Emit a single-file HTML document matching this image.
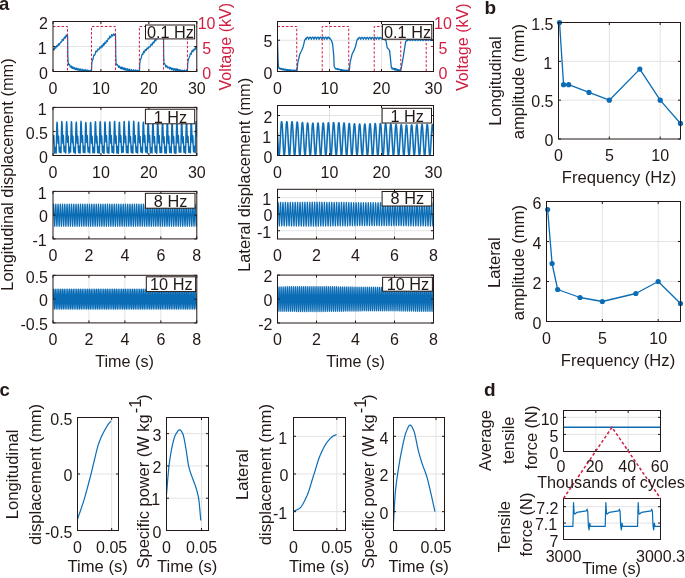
<!DOCTYPE html>
<html><head><meta charset="utf-8"><title>Figure</title>
<style>html,body{margin:0;padding:0;background:#fff;width:685px;height:578px;overflow:hidden;}svg{display:block;font-family:"Liberation Sans", sans-serif;will-change:transform;}</style>
</head><body>
<svg width="685" height="578" viewBox="0 0 685 578" font-family='"Liberation Sans", sans-serif'><rect width="685" height="578" fill="#fff"/>
<rect x="53.00" y="21.50" width="143.80" height="50.00" fill="#fff"/>
<rect x="53.00" y="107.40" width="143.80" height="48.10" fill="#fff"/>
<rect x="53.00" y="191.40" width="143.80" height="47.50" fill="#fff"/>
<rect x="53.00" y="275.30" width="143.80" height="47.60" fill="#fff"/>
<rect x="277.50" y="21.50" width="156.00" height="50.00" fill="#fff"/>
<rect x="277.50" y="105.50" width="156.00" height="50.00" fill="#fff"/>
<rect x="277.50" y="189.30" width="156.00" height="49.70" fill="#fff"/>
<rect x="277.50" y="275.10" width="156.00" height="47.90" fill="#fff"/>
<line x1="100.93" y1="21.50" x2="100.93" y2="71.50" stroke="#e3e3e3" stroke-width="1"/>
<line x1="148.87" y1="21.50" x2="148.87" y2="71.50" stroke="#e3e3e3" stroke-width="1"/>
<line x1="53.00" y1="46.50" x2="196.80" y2="46.50" stroke="#e3e3e3" stroke-width="1"/>
<line x1="100.93" y1="107.40" x2="100.93" y2="155.50" stroke="#e3e3e3" stroke-width="1"/>
<line x1="148.87" y1="107.40" x2="148.87" y2="155.50" stroke="#e3e3e3" stroke-width="1"/>
<line x1="53.00" y1="131.45" x2="196.80" y2="131.45" stroke="#e3e3e3" stroke-width="1"/>
<line x1="88.95" y1="191.40" x2="88.95" y2="238.90" stroke="#e3e3e3" stroke-width="1"/>
<line x1="124.90" y1="191.40" x2="124.90" y2="238.90" stroke="#e3e3e3" stroke-width="1"/>
<line x1="160.85" y1="191.40" x2="160.85" y2="238.90" stroke="#e3e3e3" stroke-width="1"/>
<line x1="53.00" y1="215.15" x2="196.80" y2="215.15" stroke="#e3e3e3" stroke-width="1"/>
<line x1="88.95" y1="275.30" x2="88.95" y2="322.90" stroke="#e3e3e3" stroke-width="1"/>
<line x1="124.90" y1="275.30" x2="124.90" y2="322.90" stroke="#e3e3e3" stroke-width="1"/>
<line x1="160.85" y1="275.30" x2="160.85" y2="322.90" stroke="#e3e3e3" stroke-width="1"/>
<line x1="53.00" y1="299.10" x2="196.80" y2="299.10" stroke="#e3e3e3" stroke-width="1"/>
<line x1="329.50" y1="21.50" x2="329.50" y2="71.50" stroke="#e3e3e3" stroke-width="1"/>
<line x1="381.50" y1="21.50" x2="381.50" y2="71.50" stroke="#e3e3e3" stroke-width="1"/>
<line x1="277.50" y1="40.25" x2="433.50" y2="40.25" stroke="#e3e3e3" stroke-width="1"/>
<line x1="329.50" y1="105.50" x2="329.50" y2="155.50" stroke="#e3e3e3" stroke-width="1"/>
<line x1="381.50" y1="105.50" x2="381.50" y2="155.50" stroke="#e3e3e3" stroke-width="1"/>
<line x1="277.50" y1="135.50" x2="433.50" y2="135.50" stroke="#e3e3e3" stroke-width="1"/>
<line x1="277.50" y1="115.50" x2="433.50" y2="115.50" stroke="#e3e3e3" stroke-width="1"/>
<line x1="316.50" y1="189.30" x2="316.50" y2="239.00" stroke="#e3e3e3" stroke-width="1"/>
<line x1="355.50" y1="189.30" x2="355.50" y2="239.00" stroke="#e3e3e3" stroke-width="1"/>
<line x1="394.50" y1="189.30" x2="394.50" y2="239.00" stroke="#e3e3e3" stroke-width="1"/>
<line x1="277.50" y1="230.72" x2="433.50" y2="230.72" stroke="#e3e3e3" stroke-width="1"/>
<line x1="277.50" y1="214.15" x2="433.50" y2="214.15" stroke="#e3e3e3" stroke-width="1"/>
<line x1="277.50" y1="197.58" x2="433.50" y2="197.58" stroke="#e3e3e3" stroke-width="1"/>
<line x1="316.50" y1="275.10" x2="316.50" y2="323.00" stroke="#e3e3e3" stroke-width="1"/>
<line x1="355.50" y1="275.10" x2="355.50" y2="323.00" stroke="#e3e3e3" stroke-width="1"/>
<line x1="394.50" y1="275.10" x2="394.50" y2="323.00" stroke="#e3e3e3" stroke-width="1"/>
<line x1="277.50" y1="299.05" x2="433.50" y2="299.05" stroke="#e3e3e3" stroke-width="1"/>
<clipPath id="c1"><rect x="53.00" y="20.50" width="143.80" height="52.00"/></clipPath>
<g clip-path="url(#c1)">
<polyline points="53.00,50.26 53.16,49.36 53.32,49.11 53.48,48.74 53.64,48.86 53.80,49.72 53.96,50.06 54.12,49.34 54.28,49.74 54.44,49.31 54.60,47.95 54.76,47.90 54.92,47.14 55.08,47.38 55.24,47.35 55.40,48.13 55.56,47.92 55.72,47.80 55.88,47.99 56.04,47.37 56.20,46.88 56.36,46.91 56.52,45.77 56.67,45.72 56.83,46.03 56.99,46.52 57.15,45.96 57.31,46.55 57.47,46.32 57.63,45.95 57.79,45.70 57.95,44.95 58.11,44.93 58.27,44.09 58.43,44.21 58.59,43.69 58.75,43.89 58.91,44.91 59.07,45.09 59.23,45.11 59.39,44.28 59.55,44.53 59.71,43.91 59.87,43.71 60.03,43.00 60.19,42.71 60.35,42.45 60.51,42.11 60.67,42.16 60.83,41.99 60.99,42.38 61.15,42.22 61.31,42.23 61.47,41.87 61.63,41.79 61.79,41.77 61.95,40.51 62.11,39.88 62.27,39.54 62.43,39.64 62.59,39.44 62.75,40.03 62.91,39.57 63.07,39.98 63.23,40.32 63.39,40.44 63.55,39.35 63.71,38.76 63.86,39.10 64.02,37.82 64.18,37.72 64.34,37.65 64.50,37.38 64.66,36.95 64.82,37.02 64.98,38.03 65.14,37.63 65.30,38.19 65.46,37.29 65.62,37.26 65.78,36.19 65.94,35.56 66.10,35.63 66.26,34.94 66.42,35.67 66.58,36.12 66.74,35.89 66.90,36.68 67.06,36.56 67.22,36.15 67.38,35.51 67.54,35.47 67.70,42.16 67.86,55.41 68.02,59.19 68.18,62.02 68.34,63.04 68.50,64.24 68.66,64.69 68.82,64.90 68.98,64.77 69.14,64.63 69.30,64.46 69.46,64.34 69.62,64.23 69.78,65.16 69.94,65.92 70.10,66.25 70.26,67.12 70.42,67.17 70.58,66.31 70.74,66.42 70.90,66.05 71.05,66.42 71.21,66.13 71.37,66.36 71.53,67.48 71.69,67.42 71.85,67.75 72.01,68.38 72.17,67.61 72.33,67.42 72.49,66.86 72.65,67.01 72.81,66.75 72.97,67.07 73.13,68.28 73.29,68.73 73.45,68.43 73.61,68.20 73.77,68.72 73.93,68.16 74.09,67.65 74.25,67.69 74.41,67.64 74.57,67.93 74.73,68.29 74.89,68.55 75.05,69.26 75.21,69.41 75.37,69.01 75.53,69.54 75.69,68.67 75.85,68.16 76.01,68.34 76.17,68.37 76.33,67.95 76.49,68.85 76.65,69.33 76.81,69.49 76.97,69.52 77.13,70.22 77.29,69.92 77.45,69.66 77.61,68.83 77.77,68.90 77.93,68.26 78.09,68.89 78.24,68.85 78.40,68.82 78.56,68.98 78.72,69.81 78.88,70.37 79.04,70.66 79.20,70.26 79.36,70.44 79.52,69.54 79.68,69.18 79.84,69.55 80.00,69.29 80.16,68.76 80.32,69.10 80.48,69.26 80.64,70.12 80.80,70.73 80.96,70.86 81.12,70.49 81.28,70.97 81.44,70.68 81.60,70.28 81.76,69.95 81.92,69.71 82.08,69.09 82.24,69.94 82.40,70.37 82.56,69.82 82.72,70.29 82.88,70.50 83.04,71.20 83.20,70.62 83.36,70.38 83.52,70.71 83.68,69.81 83.84,69.47 84.00,69.60 84.16,69.94 84.32,70.54 84.48,70.94 84.64,71.43 84.80,71.50 84.96,71.22 85.12,71.24 85.28,70.31 85.43,70.68 85.59,69.60 85.75,69.83 85.91,69.89 86.07,70.36 86.23,70.82 86.39,71.45 86.55,71.50 86.71,71.10 86.87,71.25 87.03,70.69 87.19,70.04 87.35,70.17 87.51,70.55 87.67,70.48 87.83,71.27 87.99,71.50 88.15,71.50 88.31,71.07 88.47,71.02 88.63,70.28 88.79,70.46 88.95,70.65 89.11,70.62 89.27,70.80 89.43,71.50 89.59,71.50 89.75,71.37 89.91,71.20 90.07,70.74 90.23,71.14 90.39,70.30 90.55,70.11 90.71,71.23 90.87,71.46 91.03,71.50 91.19,71.50 91.35,71.50 91.51,71.50 91.67,68.35 91.83,62.87 91.99,61.92 92.15,61.19 92.31,60.78 92.47,60.60 92.62,59.52 92.78,59.40 92.94,59.74 93.10,58.67 93.26,57.99 93.42,57.00 93.58,56.12 93.74,55.25 93.90,54.91 94.06,54.96 94.22,55.12 94.38,55.07 94.54,55.35 94.70,54.87 94.86,54.48 95.02,54.40 95.18,54.11 95.34,53.34 95.50,52.49 95.66,51.70 95.82,51.12 95.98,51.37 96.14,51.03 96.30,51.39 96.46,51.78 96.62,51.97 96.78,51.83 96.94,51.43 97.10,51.35 97.26,50.59 97.42,50.29 97.58,50.01 97.74,49.35 97.90,48.99 98.06,49.60 98.22,49.38 98.38,49.59 98.54,49.34 98.70,49.39 98.86,49.90 99.02,49.14 99.18,48.84 99.34,48.87 99.50,48.14 99.66,48.04 99.81,47.07 99.97,47.13 100.13,47.00 100.29,47.31 100.45,47.68 100.61,47.76 100.77,47.91 100.93,48.13 101.09,47.22 101.25,47.26 101.41,46.57 101.57,45.52 101.73,46.04 101.89,46.01 102.05,46.20 102.21,45.70 102.37,46.61 102.53,46.80 102.69,45.76 102.85,46.02 103.01,44.72 103.17,44.33 103.33,43.77 103.49,43.51 103.65,44.00 103.81,44.06 103.97,45.11 104.13,44.51 104.29,44.64 104.45,44.03 104.61,44.06 104.77,42.82 104.93,42.19 105.09,42.87 105.25,42.66 105.41,42.67 105.57,42.65 105.73,43.32 105.89,43.18 106.05,42.63 106.21,41.61 106.37,40.83 106.53,40.73 106.69,40.58 106.85,40.66 107.00,40.96 107.16,41.12 107.32,41.50 107.48,40.84 107.64,39.86 107.80,39.76 107.96,38.81 108.12,38.96 108.28,38.27 108.44,38.30 108.60,38.62 108.76,39.00 108.92,39.08 109.08,38.72 109.24,38.01 109.40,38.14 109.56,37.57 109.72,36.42 109.88,36.02 110.04,36.47 110.20,36.77 110.36,36.79 110.52,37.54 110.68,37.49 110.84,37.37 111.00,36.58 111.16,36.32 111.32,35.88 111.48,35.00 111.64,34.51 111.80,35.16 111.96,34.91 112.12,35.45 112.28,35.28 112.44,35.73 112.60,36.05 112.76,35.91 112.92,35.75 113.08,34.86 113.24,34.52 113.40,34.39 113.56,34.03 113.72,34.08 113.88,33.80 114.04,34.81 114.19,34.35 114.35,35.19 114.51,35.25 114.67,35.39 114.83,34.85 114.99,34.58 115.15,34.50 115.31,34.28 115.47,34.00 115.63,41.07 115.79,55.99 115.95,59.15 116.11,62.50 116.27,63.89 116.43,64.63 116.59,64.96 116.75,64.64 116.91,64.67 117.07,64.27 117.23,64.24 117.39,64.80 117.55,64.96 117.71,65.20 117.87,65.75 118.03,65.77 118.19,66.11 118.35,66.47 118.51,67.34 118.67,66.75 118.83,67.12 118.99,66.71 119.15,66.11 119.31,66.58 119.47,66.61 119.63,66.14 119.79,67.14 119.95,67.60 120.11,67.84 120.27,68.02 120.43,68.69 120.59,68.12 120.75,67.65 120.91,67.25 121.07,67.34 121.23,67.03 121.38,66.99 121.54,68.04 121.70,68.38 121.86,69.15 122.02,69.07 122.18,68.49 122.34,68.67 122.50,67.50 122.66,67.25 122.82,68.11 122.98,67.58 123.14,68.65 123.30,68.76 123.46,69.12 123.62,69.63 123.78,69.02 123.94,68.63 124.10,68.07 124.26,68.39 124.42,67.97 124.58,68.11 124.74,68.89 124.90,69.50 125.06,70.20 125.22,69.81 125.38,69.68 125.54,68.90 125.70,68.55 125.86,68.47 126.02,68.94 126.18,68.81 126.34,69.30 126.50,70.21 126.66,69.79 126.82,70.06 126.98,70.37 127.14,69.18 127.30,69.59 127.46,69.14 127.62,68.73 127.78,69.07 127.94,69.52 128.10,69.89 128.26,70.46 128.42,70.82 128.57,70.93 128.73,70.81 128.89,69.81 129.05,69.41 129.21,69.38 129.37,69.13 129.53,69.66 129.69,70.09 129.85,70.39 130.01,70.30 130.17,71.41 130.33,71.05 130.49,71.21 130.65,70.43 130.81,70.49 130.97,70.17 131.13,69.86 131.29,69.64 131.45,69.51 131.61,70.19 131.77,70.06 131.93,71.18 132.09,71.34 132.25,71.50 132.41,71.50 132.57,70.84 132.73,70.60 132.89,70.80 133.05,70.48 133.21,70.06 133.37,69.71 133.53,69.79 133.69,70.15 133.85,70.69 134.01,71.50 134.17,71.50 134.33,71.50 134.49,71.48 134.65,71.22 134.81,71.24 134.97,70.83 135.13,70.02 135.29,70.64 135.45,69.94 135.61,70.11 135.76,70.43 135.92,71.40 136.08,71.50 136.24,71.50 136.40,71.50 136.56,70.92 136.72,70.83 136.88,70.84 137.04,70.02 137.20,70.34 137.36,70.41 137.52,70.65 137.68,71.50 137.84,71.42 138.00,71.50 138.16,71.50 138.32,71.50 138.48,71.14 138.64,71.01 138.80,70.44 138.96,70.96 139.12,70.78 139.28,71.08 139.44,71.50 139.60,69.22 139.76,63.01 139.92,62.23 140.08,61.95 140.24,60.25 140.40,59.54 140.56,59.50 140.72,58.87 140.88,58.84 141.04,58.85 141.20,58.07 141.36,57.08 141.52,56.95 141.68,55.65 141.84,55.08 142.00,55.09 142.16,54.10 142.32,54.36 142.48,54.19 142.64,54.53 142.80,54.44 142.95,54.49 143.11,53.41 143.27,52.53 143.43,51.88 143.59,51.78 143.75,51.21 143.91,51.54 144.07,52.19 144.23,52.51 144.39,52.56 144.55,52.26 144.71,51.87 144.87,50.96 145.03,50.16 145.19,49.87 145.35,49.75 145.51,49.54 145.67,50.08 145.83,50.19 145.99,50.09 146.15,50.47 146.31,50.48 146.47,49.34 146.63,48.98 146.79,48.79 146.95,48.35 147.11,47.95 147.27,47.84 147.43,48.36 147.59,48.81 147.75,48.83 147.91,48.36 148.07,48.93 148.23,48.35 148.39,48.19 148.55,47.65 148.71,47.18 148.87,46.53 149.03,46.51 149.19,46.58 149.35,46.58 149.51,46.72 149.67,46.61 149.83,47.19 149.99,47.24 150.14,46.65 150.30,46.35 150.46,45.59 150.62,45.73 150.78,44.89 150.94,44.53 151.10,44.70 151.26,43.74 151.42,44.61 151.58,44.95 151.74,44.78 151.90,45.20 152.06,44.70 152.22,44.75 152.38,44.57 152.54,44.14 152.70,42.94 152.86,42.94 153.02,42.12 153.18,42.30 153.34,41.87 153.50,42.67 153.66,42.91 153.82,43.00 153.98,42.38 154.14,42.28 154.30,42.09 154.46,41.74 154.62,40.56 154.78,39.80 154.94,39.91 155.10,40.47 155.26,40.60 155.42,40.77 155.58,40.85 155.74,40.96 155.90,40.66 156.06,39.56 156.22,38.68 156.38,38.77 156.54,37.55 156.70,37.87 156.86,37.61 157.02,37.73 157.18,37.94 157.33,38.92 157.49,38.46 157.65,37.70 157.81,36.76 157.97,37.04 158.13,36.42 158.29,35.72 158.45,36.59 158.61,36.63 158.77,37.00 158.93,36.79 159.09,36.39 159.25,36.72 159.41,35.57 159.57,35.00 159.73,34.52 159.89,34.71 160.05,34.51 160.21,35.43 160.37,35.73 160.53,36.08 160.69,35.40 160.85,35.31 161.01,35.00 161.17,34.61 161.33,33.76 161.49,33.85 161.65,33.98 161.81,34.67 161.97,35.02 162.13,35.62 162.29,35.08 162.45,35.54 162.61,34.71 162.77,34.02 162.93,33.84 163.09,34.38 163.25,34.45 163.41,34.38 163.57,42.25 163.73,56.70 163.89,60.09 164.05,63.66 164.21,63.49 164.37,63.50 164.52,63.75 164.68,63.67 164.84,64.11 165.00,64.14 165.16,64.11 165.32,65.59 165.48,65.74 165.64,66.69 165.80,67.05 165.96,66.54 166.12,66.77 166.28,66.69 166.44,66.33 166.60,65.67 166.76,65.72 166.92,66.46 167.08,66.58 167.24,66.29 167.40,67.50 167.56,67.56 167.72,67.96 167.88,67.69 168.04,67.78 168.20,67.39 168.36,67.35 168.52,67.43 168.68,67.28 168.84,67.38 169.00,66.82 169.16,67.87 169.32,68.38 169.48,67.85 169.64,68.94 169.80,68.42 169.96,69.21 170.12,68.65 170.28,68.59 170.44,67.67 170.60,67.64 170.76,67.54 170.92,67.53 171.08,67.72 171.24,68.68 171.40,68.87 171.56,69.39 171.71,69.91 171.87,69.14 172.03,69.14 172.19,68.56 172.35,68.81 172.51,68.24 172.67,68.29 172.83,68.24 172.99,69.28 173.15,69.48 173.31,69.74 173.47,70.37 173.63,69.85 173.79,69.40 173.95,69.31 174.11,68.72 174.27,68.56 174.43,69.00 174.59,69.18 174.75,69.00 174.91,70.14 175.07,70.36 175.23,70.75 175.39,70.39 175.55,70.04 175.71,68.87 175.87,68.83 176.03,68.72 176.19,68.92 176.35,69.78 176.51,69.94 176.67,70.65 176.83,70.78 176.99,70.00 177.15,69.63 177.31,69.18 177.47,69.44 177.63,69.23 177.79,69.95 177.95,69.85 178.11,70.37 178.27,71.25 178.43,70.57 178.59,71.02 178.75,70.67 178.90,69.65 179.06,69.88 179.22,69.72 179.38,69.93 179.54,70.99 179.70,70.72 179.86,71.46 180.02,71.31 180.18,71.15 180.34,70.36 180.50,69.96 180.66,70.15 180.82,70.29 180.98,70.30 181.14,70.57 181.30,71.35 181.46,71.50 181.62,71.22 181.78,71.24 181.94,70.72 182.10,70.35 182.26,70.08 182.42,70.32 182.58,70.45 182.74,70.43 182.90,70.58 183.06,70.91 183.22,71.28 183.38,71.50 183.54,71.34 183.70,71.50 183.86,71.37 184.02,70.59 184.18,70.32 184.34,70.57 184.50,70.53 184.66,70.05 184.82,71.09 184.98,71.33 185.14,71.30 185.30,71.50 185.46,71.50 185.62,71.50 185.78,71.50 185.94,71.09 186.09,71.04 186.25,70.21 186.41,70.19 186.57,69.96 186.73,71.03 186.89,71.17 187.05,71.50 187.21,71.50 187.37,71.50 187.53,69.78 187.69,63.38 187.85,62.99 188.01,61.82 188.17,60.92 188.33,59.47 188.49,59.11 188.65,58.73 188.81,58.59 188.97,57.98 189.13,57.57 189.29,57.24 189.45,56.69 189.61,56.41 189.77,56.39 189.93,55.80 190.09,54.49 190.25,53.88 190.41,53.80 190.57,53.35 190.73,53.68 190.89,54.08 191.05,54.25 191.21,54.28 191.37,53.27 191.53,52.41 191.69,51.67 191.85,51.46 192.01,50.86 192.17,50.45 192.33,50.67 192.49,51.15 192.65,51.61 192.81,51.61 192.97,51.80 193.13,51.35 193.28,50.24 193.44,49.32 193.60,49.32 193.76,49.30 193.92,49.49 194.08,49.68 194.24,49.63 194.40,50.09 194.56,49.42 194.72,49.77 194.88,49.01 195.04,48.21 195.20,47.93 195.36,47.39 195.52,47.58 195.68,47.78 195.84,48.38 196.00,49.03 196.16,48.28 196.32,47.83 196.48,47.29 196.64,46.93 196.80,46.13" fill="none" stroke="#0a6cb5" stroke-width="1.2" stroke-linejoin="round"/>
<polyline points="53.00,26.50 67.52,26.50 67.52,71.50 91.49,71.50 91.49,26.50 115.46,26.50 115.46,71.50 139.38,71.50 139.38,26.50 163.49,26.50 163.49,71.50 187.45,71.50 187.45,26.50 196.80,26.50" fill="none" stroke="#d11f43" stroke-width="1" stroke-linejoin="round" stroke-dasharray="2.5 1.8"/>
</g>
<clipPath id="c2"><rect x="277.50" y="20.50" width="156.00" height="52.00"/></clipPath>
<g clip-path="url(#c2)">
<polyline points="277.50,40.46 277.67,47.00 277.85,52.16 278.02,58.19 278.19,62.51 278.37,64.68 278.54,67.16 278.71,67.61 278.89,68.20 279.06,67.60 279.23,68.48 279.41,68.41 279.58,68.10 279.75,68.74 279.93,68.87 280.10,68.23 280.27,68.27 280.45,68.93 280.62,68.89 280.79,69.03 280.97,69.22 281.14,69.13 281.31,68.44 281.49,69.37 281.66,69.26 281.83,69.32 282.01,69.48 282.18,69.06 282.35,68.88 282.53,68.82 282.70,69.06 282.87,68.91 283.05,69.76 283.22,69.52 283.39,68.87 283.57,69.80 283.74,69.63 283.91,69.45 284.09,69.70 284.26,69.46 284.43,69.99 284.61,69.84 284.78,69.15 284.95,70.00 285.13,69.27 285.30,70.03 285.47,69.25 285.65,69.61 285.82,69.67 285.99,70.21 286.17,70.33 286.34,69.66 286.51,70.28 286.69,70.30 286.86,69.70 287.03,69.68 287.21,70.54 287.38,69.66 287.55,70.10 287.73,70.27 287.90,70.56 288.07,70.29 288.25,69.71 288.42,70.43 288.59,70.59 288.77,70.59 288.94,70.62 289.11,70.41 289.29,69.86 289.46,70.71 289.63,70.61 289.81,69.87 289.98,69.83 290.15,69.86 290.33,70.61 290.50,70.51 290.67,69.93 290.85,70.41 291.02,70.21 291.19,70.61 291.37,70.91 291.54,70.60 291.71,70.21 291.89,70.19 292.06,70.42 292.23,70.54 292.41,70.48 292.58,70.59 292.75,70.51 292.93,70.22 293.10,70.87 293.27,70.49 293.45,70.17 293.62,70.26 293.79,70.95 293.97,70.18 294.14,70.31 294.31,71.00 294.49,70.91 294.66,70.99 294.83,71.15 295.01,70.24 295.18,70.82 295.35,70.37 295.53,71.15 295.70,71.26 295.87,70.42 296.05,70.51 296.22,70.32 296.39,70.64 296.57,70.82 296.74,70.59 296.91,71.28 297.09,69.96 297.26,68.13 297.43,66.29 297.61,64.46 297.78,62.62 297.95,61.91 298.13,61.19 298.30,60.47 298.47,59.75 298.65,59.03 298.82,58.31 298.99,57.59 299.17,56.87 299.34,56.16 299.51,55.44 299.69,54.72 299.86,54.00 300.03,53.67 300.21,53.35 300.38,53.02 300.55,52.70 300.73,52.37 300.90,52.05 301.07,51.72 301.25,51.40 301.42,51.07 301.59,50.70 301.77,50.26 301.94,49.81 302.11,49.37 302.29,48.93 302.46,48.49 302.63,48.05 302.81,47.60 302.98,47.16 303.15,46.72 303.33,46.13 303.50,45.38 303.67,44.64 303.85,43.90 304.02,43.15 304.19,42.41 304.37,41.66 304.54,40.92 304.71,40.22 304.89,39.92 305.06,39.61 305.23,39.31 305.41,39.00 305.58,38.70 305.75,38.42 305.93,38.86 306.10,39.31 306.27,38.86 306.45,38.42 306.62,38.03 306.79,37.69 306.97,37.42 307.14,37.23 307.31,37.14 307.49,37.14 307.66,37.23 307.83,37.42 308.01,37.69 308.18,38.03 308.35,38.42 308.53,38.86 308.70,39.31 308.87,38.86 309.05,38.42 309.22,38.03 309.39,37.69 309.57,37.42 309.74,37.23 309.91,37.14 310.09,37.14 310.26,37.23 310.43,37.42 310.61,37.69 310.78,38.03 310.95,38.42 311.13,38.86 311.30,39.31 311.47,38.86 311.65,38.42 311.82,38.03 311.99,37.69 312.17,37.42 312.34,37.23 312.51,37.14 312.69,37.14 312.86,37.23 313.03,37.42 313.21,37.69 313.38,38.03 313.55,38.42 313.73,38.86 313.90,39.31 314.07,38.86 314.25,38.42 314.42,38.03 314.59,37.69 314.77,37.42 314.94,37.23 315.11,37.14 315.29,37.14 315.46,37.23 315.63,37.42 315.81,37.69 315.98,38.03 316.15,38.42 316.33,38.86 316.50,39.31 316.67,38.86 316.85,38.42 317.02,38.03 317.19,37.69 317.37,37.42 317.54,37.23 317.71,37.14 317.89,37.14 318.06,37.23 318.23,37.42 318.41,37.69 318.58,38.03 318.75,38.42 318.93,38.86 319.10,39.31 319.27,38.86 319.45,38.42 319.62,38.03 319.79,37.69 319.97,37.42 320.14,37.23 320.31,37.14 320.49,37.14 320.66,37.23 320.83,37.42 321.01,37.69 321.18,38.03 321.35,38.42 321.53,38.86 321.70,39.31 321.87,38.86 322.05,38.42 322.22,38.03 322.39,37.69 322.57,37.42 322.74,37.23 322.91,37.14 323.09,37.14 323.26,37.23 323.43,37.42 323.61,37.69 323.78,38.03 323.95,38.42 324.13,38.86 324.30,39.31 324.47,38.86 324.65,38.42 324.82,38.03 324.99,37.69 325.17,37.42 325.34,37.23 325.51,37.14 325.69,37.14 325.86,37.23 326.03,37.42 326.21,37.69 326.38,38.03 326.55,38.42 326.73,38.86 326.90,39.31 327.07,38.86 327.25,38.42 327.42,38.03 327.59,37.69 327.77,37.42 327.94,37.23 328.11,37.14 328.29,37.14 328.46,37.23 328.63,37.42 328.81,37.69 328.98,38.03 329.15,38.42 329.33,38.86 329.50,37.75 329.67,37.99 329.85,38.23 330.02,38.46 330.19,38.70 330.37,38.94 330.54,39.18 330.71,39.42 330.89,39.65 331.06,39.89 331.23,40.13 331.41,40.50 331.58,41.00 331.75,41.50 331.93,42.00 332.10,42.50 332.27,43.00 332.45,43.50 332.62,44.00 332.79,45.81 332.97,47.62 333.14,49.43 333.31,51.25 333.49,53.06 333.66,54.87 333.83,56.98 334.01,61.74 334.18,66.50 334.35,66.76 334.53,67.03 334.70,67.29 334.87,67.52 335.05,67.88 335.22,68.44 335.39,68.25 335.57,68.79 335.74,68.87 335.91,69.04 336.09,69.13 336.26,69.12 336.43,68.91 336.61,68.57 336.78,68.65 336.95,68.76 337.13,68.82 337.30,69.41 337.47,68.75 337.65,69.49 337.82,69.67 337.99,69.33 338.17,69.14 338.34,69.56 338.51,69.29 338.69,69.69 338.86,69.04 339.03,69.59 339.21,69.60 339.38,69.58 339.55,69.28 339.73,69.20 339.90,69.69 340.07,69.81 340.25,69.67 340.42,70.26 340.59,69.94 340.77,69.55 340.94,69.66 341.11,70.41 341.29,69.65 341.46,70.15 341.63,69.59 341.81,70.24 341.98,70.43 342.15,70.13 342.33,69.83 342.50,70.32 342.67,69.90 342.85,70.07 343.02,70.44 343.19,70.51 343.37,70.32 343.54,70.45 343.71,70.49 343.89,70.23 344.06,70.02 344.23,70.33 344.41,70.78 344.58,70.72 344.75,70.59 344.93,70.36 345.10,70.85 345.27,70.92 345.45,70.70 345.62,70.76 345.79,71.02 345.97,70.53 346.14,70.17 346.31,70.57 346.49,70.38 346.66,70.31 346.83,70.31 347.01,70.25 347.18,70.74 347.35,70.52 347.53,71.09 347.70,70.35 347.87,70.87 348.05,70.79 348.22,70.39 348.39,71.01 348.57,71.12 348.74,70.50 348.91,70.74 349.09,71.27 349.26,70.88 349.43,69.04 349.61,67.21 349.78,65.37 349.95,63.54 350.13,62.27 350.30,61.55 350.47,60.83 350.65,60.11 350.82,59.39 350.99,58.67 351.17,57.95 351.34,57.23 351.51,56.52 351.69,55.80 351.86,55.08 352.03,54.36 352.21,53.84 352.38,53.51 352.55,53.19 352.73,52.86 352.90,52.54 353.07,52.21 353.25,51.88 353.42,51.56 353.59,51.23 353.77,50.91 353.94,50.48 354.11,50.04 354.29,49.59 354.46,49.15 354.63,48.71 354.81,48.27 354.98,47.83 355.15,47.38 355.33,46.94 355.50,46.50 355.67,45.76 355.85,45.01 356.02,44.27 356.19,43.52 356.37,42.78 356.54,42.04 356.71,41.29 356.89,40.55 357.06,40.05 357.23,39.72 357.41,39.39 357.58,39.06 357.75,38.73 357.93,38.92 358.10,39.31 358.27,38.92 358.45,38.55 358.62,38.21 358.79,37.92 358.97,37.69 359.14,37.53 359.31,37.45 359.49,37.45 359.66,37.53 359.83,37.69 360.01,37.92 360.18,38.21 360.35,38.55 360.53,38.92 360.70,39.31 360.87,38.92 361.05,38.55 361.22,38.21 361.39,37.92 361.57,37.69 361.74,37.53 361.91,37.45 362.09,37.45 362.26,37.53 362.43,37.69 362.61,37.92 362.78,38.21 362.95,38.55 363.13,38.92 363.30,39.31 363.47,38.92 363.65,38.55 363.82,38.21 363.99,37.92 364.17,37.69 364.34,37.53 364.51,37.45 364.69,37.45 364.86,37.53 365.03,37.69 365.21,37.92 365.38,38.21 365.55,38.55 365.73,38.92 365.90,39.31 366.07,38.92 366.25,38.55 366.42,38.21 366.59,37.92 366.77,37.69 366.94,37.53 367.11,37.45 367.29,37.45 367.46,37.53 367.63,37.69 367.81,37.92 367.98,38.21 368.15,38.55 368.33,38.92 368.50,39.31 368.67,38.92 368.85,38.55 369.02,38.21 369.19,37.92 369.37,37.69 369.54,37.53 369.71,37.45 369.89,37.45 370.06,37.53 370.23,37.69 370.41,37.92 370.58,38.21 370.75,38.55 370.93,38.92 371.10,39.31 371.27,38.92 371.45,38.55 371.62,38.21 371.79,37.92 371.97,37.69 372.14,37.53 372.31,37.45 372.49,37.45 372.66,37.53 372.83,37.69 373.01,37.92 373.18,38.21 373.35,38.55 373.53,38.92 373.70,39.31 373.87,38.92 374.05,38.55 374.22,38.21 374.39,37.92 374.57,37.69 374.74,37.53 374.91,37.45 375.09,37.45 375.26,37.53 375.43,37.69 375.61,37.92 375.78,38.21 375.95,38.55 376.13,38.92 376.30,39.31 376.47,38.92 376.65,38.55 376.82,38.21 376.99,37.92 377.17,37.69 377.34,37.53 377.51,37.45 377.69,37.45 377.86,37.53 378.03,37.69 378.21,37.92 378.38,38.21 378.55,38.55 378.73,38.92 378.90,39.31 379.07,38.92 379.25,38.55 379.42,38.21 379.59,37.92 379.77,37.69 379.94,37.53 380.11,37.45 380.29,37.45 380.46,37.53 380.63,37.69 380.81,37.92 380.98,38.21 381.15,38.55 381.33,38.92 381.50,38.38 381.67,38.45 381.85,38.52 382.02,38.60 382.19,38.67 382.37,38.74 382.54,38.82 382.71,38.89 382.89,38.96 383.06,39.04 383.23,39.11 383.41,39.18 383.58,39.26 383.75,39.33 383.93,39.40 384.10,39.48 384.27,39.55 384.45,39.62 384.62,39.70 384.79,39.77 384.97,39.85 385.14,39.92 385.31,39.99 385.49,40.07 385.66,40.14 385.83,40.21 386.01,40.75 386.18,41.75 386.35,42.75 386.53,43.75 386.70,44.75 386.87,45.75 387.05,46.75 387.22,47.75 387.39,47.94 387.57,48.12 387.74,48.31 387.91,48.49 388.09,48.68 388.26,48.86 388.43,49.05 388.61,49.23 388.78,49.42 388.95,49.60 389.13,49.79 389.30,49.97 389.47,50.16 389.65,51.08 389.82,52.73 389.99,54.39 390.17,56.04 390.34,57.70 390.51,59.35 390.69,61.01 390.86,62.66 391.03,64.32 391.21,65.97 391.38,67.62 391.55,67.73 391.73,67.83 391.90,67.94 392.07,68.75 392.25,68.37 392.42,68.99 392.59,67.86 392.77,68.93 392.94,68.90 393.11,68.83 393.29,68.75 393.46,68.98 393.63,68.73 393.81,68.73 393.98,69.11 394.15,69.67 394.33,68.39 394.50,68.87 394.67,69.83 394.85,69.34 395.02,68.92 395.19,68.61 395.37,70.05 395.54,70.18 395.71,69.52 395.89,69.66 396.06,69.00 396.23,69.15 396.41,69.94 396.58,69.85 396.75,69.66 396.93,69.25 397.10,70.32 397.27,70.08 397.45,70.59 397.62,69.81 397.79,70.78 397.97,69.46 398.14,70.13 398.31,70.10 398.49,70.88 398.66,70.71 398.83,70.40 399.01,69.86 399.18,70.39 399.35,70.82 399.53,69.82 399.70,70.35 399.87,70.59 400.05,71.13 400.22,71.03 400.39,70.18 400.57,71.38 400.74,70.88 400.91,69.92 401.09,68.96 401.26,68.00 401.43,67.04 401.61,66.08 401.78,65.13 401.95,64.17 402.13,63.21 402.30,62.25 402.47,61.29 402.65,60.33 402.82,59.37 402.99,58.42 403.17,57.46 403.34,56.50 403.51,55.39 403.69,54.28 403.86,53.17 404.03,52.06 404.21,50.94 404.38,49.83 404.55,48.72 404.73,47.61 404.90,46.50 405.07,45.39 405.25,44.28 405.42,43.17 405.59,42.06 405.77,41.42 405.94,41.25 406.11,41.08 406.29,40.92 406.46,40.75 406.63,40.58 406.81,40.42 406.98,40.25 407.15,40.18 407.33,40.37 407.50,40.56 407.67,40.37 407.85,40.18 408.02,40.01 408.19,39.87 408.37,39.75 408.54,39.67 408.71,39.63 408.89,39.63 409.06,39.67 409.23,39.75 409.41,39.87 409.58,40.01 409.75,40.18 409.93,40.37 410.10,40.56 410.27,40.37 410.45,40.18 410.62,40.01 410.79,39.87 410.97,39.75 411.14,39.67 411.31,39.63 411.49,39.63 411.66,39.67 411.83,39.75 412.01,39.87 412.18,40.01 412.35,40.18 412.53,40.37 412.70,40.56 412.87,40.37 413.05,40.18 413.22,40.01 413.39,39.87 413.57,39.75 413.74,39.67 413.91,39.63 414.09,39.63 414.26,39.67 414.43,39.75 414.61,39.87 414.78,40.01 414.95,40.18 415.13,40.37 415.30,40.56 415.47,40.37 415.65,40.18 415.82,40.01 415.99,39.87 416.17,39.75 416.34,39.67 416.51,39.63 416.69,39.63 416.86,39.67 417.03,39.75 417.21,39.87 417.38,40.01 417.55,40.18 417.73,40.37 417.90,40.56 418.07,40.37 418.25,40.18 418.42,40.01 418.59,39.87 418.77,39.75 418.94,39.67 419.11,39.63 419.29,39.63 419.46,39.67 419.63,39.75 419.81,39.87 419.98,40.01 420.15,40.18 420.33,40.37 420.50,40.56 420.67,40.37 420.85,40.18 421.02,40.01 421.19,39.87 421.37,39.75 421.54,39.67 421.71,39.63 421.89,39.63 422.06,39.67 422.23,39.75 422.41,39.87 422.58,40.01 422.75,40.18 422.93,40.37 423.10,40.56 423.27,40.37 423.45,40.18 423.62,40.01 423.79,39.87 423.97,39.75 424.14,39.67 424.31,39.63 424.49,39.63 424.66,39.67 424.83,39.75 425.01,39.87 425.18,40.01 425.35,40.18 425.53,40.37 425.70,40.56 425.87,40.37 426.05,40.18 426.22,40.01 426.39,39.87 426.57,39.75 426.74,39.67 426.91,39.63 427.09,39.63 427.26,39.67 427.43,39.75 427.61,39.87 427.78,40.01 427.95,40.18 428.13,40.37 428.30,40.56 428.47,40.37 428.65,40.18 428.82,40.01 428.99,39.87 429.17,39.75 429.34,39.67 429.51,39.63 429.69,39.63 429.86,39.67 430.03,39.75 430.21,39.87 430.38,40.01 430.55,40.18 430.73,40.37 430.90,40.56 431.07,40.37 431.25,40.18 431.42,40.01 431.59,39.87 431.77,39.75 431.94,39.67 432.11,39.63 432.29,39.63 432.46,39.67 432.63,39.75 432.81,39.87 432.98,40.01 433.15,40.18 433.33,40.37 433.50,40.56" fill="none" stroke="#0a6cb5" stroke-width="1.3" stroke-linejoin="round"/>
<polyline points="277.50,26.50 296.74,26.50 296.74,71.50 322.22,71.50 322.22,26.50 348.74,26.50 348.74,71.50 374.22,71.50 374.22,26.50 400.74,26.50 400.74,71.50 426.22,71.50 426.22,26.50 433.50,26.50" fill="none" stroke="#d11f43" stroke-width="1" stroke-linejoin="round" stroke-dasharray="2.5 1.8"/>
</g>
<clipPath id="c3"><rect x="53.00" y="106.40" width="143.80" height="50.10"/></clipPath>
<g clip-path="url(#c3)">
<polyline points="53.00,136.89 53.20,142.31 53.40,142.88 53.60,138.28 53.80,135.45 54.00,140.16 54.20,144.97 54.40,150.37 54.60,153.13 54.80,150.74 55.00,149.05 55.20,147.36 55.40,147.75 55.60,150.20 55.80,150.83 56.00,152.16 56.20,153.03 56.40,142.03 56.59,132.92 56.79,125.20 56.99,122.31 57.19,122.86 57.39,125.86 57.59,131.57 57.79,136.43 57.99,142.00 58.19,143.31 58.39,138.81 58.59,136.20 58.79,141.14 58.99,145.67 59.19,150.28 59.39,152.22 59.59,150.87 59.79,149.34 59.99,147.32 60.19,148.37 60.39,149.69 60.59,151.66 60.79,152.51 60.99,152.89 61.19,142.38 61.39,132.61 61.59,125.25 61.79,121.49 61.99,122.34 62.19,125.80 62.39,131.26 62.59,136.75 62.79,142.56 62.99,143.31 63.19,138.25 63.39,135.52 63.59,140.69 63.78,145.19 63.98,150.28 64.18,151.92 64.38,150.37 64.58,149.18 64.78,146.46 64.98,147.58 65.18,150.01 65.38,150.58 65.58,152.82 65.78,152.94 65.98,142.31 66.18,133.01 66.38,124.44 66.58,121.74 66.78,122.76 66.98,125.82 67.18,130.89 67.38,136.97 67.58,142.42 67.78,142.15 67.98,138.74 68.18,136.05 68.38,140.55 68.58,144.84 68.78,150.37 68.98,153.09 69.18,150.26 69.38,148.70 69.58,147.20 69.78,147.72 69.98,149.23 70.18,151.23 70.38,152.09 70.58,152.00 70.78,142.27 70.97,133.07 71.17,125.49 71.37,121.60 71.57,121.85 71.77,126.07 71.97,131.43 72.17,136.84 72.37,142.84 72.57,142.39 72.77,138.57 72.97,136.20 73.17,141.24 73.37,145.23 73.57,150.20 73.77,152.17 73.97,151.11 74.17,148.93 74.37,147.35 74.57,148.42 74.77,149.68 74.97,151.86 75.17,153.44 75.37,152.51 75.57,143.06 75.77,132.77 75.97,125.26 76.17,122.43 76.37,122.14 76.57,125.25 76.77,130.87 76.97,136.92 77.17,142.63 77.37,143.30 77.57,138.99 77.77,136.31 77.97,140.04 78.16,145.86 78.36,149.30 78.56,152.53 78.76,150.73 78.96,149.12 79.16,146.25 79.36,148.74 79.56,149.69 79.76,151.28 79.96,153.23 80.16,152.88 80.36,141.93 80.56,132.35 80.76,124.44 80.96,121.28 81.16,122.77 81.36,125.56 81.56,131.04 81.76,137.34 81.96,142.54 82.16,141.99 82.36,138.91 82.56,135.66 82.76,141.16 82.96,145.07 83.16,150.28 83.36,152.49 83.56,150.82 83.76,148.24 83.96,146.56 84.16,148.28 84.36,149.52 84.56,151.40 84.76,152.36 84.96,152.83 85.16,142.56 85.36,132.65 85.55,124.94 85.75,122.51 85.95,122.67 86.15,125.65 86.35,131.81 86.55,136.57 86.75,142.47 86.95,142.02 87.15,138.16 87.35,135.71 87.55,140.86 87.75,145.97 87.95,149.86 88.15,152.14 88.35,150.03 88.55,149.21 88.75,147.41 88.95,147.59 89.15,149.44 89.35,151.31 89.55,152.45 89.75,152.99 89.95,142.56 90.15,132.53 90.35,124.63 90.55,122.35 90.75,122.71 90.95,125.68 91.15,130.84 91.35,137.46 91.55,143.19 91.75,143.28 91.95,138.25 92.15,136.20 92.35,140.74 92.55,144.60 92.74,149.78 92.94,152.84 93.14,150.35 93.34,149.50 93.54,147.23 93.74,148.00 93.94,150.26 94.14,151.97 94.34,152.77 94.54,152.73 94.74,141.95 94.94,133.35 95.14,124.34 95.34,122.02 95.54,121.75 95.74,125.94 95.94,131.16 96.14,137.19 96.34,142.88 96.54,142.74 96.74,138.23 96.94,136.26 97.14,141.06 97.34,145.43 97.54,150.53 97.74,152.77 97.94,150.53 98.14,148.71 98.34,146.78 98.54,148.59 98.74,150.47 98.94,151.97 99.14,153.03 99.34,152.92 99.54,142.53 99.74,133.11 99.93,124.40 100.13,121.71 100.33,121.96 100.53,125.52 100.73,131.37 100.93,137.05 101.13,142.76 101.33,143.30 101.53,138.24 101.73,136.04 101.93,141.25 102.13,144.69 102.33,149.83 102.53,152.32 102.73,150.73 102.93,149.32 103.13,146.20 103.33,148.76 103.53,149.98 103.73,150.57 103.93,153.34 104.13,152.48 104.33,142.66 104.53,133.14 104.73,124.17 104.93,121.98 105.13,122.90 105.33,125.90 105.53,132.11 105.73,136.64 105.93,141.95 106.13,142.09 106.33,139.32 106.53,135.79 106.73,140.96 106.93,145.35 107.12,150.23 107.32,152.78 107.52,151.17 107.72,148.60 107.92,147.51 108.12,147.62 108.32,150.45 108.52,150.62 108.72,153.24 108.92,153.08 109.12,142.27 109.32,132.73 109.52,124.39 109.72,121.84 109.92,122.00 110.12,126.46 110.32,131.15 110.52,136.92 110.72,141.81 110.92,143.39 111.12,139.29 111.32,135.79 111.52,140.06 111.72,145.42 111.92,149.64 112.12,152.41 112.32,150.80 112.52,148.83 112.72,146.77 112.92,148.96 113.12,150.07 113.32,150.95 113.52,153.14 113.72,152.52 113.92,142.98 114.12,132.98 114.31,124.56 114.51,121.51 114.71,121.53 114.91,125.89 115.11,131.83 115.31,137.17 115.51,143.12 115.71,143.05 115.91,138.54 116.11,135.88 116.31,141.05 116.51,145.77 116.71,150.52 116.91,152.96 117.11,150.64 117.31,149.13 117.51,146.36 117.71,148.19 117.91,150.02 118.11,151.39 118.31,153.46 118.51,152.14 118.71,142.26 118.91,132.97 119.11,124.45 119.31,122.19 119.51,122.60 119.71,126.25 119.91,131.84 120.11,136.79 120.31,142.27 120.51,142.34 120.71,139.24 120.91,135.66 121.11,140.71 121.31,145.48 121.50,149.94 121.70,152.60 121.90,151.07 122.10,148.93 122.30,146.71 122.50,147.97 122.70,149.19 122.90,151.73 123.10,152.23 123.30,152.05 123.50,142.32 123.70,132.08 123.90,125.30 124.10,121.46 124.30,121.61 124.50,126.40 124.70,131.26 124.90,136.29 125.10,142.78 125.30,142.16 125.50,138.08 125.70,136.13 125.90,141.19 126.10,145.72 126.30,149.47 126.50,152.61 126.70,150.90 126.90,148.86 127.10,146.30 127.30,148.64 127.50,150.48 127.70,150.64 127.90,153.06 128.10,152.65 128.30,141.94 128.50,133.09 128.69,125.38 128.89,121.30 129.09,122.56 129.29,126.26 129.49,130.77 129.69,137.33 129.89,141.90 130.09,142.91 130.29,138.95 130.49,136.45 130.69,140.61 130.89,145.22 131.09,150.09 131.29,152.49 131.49,150.93 131.69,148.29 131.89,146.29 132.09,147.92 132.29,149.33 132.49,151.91 132.69,153.15 132.89,152.91 133.09,143.12 133.29,132.10 133.49,124.20 133.69,121.26 133.89,122.11 134.09,126.41 134.29,131.50 134.49,137.58 134.69,141.90 134.89,143.01 135.09,138.97 135.29,135.40 135.49,141.11 135.69,144.70 135.88,150.22 136.08,152.26 136.28,151.21 136.48,148.20 136.68,147.06 136.88,148.51 137.08,149.57 137.28,151.16 137.48,153.15 137.68,153.02 137.88,142.52 138.08,133.46 138.28,124.24 138.48,122.08 138.68,122.67 138.88,126.11 139.08,131.96 139.28,137.20 139.48,142.42 139.68,142.81 139.88,138.90 140.08,136.34 140.28,140.69 140.48,144.91 140.68,150.03 140.88,152.11 141.08,150.66 141.28,149.33 141.48,147.39 141.68,147.78 141.88,149.82 142.08,151.46 142.28,152.77 142.48,151.98 142.68,142.81 142.88,132.97 143.07,124.97 143.27,122.56 143.47,122.13 143.67,125.89 143.87,131.40 144.07,137.01 144.27,142.52 144.47,142.36 144.67,139.12 144.87,135.34 145.07,141.23 145.27,144.78 145.47,150.41 145.67,152.07 145.87,150.98 146.07,149.39 146.27,146.86 146.47,147.80 146.67,149.29 146.87,150.75 147.07,152.10 147.27,153.13 147.47,142.80 147.67,133.34 147.87,124.41 148.07,121.93 148.27,121.84 148.47,125.43 148.67,130.68 148.87,136.68 149.07,141.94 149.27,142.60 149.47,139.27 149.67,135.48 149.87,141.26 150.06,145.91 150.26,149.47 150.46,152.82 150.66,150.40 150.86,149.46 151.06,147.33 151.26,147.97 151.46,150.46 151.66,151.28 151.86,152.16 152.06,152.89 152.26,142.33 152.46,132.42 152.66,124.61 152.86,121.47 153.06,121.90 153.26,126.56 153.46,131.84 153.66,136.89 153.86,141.80 154.06,143.08 154.26,138.54 154.46,136.58 154.66,140.17 154.86,145.39 155.06,149.91 155.26,152.26 155.46,151.16 155.66,148.45 155.86,146.48 156.06,147.77 156.26,150.10 156.46,151.67 156.66,153.28 156.86,151.90 157.06,142.72 157.25,132.93 157.45,124.75 157.65,121.57 157.85,122.45 158.05,126.09 158.25,131.01 158.45,136.54 158.65,142.77 158.85,143.29 159.05,138.05 159.25,135.71 159.45,140.54 159.65,145.45 159.85,149.28 160.05,152.60 160.25,151.05 160.45,149.35 160.65,147.13 160.85,148.14 161.05,149.98 161.25,150.65 161.45,152.58 161.65,152.54 161.85,142.40 162.05,132.63 162.25,124.61 162.45,121.86 162.65,122.16 162.85,125.87 163.05,130.92 163.25,137.38 163.45,142.07 163.65,142.96 163.85,138.16 164.05,136.66 164.25,140.70 164.44,145.39 164.64,149.64 164.84,152.93 165.04,150.98 165.24,149.31 165.44,146.83 165.64,148.17 165.84,150.51 166.04,151.76 166.24,153.23 166.44,151.82 166.64,142.69 166.84,132.68 167.04,125.08 167.24,121.63 167.44,121.74 167.64,125.61 167.84,132.12 168.04,137.03 168.24,142.50 168.44,143.33 168.64,138.25 168.84,136.30 169.04,140.97 169.24,145.13 169.44,149.82 169.64,152.50 169.84,150.12 170.04,148.75 170.24,147.14 170.44,148.91 170.64,149.71 170.84,151.49 171.04,152.74 171.24,152.70 171.44,143.34 171.63,133.44 171.83,125.27 172.03,122.44 172.23,121.68 172.43,125.74 172.63,131.78 172.83,136.64 173.03,142.29 173.23,143.31 173.43,138.30 173.63,136.43 173.83,139.96 174.03,145.83 174.23,150.25 174.43,152.86 174.63,150.12 174.83,148.32 175.03,146.80 175.23,148.79 175.43,149.89 175.63,151.00 175.83,153.43 176.03,151.87 176.23,142.13 176.43,132.15 176.63,124.49 176.83,121.69 177.03,121.51 177.23,126.19 177.43,131.68 177.63,137.48 177.83,142.94 178.03,142.24 178.23,139.25 178.43,135.69 178.63,140.82 178.83,144.76 179.02,149.57 179.22,152.23 179.42,150.14 179.62,149.44 179.82,147.25 180.02,148.47 180.22,149.89 180.42,151.05 180.62,152.25 180.82,152.13 181.02,142.01 181.22,132.49 181.42,124.99 181.62,121.85 181.82,121.83 182.02,125.40 182.22,131.59 182.42,137.15 182.62,142.31 182.82,143.07 183.02,138.11 183.22,136.76 183.42,140.46 183.62,145.33 183.82,150.38 184.02,152.40 184.22,150.68 184.42,148.11 184.62,146.36 184.82,148.16 185.02,149.25 185.22,150.74 185.42,153.28 185.62,152.01 185.82,142.15 186.02,132.06 186.21,124.41 186.41,122.01 186.61,122.61 186.81,125.64 187.01,131.82 187.21,136.57 187.41,142.37 187.61,142.20 187.81,138.87 188.01,136.32 188.21,140.09 188.41,145.07 188.61,150.12 188.81,152.41 189.01,150.73 189.21,148.57 189.41,146.89 189.61,148.59 189.81,149.10 190.01,150.74 190.21,152.42 190.41,152.80 190.61,143.07 190.81,132.44 191.01,124.31 191.21,121.64 191.41,122.60 191.61,125.54 191.81,131.36 192.01,137.12 192.21,142.35 192.41,142.75 192.61,138.45 192.81,135.68 193.01,139.98 193.21,145.87 193.40,149.84 193.60,151.86 193.80,150.41 194.00,148.66 194.20,146.41 194.40,148.96 194.60,149.37 194.80,151.11 195.00,152.67 195.20,152.75 195.40,142.45 195.60,133.31 195.80,124.74 196.00,122.21 196.20,121.57 196.40,125.42 196.60,131.44 196.80,136.57" fill="none" stroke="#0a6cb5" stroke-width="1.4" stroke-linejoin="round"/>
</g>
<clipPath id="c4"><rect x="277.50" y="104.50" width="156.00" height="52.00"/></clipPath>
<g clip-path="url(#c4)">
<polyline points="277.50,141.72 277.63,144.27 277.76,146.69 277.89,148.91 278.02,150.88 278.15,152.55 278.28,153.88 278.41,154.83 278.54,154.90 278.67,154.90 278.80,154.90 278.93,154.59 279.06,153.52 279.19,152.09 279.32,150.32 279.45,148.26 279.58,145.97 279.71,143.50 279.84,140.90 279.97,138.25 280.10,135.61 280.23,133.04 280.36,130.61 280.49,128.38 280.62,126.40 280.75,124.71 280.88,123.37 281.01,122.41 281.14,121.84 281.27,121.69 281.40,121.95 281.53,122.63 281.66,123.70 281.79,125.13 281.92,126.90 282.05,128.96 282.18,131.25 282.31,133.73 282.44,136.33 282.57,138.98 282.70,141.62 282.83,144.19 282.96,146.63 283.09,148.86 283.22,150.85 283.35,152.53 283.48,153.87 283.61,154.83 283.74,154.90 283.87,154.90 284.00,154.90 284.13,154.59 284.26,153.51 284.39,152.07 284.52,150.29 284.65,148.23 284.78,145.92 284.91,143.44 285.04,140.83 285.17,138.17 285.30,135.52 285.43,132.94 285.56,130.50 285.69,128.26 285.82,126.27 285.95,124.58 286.08,123.24 286.21,122.28 286.34,121.72 286.47,121.57 286.60,121.84 286.73,122.52 286.86,123.59 286.99,125.04 287.12,126.82 287.25,128.88 287.38,131.19 287.51,133.67 287.64,136.28 287.77,138.94 287.90,141.60 288.03,144.17 288.16,146.61 288.29,148.85 288.42,150.84 288.55,152.52 288.68,153.86 288.81,154.83 288.94,154.90 289.07,154.90 289.20,154.90 289.33,154.59 289.46,153.51 289.59,152.07 289.72,150.29 289.85,148.23 289.98,145.93 290.11,143.45 290.24,140.85 290.37,138.19 290.50,135.54 290.63,132.97 290.76,130.54 290.89,128.31 291.02,126.33 291.15,124.65 291.28,123.32 291.41,122.36 291.54,121.81 291.67,121.66 291.80,121.94 291.93,122.62 292.06,123.70 292.19,125.15 292.32,126.92 292.45,128.99 292.58,131.29 292.71,133.77 292.84,136.37 292.97,139.02 293.10,141.66 293.23,144.23 293.36,146.66 293.49,148.89 293.62,150.87 293.75,152.54 293.88,153.87 294.01,154.83 294.14,154.90 294.27,154.90 294.40,154.90 294.53,154.59 294.66,153.53 294.79,152.09 294.92,150.33 295.05,148.28 295.18,146.00 295.31,143.54 295.44,140.96 295.57,138.33 295.70,135.70 295.83,133.16 295.96,130.75 296.09,128.54 296.22,126.58 296.35,124.93 296.48,123.61 296.61,122.67 296.74,122.12 296.87,121.98 297.00,122.26 297.13,122.94 297.26,124.02 297.39,125.45 297.52,127.21 297.65,129.26 297.78,131.54 297.91,134.00 298.04,136.57 298.17,139.20 298.30,141.81 298.43,144.35 298.56,146.76 298.69,148.96 298.82,150.92 298.95,152.58 299.08,153.89 299.21,154.84 299.34,154.90 299.47,154.90 299.60,154.90 299.73,154.60 299.86,153.55 299.99,152.13 300.12,150.39 300.25,148.37 300.38,146.12 300.51,143.69 300.64,141.14 300.77,138.54 300.90,135.95 301.03,133.44 301.16,131.07 301.29,128.89 301.42,126.95 301.55,125.32 301.68,124.02 301.81,123.09 301.94,122.55 302.07,122.42 302.20,122.69 302.33,123.37 302.46,124.43 302.59,125.85 302.72,127.59 302.85,129.61 302.98,131.86 303.11,134.28 303.24,136.82 303.37,139.41 303.50,141.99 303.63,144.50 303.76,146.87 303.89,149.05 304.02,150.98 304.15,152.61 304.28,153.91 304.41,154.85 304.54,154.90 304.67,154.90 304.80,154.90 304.93,154.62 305.06,153.57 305.19,152.18 305.32,150.46 305.45,148.46 305.58,146.24 305.71,143.84 305.84,141.32 305.97,138.76 306.10,136.20 306.23,133.72 306.36,131.37 306.49,129.22 306.62,127.31 306.75,125.69 306.88,124.41 307.01,123.49 307.14,122.95 307.27,122.82 307.40,123.09 307.53,123.75 307.66,124.79 307.79,126.19 307.92,127.91 308.05,129.90 308.18,132.12 308.31,134.52 308.44,137.03 308.57,139.59 308.70,142.14 308.83,144.62 308.96,146.96 309.09,149.12 309.22,151.03 309.35,152.64 309.48,153.93 309.61,154.86 309.74,154.90 309.87,154.90 310.00,154.90 310.13,154.62 310.26,153.59 310.39,152.21 310.52,150.51 310.65,148.53 310.78,146.32 310.91,143.94 311.04,141.44 311.17,138.90 311.30,136.36 311.43,133.89 311.56,131.56 311.69,129.42 311.82,127.52 311.95,125.91 312.08,124.63 312.21,123.71 312.34,123.17 312.47,123.03 312.60,123.30 312.73,123.95 312.86,124.98 312.99,126.37 313.12,128.07 313.25,130.05 313.38,132.25 313.51,134.63 313.64,137.12 313.77,139.67 313.90,142.20 314.03,144.67 314.16,147.00 314.29,149.14 314.42,151.04 314.55,152.65 314.68,153.94 314.81,154.86 314.94,154.90 315.07,154.90 315.20,154.90 315.33,154.63 315.46,153.60 315.59,152.22 315.72,150.52 315.85,148.54 315.98,146.34 316.11,143.96 316.24,141.46 316.37,138.92 316.50,136.38 316.63,133.91 316.76,131.58 316.89,129.43 317.02,127.53 317.15,125.92 317.28,124.63 317.41,123.71 317.54,123.16 317.67,123.02 317.80,123.28 317.93,123.92 318.06,124.95 318.19,126.33 318.32,128.03 318.45,130.01 318.58,132.21 318.71,134.59 318.84,137.09 318.97,139.63 319.10,142.17 319.23,144.64 319.36,146.98 319.49,149.13 319.62,151.03 319.75,152.65 319.88,153.93 320.01,154.86 320.14,154.90 320.27,154.90 320.40,154.90 320.53,154.62 320.66,153.59 320.79,152.20 320.92,150.49 321.05,148.51 321.18,146.29 321.31,143.90 321.44,141.40 321.57,138.84 321.70,136.28 321.83,133.80 321.96,131.45 322.09,129.29 322.22,127.38 322.35,125.75 322.48,124.46 322.61,123.52 322.74,122.98 322.87,122.83 323.00,123.08 323.13,123.73 323.26,124.76 323.39,126.15 323.52,127.86 323.65,129.84 323.78,132.06 323.91,134.45 324.04,136.96 324.17,139.53 324.30,142.08 324.43,144.57 324.56,146.92 324.69,149.08 324.82,151.00 324.95,152.63 325.08,153.92 325.21,154.85 325.34,154.90 325.47,154.90 325.60,154.90 325.73,154.62 325.86,153.58 325.99,152.18 326.12,150.46 326.25,148.46 326.38,146.23 326.51,143.82 326.64,141.30 326.77,138.72 326.90,136.15 327.03,133.65 327.16,131.28 327.29,129.11 327.42,127.18 327.55,125.54 327.68,124.24 327.81,123.30 327.94,122.75 328.07,122.60 328.20,122.85 328.33,123.51 328.46,124.55 328.59,125.95 328.72,127.67 328.85,129.67 328.98,131.90 329.11,134.31 329.24,136.84 329.37,139.42 329.50,142.00 329.63,144.50 329.76,146.87 329.89,149.04 330.02,150.97 330.15,152.61 330.28,153.91 330.41,154.85 330.54,154.90 330.67,154.90 330.80,154.90 330.93,154.61 331.06,153.57 331.19,152.16 331.32,150.43 331.45,148.42 331.58,146.18 331.71,143.76 331.84,141.23 331.97,138.64 332.10,136.06 332.23,133.55 332.36,131.17 332.49,128.99 332.62,127.06 332.75,125.42 332.88,124.12 333.01,123.18 333.14,122.63 333.27,122.48 333.40,122.75 333.53,123.41 333.66,124.46 333.79,125.86 333.92,127.59 334.05,129.60 334.18,131.85 334.31,134.27 334.44,136.80 334.57,139.39 334.70,141.97 334.83,144.48 334.96,146.85 335.09,149.03 335.22,150.97 335.35,152.61 335.48,153.91 335.61,154.85 335.74,154.90 335.87,154.90 336.00,154.90 336.13,154.61 336.26,153.57 336.39,152.16 336.52,150.43 336.65,148.43 336.78,146.19 336.91,143.77 337.04,141.24 337.17,138.66 337.30,136.09 337.43,133.59 337.56,131.22 337.69,129.05 337.82,127.12 337.95,125.49 338.08,124.20 338.21,123.27 338.34,122.73 338.47,122.59 338.60,122.86 338.73,123.52 338.86,124.57 338.99,125.98 339.12,127.71 339.25,129.71 339.38,131.95 339.51,134.36 339.64,136.89 339.77,139.47 339.90,142.04 340.03,144.54 340.16,146.90 340.29,149.07 340.42,150.99 340.55,152.62 340.68,153.92 340.81,154.85 340.94,154.90 341.07,154.90 341.20,154.90 341.33,154.62 341.46,153.58 341.59,152.19 341.72,150.47 341.85,148.48 341.98,146.26 342.11,143.87 342.24,141.36 342.37,138.80 342.50,136.25 342.63,133.77 342.76,131.43 342.89,129.28 343.02,127.38 343.15,125.77 343.28,124.49 343.41,123.57 343.54,123.04 343.67,122.91 343.80,123.18 343.93,123.84 344.06,124.88 344.19,126.28 344.32,127.99 344.45,129.98 344.58,132.20 344.71,134.59 344.84,137.09 344.97,139.65 345.10,142.19 345.23,144.66 345.36,147.00 345.49,149.14 345.62,151.04 345.75,152.66 345.88,153.94 346.01,154.86 346.14,154.90 346.27,154.90 346.40,154.90 346.53,154.63 346.66,153.60 346.79,152.23 346.92,150.53 347.05,148.57 347.18,146.38 347.31,144.01 347.44,141.54 347.57,139.01 347.70,136.49 347.83,134.05 347.96,131.74 348.09,129.62 348.22,127.74 348.35,126.15 348.48,124.89 348.61,123.99 348.74,123.46 348.87,123.33 349.00,123.60 349.13,124.26 349.26,125.29 349.39,126.67 349.52,128.36 349.65,130.32 349.78,132.51 349.91,134.87 350.04,137.34 350.17,139.86 350.30,142.37 350.43,144.80 350.56,147.11 350.69,149.23 350.82,151.10 350.95,152.69 351.08,153.96 351.21,154.87 351.34,154.90 351.47,154.90 351.60,154.90 351.73,154.64 351.86,153.63 351.99,152.27 352.12,150.60 352.25,148.66 352.38,146.49 352.51,144.16 352.64,141.72 352.77,139.22 352.90,136.73 353.03,134.32 353.16,132.04 353.29,129.94 353.42,128.09 353.55,126.51 353.68,125.27 353.81,124.37 353.94,123.85 354.07,123.72 354.20,123.98 354.33,124.63 354.46,125.64 354.59,127.00 354.72,128.67 354.85,130.61 354.98,132.77 355.11,135.10 355.24,137.54 355.37,140.03 355.50,142.51 355.63,144.92 355.76,147.20 355.89,149.29 356.02,151.15 356.15,152.72 356.28,153.97 356.41,154.87 356.54,154.90 356.67,154.90 356.80,154.90 356.93,154.65 357.06,153.65 357.19,152.30 357.32,150.64 357.45,148.72 357.58,146.57 357.71,144.26 357.84,141.83 357.97,139.35 358.10,136.89 358.23,134.49 358.36,132.22 358.49,130.14 358.62,128.29 358.75,126.72 358.88,125.48 359.01,124.59 359.14,124.06 359.27,123.93 359.40,124.18 359.53,124.82 359.66,125.82 359.79,127.17 359.92,128.82 360.05,130.75 360.18,132.89 360.31,135.20 360.44,137.63 360.57,140.10 360.70,142.57 360.83,144.97 360.96,147.24 361.09,149.32 361.22,151.17 361.35,152.73 361.48,153.98 361.61,154.87 361.74,154.90 361.87,154.90 362.00,154.90 362.13,154.65 362.26,153.65 362.39,152.31 362.52,150.65 362.65,148.73 362.78,146.59 362.91,144.28 363.04,141.85 363.17,139.37 363.30,136.91 363.43,134.51 363.56,132.24 363.69,130.15 363.82,128.30 363.95,126.73 364.08,125.48 364.21,124.58 364.34,124.05 364.47,123.91 364.60,124.16 364.73,124.79 364.86,125.79 364.99,127.13 365.12,128.79 365.25,130.71 365.38,132.85 365.51,135.17 365.64,137.59 365.77,140.07 365.90,142.54 366.03,144.94 366.16,147.21 366.29,149.30 366.42,151.15 366.55,152.72 366.68,153.97 366.81,154.87 366.94,154.90 367.07,154.90 367.20,154.90 367.33,154.65 367.46,153.64 367.59,152.29 367.72,150.63 367.85,148.70 367.98,146.55 368.11,144.22 368.24,141.79 368.37,139.29 368.50,136.81 368.63,134.40 368.76,132.11 368.89,130.01 369.02,128.15 369.15,126.57 369.28,125.31 369.41,124.40 369.54,123.87 369.67,123.73 369.80,123.97 369.93,124.61 370.06,125.61 370.19,126.96 370.32,128.62 370.45,130.55 370.58,132.71 370.71,135.03 370.84,137.47 370.97,139.97 371.10,142.45 371.23,144.87 371.36,147.16 371.49,149.26 371.62,151.12 371.75,152.70 371.88,153.96 372.01,154.87 372.14,154.90 372.27,154.90 372.40,154.90 372.53,154.64 372.66,153.63 372.79,152.27 372.92,150.60 373.05,148.65 373.18,146.48 373.31,144.14 373.44,141.69 373.57,139.18 373.70,136.68 373.83,134.25 373.96,131.95 374.09,129.83 374.22,127.96 374.35,126.37 374.48,125.10 374.61,124.19 374.74,123.65 374.87,123.51 375.00,123.76 375.13,124.39 375.26,125.41 375.39,126.76 375.52,128.44 375.65,130.38 375.78,132.56 375.91,134.90 376.04,137.36 376.17,139.87 376.30,142.37 376.43,144.80 376.56,147.11 376.69,149.22 376.82,151.10 376.95,152.69 377.08,153.95 377.21,154.86 377.34,154.90 377.47,154.90 377.60,154.90 377.73,154.64 377.86,153.62 377.99,152.25 378.12,150.57 378.25,148.62 378.38,146.44 378.51,144.09 378.64,141.62 378.77,139.11 378.90,136.60 379.03,134.16 379.16,131.85 379.29,129.73 379.42,127.85 379.55,126.26 379.68,124.99 379.81,124.08 379.94,123.54 380.07,123.40 380.20,123.66 380.33,124.30 380.46,125.32 380.59,126.69 380.72,128.37 380.85,130.33 380.98,132.51 381.11,134.86 381.24,137.32 381.37,139.84 381.50,142.35 381.63,144.79 381.76,147.10 381.89,149.21 382.02,151.09 382.15,152.69 382.28,153.95 382.41,154.86 382.54,154.90 382.67,154.90 382.80,154.90 382.93,154.64 383.06,153.62 383.19,152.26 383.32,150.58 383.45,148.63 383.58,146.45 383.71,144.10 383.84,141.64 383.97,139.13 384.10,136.63 384.23,134.20 384.36,131.90 384.49,129.79 384.62,127.92 384.75,126.33 384.88,125.08 385.01,124.17 385.14,123.65 385.27,123.51 385.40,123.77 385.53,124.42 385.66,125.44 385.79,126.81 385.92,128.49 386.05,130.44 386.18,132.61 386.31,134.96 386.44,137.41 386.57,139.92 386.70,142.42 386.83,144.85 386.96,147.14 387.09,149.25 387.22,151.12 387.35,152.70 387.48,153.96 387.61,154.87 387.74,154.90 387.87,154.90 388.00,154.90 388.13,154.64 388.26,153.63 388.39,152.28 388.52,150.61 388.65,148.68 388.78,146.52 388.91,144.20 389.04,141.76 389.17,139.27 389.30,136.79 389.43,134.39 389.56,132.11 389.69,130.02 389.82,128.17 389.95,126.61 390.08,125.36 390.21,124.47 390.34,123.96 390.47,123.83 390.60,124.09 390.73,124.74 390.86,125.75 390.99,127.10 391.12,128.77 391.25,130.70 391.38,132.86 391.51,135.18 391.64,137.61 391.77,140.09 391.90,142.57 392.03,144.97 392.16,147.24 392.29,149.32 392.42,151.17 392.55,152.74 392.68,153.98 392.81,154.88 392.94,154.90 393.07,154.90 393.20,154.90 393.33,154.65 393.46,153.66 393.59,152.32 393.72,150.68 393.85,148.76 393.98,146.63 394.11,144.34 394.24,141.93 394.37,139.48 394.50,137.03 394.63,134.66 394.76,132.41 394.89,130.35 395.02,128.53 395.15,126.99 395.28,125.76 395.41,124.88 395.54,124.37 395.67,124.25 395.80,124.51 395.93,125.15 396.06,126.15 396.19,127.48 396.32,129.13 396.45,131.04 396.58,133.16 396.71,135.45 396.84,137.85 396.97,140.30 397.10,142.74 397.23,145.11 397.36,147.35 397.49,149.41 397.62,151.23 397.75,152.77 397.88,154.00 398.01,154.88 398.14,154.90 398.27,154.90 398.40,154.90 398.53,154.67 398.66,153.68 398.79,152.36 398.92,150.74 399.05,148.85 399.18,146.75 399.31,144.48 399.44,142.11 399.57,139.68 399.70,137.27 399.83,134.92 399.96,132.70 400.09,130.67 400.22,128.87 400.35,127.34 400.48,126.12 400.61,125.25 400.74,124.75 400.87,124.62 401.00,124.88 401.13,125.50 401.26,126.49 401.39,127.81 401.52,129.43 401.65,131.32 401.78,133.41 401.91,135.68 402.04,138.05 402.17,140.47 402.30,142.88 402.43,145.22 402.56,147.44 402.69,149.47 402.82,151.27 402.95,152.80 403.08,154.02 403.21,154.89 403.34,154.90 403.47,154.90 403.60,154.90 403.73,154.67 403.86,153.70 403.99,152.39 404.12,150.78 404.25,148.91 404.38,146.83 404.51,144.58 404.64,142.22 404.77,139.81 404.90,137.41 405.03,135.08 405.16,132.88 405.29,130.86 405.42,129.06 405.55,127.54 405.68,126.33 405.81,125.46 405.94,124.96 406.07,124.82 406.20,125.07 406.33,125.69 406.46,126.66 406.59,127.97 406.72,129.58 406.85,131.45 406.98,133.53 407.11,135.78 407.24,138.13 407.37,140.54 407.50,142.94 407.63,145.27 407.76,147.47 407.89,149.49 408.02,151.29 408.15,152.81 408.28,154.02 408.41,154.89 408.54,154.90 408.67,154.90 408.80,154.90 408.93,154.67 409.06,153.70 409.19,152.40 409.32,150.79 409.45,148.92 409.58,146.84 409.71,144.59 409.84,142.24 409.97,139.83 410.10,137.43 410.23,135.10 410.36,132.89 410.49,130.87 410.62,129.07 410.75,127.54 410.88,126.33 411.01,125.45 411.14,124.94 411.27,124.81 411.40,125.05 411.53,125.66 411.66,126.63 411.79,127.94 411.92,129.54 412.05,131.41 412.18,133.49 412.31,135.74 412.44,138.10 412.57,140.51 412.70,142.91 412.83,145.24 412.96,147.45 413.09,149.48 413.22,151.28 413.35,152.80 413.48,154.02 413.61,154.89 413.74,154.90 413.87,154.90 414.00,154.90 414.13,154.67 414.26,153.69 414.39,152.38 414.52,150.77 414.65,148.89 414.78,146.80 414.91,144.54 415.04,142.17 415.17,139.75 415.30,137.34 415.43,135.00 415.56,132.78 415.69,130.73 415.82,128.92 415.95,127.39 416.08,126.16 416.21,125.28 416.34,124.76 416.47,124.62 416.60,124.86 416.73,125.48 416.86,126.45 416.99,127.76 417.12,129.38 417.25,131.26 417.38,133.35 417.51,135.61 417.64,137.98 417.77,140.41 417.90,142.82 418.03,145.17 418.16,147.39 418.29,149.44 418.42,151.25 418.55,152.78 418.68,154.01 418.81,154.89 418.94,154.90 419.07,154.90 419.20,154.90 419.33,154.67 419.46,153.68 419.59,152.36 419.72,150.74 419.85,148.85 419.98,146.74 420.11,144.46 420.24,142.08 420.37,139.64 420.50,137.21 420.63,134.85 420.76,132.62 420.89,130.56 421.02,128.74 421.15,127.19 421.28,125.96 421.41,125.07 421.54,124.55 421.67,124.41 421.80,124.66 421.93,125.28 422.06,126.26 422.19,127.58 422.32,129.21 422.45,131.10 422.58,133.21 422.71,135.49 422.84,137.87 422.97,140.31 423.10,142.74 423.23,145.11 423.36,147.34 423.49,149.40 423.62,151.22 423.75,152.77 423.88,154.00 424.01,154.88 424.14,154.90 424.27,154.90 424.40,154.90 424.53,154.66 424.66,153.67 424.79,152.35 424.92,150.71 425.05,148.81 425.18,146.70 425.31,144.41 425.44,142.02 425.57,139.57 425.70,137.14 425.83,134.77 425.96,132.53 426.09,130.47 426.22,128.64 426.35,127.09 426.48,125.86 426.61,124.98 426.74,124.46 426.87,124.32 427.00,124.57 427.13,125.20 427.26,126.19 427.39,127.51 427.52,129.15 427.65,131.05 427.78,133.17 427.91,135.45 428.04,137.84 428.17,140.29 428.30,142.73 428.43,145.10 428.56,147.34 428.69,149.39 428.82,151.22 428.95,152.77 429.08,154.00 429.21,154.88 429.34,154.90 429.47,154.90 429.60,154.90 429.73,154.66 429.86,153.67 429.99,152.35 430.12,150.72 430.25,148.82 430.38,146.71 430.51,144.43 430.64,142.04 430.77,139.60 430.90,137.17 431.03,134.81 431.16,132.58 431.29,130.53 431.42,128.72 431.55,127.18 431.68,125.95 431.81,125.08 431.94,124.57 432.07,124.44 432.20,124.69 432.33,125.32 432.46,126.31 432.59,127.64 432.72,129.27 432.85,131.16 432.98,133.27 433.11,135.55 433.24,137.94 433.37,140.37 433.50,142.80" fill="none" stroke="#0a6cb5" stroke-width="1.2" stroke-linejoin="round" stroke-opacity="0.45"/>
<polyline points="277.50,132.37 277.63,134.88 277.76,137.49 277.89,140.13 278.02,142.74 278.15,145.25 278.28,147.60 278.41,149.72 278.54,151.58 278.67,153.12 278.80,154.30 278.93,154.90 279.06,154.90 279.19,154.90 279.32,154.90 279.45,154.21 279.58,152.99 279.71,151.42 279.84,149.53 279.97,147.37 280.10,144.99 280.23,142.46 280.36,139.84 280.49,137.18 280.62,134.56 280.75,132.04 280.88,129.68 281.01,127.54 281.14,125.67 281.27,124.12 281.40,122.92 281.53,122.12 281.66,121.71 281.79,121.73 281.92,122.16 282.05,122.99 282.18,124.21 282.31,125.79 282.44,127.68 282.57,129.84 282.70,132.21 282.83,134.75 282.96,137.38 283.09,140.04 283.22,142.66 283.35,145.18 283.48,147.55 283.61,149.69 283.74,151.56 283.87,153.11 284.00,154.30 284.13,154.90 284.26,154.90 284.39,154.90 284.52,154.90 284.65,154.20 284.78,152.98 284.91,151.39 285.04,149.50 285.17,147.33 285.30,144.94 285.43,142.40 285.56,139.77 285.69,137.10 285.82,134.47 285.95,131.94 286.08,129.57 286.21,127.43 286.34,125.55 286.47,124.00 286.60,122.81 286.73,122.00 286.86,121.60 286.99,121.62 287.12,122.06 287.25,122.90 287.38,124.13 287.51,125.71 287.64,127.61 287.77,129.78 287.90,132.17 288.03,134.71 288.16,137.34 288.29,140.01 288.42,142.64 288.55,145.17 288.68,147.54 288.81,149.68 288.94,151.55 289.07,153.10 289.20,154.30 289.33,154.90 289.46,154.90 289.59,154.90 289.72,154.90 289.85,154.20 289.98,152.98 290.11,151.40 290.24,149.50 290.37,147.34 290.50,144.96 290.63,142.42 290.76,139.79 290.89,137.13 291.02,134.51 291.15,131.99 291.28,129.63 291.41,127.50 291.54,125.63 291.67,124.09 291.80,122.91 291.93,122.11 292.06,121.72 292.19,121.75 292.32,122.19 292.45,123.03 292.58,124.26 292.71,125.84 292.84,127.74 292.97,129.90 293.10,132.28 293.23,134.81 293.36,137.44 293.49,140.09 293.62,142.71 293.75,145.23 293.88,147.58 294.01,149.72 294.14,151.58 294.27,153.12 294.40,154.31 294.53,154.90 294.66,154.90 294.79,154.90 294.92,154.90 295.05,154.21 295.18,153.00 295.31,151.43 295.44,149.55 295.57,147.40 295.70,145.04 295.83,142.53 295.96,139.92 296.09,137.29 296.22,134.69 296.35,132.20 296.48,129.87 296.61,127.75 296.74,125.91 296.87,124.39 297.00,123.22 297.13,122.43 297.26,122.05 297.39,122.08 297.52,122.52 297.65,123.36 297.78,124.58 297.91,126.15 298.04,128.03 298.17,130.17 298.30,132.53 298.43,135.04 298.56,137.64 298.69,140.27 298.82,142.86 298.95,145.35 299.08,147.67 299.21,149.78 299.34,151.62 299.47,153.15 299.60,154.32 299.73,154.90 299.86,154.90 299.99,154.90 300.12,154.90 300.25,154.23 300.38,153.03 300.51,151.48 300.64,149.62 300.77,147.50 300.90,145.18 301.03,142.69 301.16,140.12 301.29,137.52 301.42,134.96 301.55,132.50 301.68,130.20 301.81,128.11 301.94,126.30 302.07,124.79 302.20,123.64 302.33,122.87 302.46,122.49 302.59,122.52 302.72,122.96 302.85,123.79 302.98,124.99 303.11,126.54 303.24,128.39 303.37,130.51 303.50,132.83 303.63,135.31 303.76,137.87 303.89,140.47 304.02,143.02 304.15,145.48 304.28,147.78 304.41,149.86 304.54,151.67 304.67,153.18 304.80,154.33 304.93,154.90 305.06,154.90 305.19,154.90 305.32,154.90 305.45,154.25 305.58,153.06 305.71,151.53 305.84,149.70 305.97,147.61 306.10,145.31 306.23,142.86 306.36,140.32 306.49,137.75 306.62,135.22 306.75,132.78 306.88,130.51 307.01,128.45 307.14,126.65 307.27,125.16 307.40,124.02 307.53,123.25 307.66,122.88 307.79,122.90 307.92,123.33 308.05,124.15 308.18,125.34 308.31,126.86 308.44,128.70 308.57,130.78 308.70,133.08 308.83,135.53 308.96,138.06 309.09,140.63 309.22,143.15 309.35,145.58 309.48,147.86 309.61,149.92 309.74,151.71 309.87,153.20 310.00,154.35 310.13,154.90 310.26,154.90 310.39,154.90 310.52,154.90 310.65,154.26 310.78,153.08 310.91,151.56 311.04,149.75 311.17,147.67 311.30,145.39 311.43,142.96 311.56,140.43 311.69,137.88 311.82,135.37 311.95,132.95 312.08,130.69 312.21,128.64 312.34,126.85 312.47,125.36 312.60,124.23 312.73,123.46 312.86,123.08 312.99,123.10 313.12,123.52 313.25,124.33 313.38,125.50 313.51,127.02 313.64,128.83 313.77,130.91 313.90,133.19 314.03,135.62 314.16,138.14 314.29,140.69 314.42,143.20 314.55,145.62 314.68,147.88 314.81,149.94 314.94,151.73 315.07,153.21 315.20,154.35 315.33,154.90 315.46,154.90 315.59,154.90 315.72,154.90 315.85,154.26 315.98,153.09 316.11,151.57 316.24,149.76 316.37,147.68 316.50,145.40 316.63,142.97 316.76,140.45 316.89,137.89 317.02,135.38 317.15,132.95 317.28,130.69 317.41,128.63 317.54,126.84 317.67,125.35 317.80,124.21 317.93,123.43 318.06,123.05 318.19,123.06 318.32,123.48 318.45,124.28 318.58,125.45 318.71,126.96 318.84,128.78 318.97,130.85 319.10,133.14 319.23,135.57 319.36,138.09 319.49,140.65 319.62,143.17 319.75,145.59 319.88,147.86 320.01,149.92 320.14,151.71 320.27,153.20 320.40,154.34 320.53,154.90 320.66,154.90 320.79,154.90 320.92,154.90 321.05,154.25 321.18,153.07 321.31,151.55 321.44,149.73 321.57,147.64 321.70,145.35 321.83,142.90 321.96,140.37 322.09,137.80 322.22,135.27 322.35,132.83 322.48,130.55 322.61,128.48 322.74,126.67 322.87,125.17 323.00,124.02 323.13,123.24 323.26,122.85 323.39,122.86 323.52,123.27 323.65,124.08 323.78,125.26 323.91,126.78 324.04,128.60 324.17,130.69 324.30,132.99 324.43,135.43 324.56,137.98 324.69,140.55 324.82,143.08 324.95,145.52 325.08,147.81 325.21,149.88 325.34,151.69 325.47,153.18 325.60,154.34 325.73,154.90 325.86,154.90 325.99,154.90 326.12,154.90 326.25,154.24 326.38,153.06 326.51,151.52 326.64,149.69 326.77,147.59 326.90,145.28 327.03,142.81 327.16,140.26 327.29,137.67 327.42,135.12 327.55,132.67 327.68,130.37 327.81,128.29 327.94,126.47 328.07,124.96 328.20,123.80 328.33,123.01 328.46,122.62 328.59,122.64 328.72,123.05 328.85,123.87 328.98,125.05 329.11,126.59 329.24,128.43 329.37,130.53 329.50,132.84 329.63,135.31 329.76,137.86 329.89,140.45 330.02,143.01 330.15,145.46 330.28,147.76 330.41,149.84 330.54,151.66 330.67,153.17 330.80,154.33 330.93,154.90 331.06,154.90 331.19,154.90 331.32,154.90 331.45,154.24 331.58,153.04 331.71,151.51 331.84,149.66 331.97,147.55 332.10,145.23 332.23,142.76 332.36,140.19 332.49,137.60 332.62,135.04 332.75,132.58 332.88,130.27 333.01,128.19 333.14,126.36 333.27,124.85 333.40,123.69 333.53,122.91 333.66,122.52 333.79,122.54 333.92,122.97 334.05,123.79 334.18,124.98 334.31,126.52 334.44,128.37 334.57,130.48 334.70,132.80 334.83,135.27 334.96,137.84 335.09,140.43 335.22,142.99 335.35,145.45 335.48,147.75 335.61,149.84 335.74,151.66 335.87,153.17 336.00,154.33 336.13,154.90 336.26,154.90 336.39,154.90 336.52,154.90 336.65,154.24 336.78,153.05 336.91,151.51 337.04,149.67 337.17,147.56 337.30,145.25 337.43,142.78 337.56,140.22 337.69,137.63 337.82,135.08 337.95,132.63 338.08,130.34 338.21,128.26 338.34,126.45 338.47,124.95 338.60,123.80 338.73,123.02 338.86,122.64 338.99,122.67 339.12,123.10 339.25,123.92 339.38,125.11 339.51,126.65 339.64,128.50 339.77,130.60 339.90,132.91 340.03,135.38 340.16,137.93 340.29,140.52 340.42,143.06 340.55,145.51 340.68,147.80 340.81,149.88 340.94,151.69 341.07,153.19 341.20,154.34 341.33,154.90 341.46,154.90 341.59,154.90 341.72,154.90 341.85,154.25 341.98,153.07 342.11,151.54 342.24,149.71 342.37,147.62 342.50,145.33 342.63,142.89 342.76,140.35 342.89,137.79 343.02,135.27 343.15,132.84 343.28,130.57 343.41,128.52 343.54,126.73 343.67,125.25 343.80,124.11 343.93,123.34 344.06,122.97 344.19,123.00 344.32,123.43 344.45,124.25 344.58,125.43 344.71,126.96 344.84,128.79 344.97,130.87 345.10,133.16 345.23,135.60 345.36,138.13 345.49,140.69 345.62,143.20 345.75,145.63 345.88,147.89 346.01,149.94 346.14,151.73 346.27,153.21 346.40,154.35 346.53,154.90 346.66,154.90 346.79,154.90 346.92,154.90 347.05,154.26 347.18,153.10 347.31,151.59 347.44,149.79 347.57,147.72 347.70,145.46 347.83,143.05 347.96,140.55 348.09,138.02 348.22,135.53 348.35,133.13 348.48,130.90 348.61,128.87 348.74,127.10 348.87,125.64 349.00,124.52 349.13,123.77 349.26,123.40 349.39,123.43 349.52,123.86 349.65,124.66 349.78,125.83 349.91,127.34 350.04,129.14 350.17,131.20 350.30,133.46 350.43,135.87 350.56,138.36 350.69,140.88 350.82,143.37 350.95,145.76 351.08,147.99 351.21,150.02 351.34,151.78 351.47,153.24 351.60,154.37 351.73,154.90 351.86,154.90 351.99,154.90 352.12,154.90 352.25,154.28 352.38,153.13 352.51,151.64 352.64,149.86 352.77,147.82 352.90,145.59 353.03,143.21 353.16,140.74 353.29,138.24 353.42,135.78 353.55,133.41 353.68,131.20 353.81,129.19 353.94,127.45 354.07,126.00 354.20,124.89 354.33,124.14 354.46,123.78 354.59,123.80 354.72,124.22 354.85,125.01 354.98,126.17 355.11,127.66 355.24,129.44 355.37,131.47 355.50,133.70 355.63,136.08 355.76,138.54 355.89,141.04 356.02,143.49 356.15,145.86 356.28,148.07 356.41,150.07 356.54,151.82 356.67,153.26 356.80,154.38 356.93,154.90 357.06,154.90 357.19,154.90 357.32,154.90 357.45,154.29 357.58,153.15 357.71,151.67 357.84,149.91 357.97,147.89 358.10,145.67 358.23,143.30 358.36,140.85 358.49,138.37 358.62,135.92 358.75,133.57 358.88,131.37 359.01,129.38 359.14,127.64 359.27,126.20 359.40,125.09 359.53,124.34 359.66,123.97 359.79,123.99 359.92,124.40 360.05,125.18 360.18,126.33 360.31,127.80 360.44,129.57 360.57,131.58 360.70,133.80 360.83,136.16 360.96,138.62 361.09,141.10 361.22,143.54 361.35,145.89 361.48,148.09 361.61,150.09 361.74,151.83 361.87,153.27 362.00,154.38 362.13,154.90 362.26,154.90 362.39,154.90 362.52,154.90 362.65,154.29 362.78,153.15 362.91,151.68 363.04,149.91 363.17,147.90 363.30,145.68 363.43,143.31 363.56,140.86 363.69,138.38 363.82,135.93 363.95,133.57 364.08,131.37 364.21,129.37 364.34,127.63 364.47,126.18 364.60,125.07 364.73,124.31 364.86,123.94 364.99,123.95 365.12,124.36 365.25,125.14 365.38,126.28 365.51,127.75 365.64,129.51 365.77,131.53 365.90,133.75 366.03,136.12 366.16,138.57 366.29,141.06 366.42,143.51 366.55,145.86 366.68,148.07 366.81,150.07 366.94,151.82 367.07,153.26 367.20,154.38 367.33,154.90 367.46,154.90 367.59,154.90 367.72,154.90 367.85,154.29 367.98,153.14 368.11,151.66 368.24,149.89 368.37,147.86 368.50,145.63 368.63,143.25 368.76,140.78 368.89,138.29 369.02,135.82 369.15,133.45 369.28,131.23 369.41,129.22 369.54,127.46 369.67,126.01 369.80,124.88 369.93,124.12 370.06,123.74 370.19,123.76 370.32,124.16 370.45,124.94 370.58,126.09 370.71,127.57 370.84,129.34 370.97,131.37 371.10,133.61 371.23,135.99 371.36,138.46 371.49,140.96 371.62,143.42 371.75,145.80 371.88,148.02 372.01,150.03 372.14,151.79 372.27,153.25 372.40,154.37 372.53,154.90 372.66,154.90 372.79,154.90 372.92,154.90 373.05,154.28 373.18,153.12 373.31,151.63 373.44,149.85 373.57,147.80 373.70,145.56 373.83,143.16 373.96,140.68 374.09,138.16 374.22,135.68 374.35,133.30 374.48,131.06 374.61,129.04 374.74,127.27 374.87,125.80 375.00,124.67 375.13,123.91 375.26,123.53 375.39,123.54 375.52,123.95 375.65,124.74 375.78,125.90 375.91,127.39 376.04,129.17 376.17,131.22 376.30,133.47 376.43,135.86 376.56,138.35 376.69,140.87 376.82,143.35 376.95,145.74 377.08,147.97 377.21,150.00 377.34,151.77 377.47,153.24 377.60,154.36 377.73,154.90 377.86,154.90 377.99,154.90 378.12,154.90 378.25,154.27 378.38,153.11 378.51,151.62 378.64,149.82 378.77,147.77 378.90,145.51 379.03,143.11 379.16,140.62 379.29,138.09 379.42,135.61 379.55,133.21 379.68,130.97 379.81,128.94 379.94,127.17 380.07,125.71 380.20,124.58 380.33,123.82 380.46,123.44 380.59,123.46 380.72,123.87 380.85,124.67 380.98,125.83 381.11,127.33 381.24,129.12 381.37,131.18 381.50,133.43 381.63,135.84 381.76,138.33 381.89,140.85 382.02,143.34 382.15,145.73 382.28,147.97 382.41,150.00 382.54,151.77 382.67,153.23 382.80,154.36 382.93,154.90 383.06,154.90 383.19,154.90 383.32,154.90 383.45,154.27 383.58,153.12 383.71,151.62 383.84,149.83 383.97,147.78 384.10,145.53 384.23,143.14 384.36,140.65 384.49,138.14 384.62,135.66 384.75,133.27 384.88,131.04 385.01,129.03 385.14,127.27 385.27,125.81 385.40,124.69 385.53,123.93 385.66,123.57 385.79,123.59 385.92,124.01 386.05,124.81 386.18,125.97 386.31,127.46 386.44,129.26 386.57,131.30 386.70,133.55 386.83,135.94 386.96,138.43 387.09,140.94 387.22,143.41 387.35,145.79 387.48,148.02 387.61,150.03 387.74,151.79 387.87,153.25 388.00,154.37 388.13,154.90 388.26,154.90 388.39,154.90 388.52,154.90 388.65,154.28 388.78,153.13 388.91,151.65 389.04,149.88 389.17,147.85 389.30,145.62 389.43,143.24 389.56,140.78 389.69,138.29 389.82,135.84 389.95,133.48 390.08,131.28 390.21,129.28 390.34,127.54 390.47,126.10 390.60,125.00 390.73,124.25 390.86,123.89 390.99,123.92 391.12,124.34 391.25,125.13 391.38,126.29 391.51,127.77 391.64,129.54 391.77,131.57 391.90,133.80 392.03,136.17 392.16,138.62 392.29,141.11 392.42,143.55 392.55,145.91 392.68,148.11 392.81,150.10 392.94,151.84 393.07,153.28 393.20,154.38 393.33,154.90 393.46,154.90 393.59,154.90 393.72,154.90 393.85,154.30 393.98,153.16 394.11,151.70 394.24,149.95 394.37,147.95 394.50,145.75 394.63,143.40 394.76,140.97 394.89,138.52 395.02,136.10 395.15,133.77 395.28,131.60 395.41,129.63 395.54,127.91 395.67,126.49 395.80,125.40 395.93,124.67 396.06,124.32 396.19,124.34 396.32,124.75 396.45,125.54 396.58,126.68 396.71,128.14 396.84,129.89 396.97,131.89 397.10,134.09 397.23,136.43 397.36,138.85 397.49,141.30 397.62,143.71 397.75,146.03 397.88,148.20 398.01,150.17 398.14,151.89 398.27,153.31 398.40,154.40 398.53,154.90 398.66,154.90 398.79,154.90 398.92,154.90 399.05,154.31 399.18,153.19 399.31,151.75 399.44,150.02 399.57,148.04 399.70,145.87 399.83,143.55 399.96,141.15 400.09,138.73 400.22,136.34 400.35,134.04 400.48,131.89 400.61,129.94 400.74,128.24 400.87,126.84 401.00,125.76 401.13,125.03 401.26,124.68 401.39,124.70 401.52,125.11 401.65,125.88 401.78,127.00 401.91,128.45 402.04,130.18 402.17,132.15 402.30,134.32 402.43,136.63 402.56,139.02 402.69,141.45 402.82,143.83 402.95,146.13 403.08,148.28 403.21,150.22 403.34,151.92 403.47,153.33 403.60,154.41 403.73,154.90 403.86,154.90 403.99,154.90 404.12,154.90 404.25,154.33 404.38,153.21 404.51,151.78 404.64,150.06 404.77,148.10 404.90,145.95 405.03,143.65 405.16,141.26 405.29,138.85 405.42,136.48 405.55,134.19 405.68,132.05 405.81,130.12 405.94,128.43 406.07,127.03 406.20,125.95 406.33,125.22 406.46,124.86 406.59,124.88 406.72,125.28 406.85,126.04 406.98,127.15 407.11,128.58 407.24,130.30 407.37,132.26 407.50,134.42 407.63,136.71 407.76,139.09 407.89,141.50 408.02,143.88 408.15,146.17 408.28,148.30 408.41,150.24 408.54,151.93 408.67,153.33 408.80,154.41 408.93,154.90 409.06,154.90 409.19,154.90 409.32,154.90 409.45,154.33 409.58,153.22 409.71,151.79 409.84,150.07 409.97,148.11 410.10,145.96 410.23,143.66 410.36,141.27 410.49,138.86 410.62,136.48 410.75,134.19 410.88,132.05 411.01,130.11 411.14,128.41 411.27,127.01 411.40,125.93 411.53,125.19 411.66,124.83 411.79,124.84 411.92,125.24 412.05,126.00 412.18,127.10 412.31,128.53 412.44,130.25 412.57,132.21 412.70,134.37 412.83,136.66 412.96,139.05 413.09,141.46 413.22,143.85 413.35,146.14 413.48,148.28 413.61,150.22 413.74,151.92 413.87,153.33 414.00,154.41 414.13,154.90 414.26,154.90 414.39,154.90 414.52,154.90 414.65,154.32 414.78,153.21 414.91,151.77 415.04,150.05 415.17,148.07 415.30,145.91 415.43,143.60 415.56,141.20 415.69,138.77 415.82,136.38 415.95,134.08 416.08,131.92 416.21,129.96 416.34,128.26 416.47,126.84 416.60,125.75 416.73,125.01 416.86,124.64 416.99,124.65 417.12,125.05 417.25,125.81 417.38,126.92 417.51,128.36 417.64,130.08 417.77,132.06 417.90,134.22 418.03,136.54 418.16,138.94 418.29,141.37 418.42,143.77 418.55,146.07 418.68,148.23 418.81,150.19 418.94,151.90 419.07,153.31 419.20,154.40 419.33,154.90 419.46,154.90 419.59,154.90 419.72,154.90 419.85,154.31 419.98,153.19 420.11,151.74 420.24,150.01 420.37,148.02 420.50,145.84 420.63,143.51 420.76,141.10 420.89,138.66 421.02,136.25 421.15,133.93 421.28,131.76 421.41,129.79 421.54,128.07 421.67,126.65 421.80,125.55 421.93,124.81 422.06,124.44 422.19,124.45 422.32,124.85 422.45,125.62 422.58,126.74 422.71,128.18 422.84,129.92 422.97,131.91 423.10,134.09 423.23,136.42 423.36,138.84 423.49,141.28 423.62,143.70 423.75,146.02 423.88,148.19 424.01,150.16 424.14,151.88 424.27,153.30 424.40,154.39 424.53,154.90 424.66,154.90 424.79,154.90 424.92,154.90 425.05,154.31 425.18,153.18 425.31,151.73 425.44,149.98 425.57,147.99 425.70,145.80 425.83,143.46 425.96,141.04 426.09,138.59 426.22,136.18 426.35,133.85 426.48,131.68 426.61,129.70 426.74,127.98 426.87,126.56 427.00,125.46 427.13,124.72 427.26,124.36 427.39,124.38 427.52,124.78 427.65,125.55 427.78,126.68 427.91,128.14 428.04,129.88 428.17,131.87 428.30,134.07 428.43,136.40 428.56,138.82 428.69,141.27 428.82,143.69 428.95,146.01 429.08,148.19 429.21,150.16 429.34,151.88 429.47,153.30 429.60,154.40 429.73,154.90 429.86,154.90 429.99,154.90 430.12,154.90 430.25,154.31 430.38,153.18 430.51,151.73 430.64,149.99 430.77,148.00 430.90,145.82 431.03,143.49 431.16,141.08 431.29,138.64 431.42,136.23 431.55,133.91 431.68,131.75 431.81,129.79 431.94,128.08 432.07,126.67 432.20,125.58 432.33,124.85 432.46,124.49 432.59,124.51 432.72,124.92 432.85,125.69 432.98,126.82 433.11,128.27 433.24,130.02 433.37,132.00 433.50,134.19" fill="none" stroke="#0a6cb5" stroke-width="1.4" stroke-linejoin="round"/>
</g>
<clipPath id="c5"><rect x="53.00" y="190.40" width="143.80" height="49.50"/></clipPath>
<g clip-path="url(#c5)">
<polyline points="53.00,215.15 53.09,212.37 53.18,209.77 53.27,207.51 53.36,205.73 53.45,204.53 53.54,204.01 53.63,204.19 53.72,205.05 53.81,206.55 53.90,208.59 53.99,211.04 54.08,213.75 54.17,216.55 54.26,219.26 54.35,221.71 54.44,223.75 54.53,225.25 54.62,226.11 54.71,226.29 54.80,225.77 54.89,224.57 54.98,222.79 55.07,220.53 55.16,217.93 55.25,215.15 55.34,212.37 55.43,209.77 55.52,207.51 55.61,205.73 55.70,204.53 55.79,204.01 55.88,204.19 55.97,205.05 56.06,206.55 56.15,208.59 56.24,211.04 56.33,213.75 56.42,216.55 56.51,219.26 56.59,221.71 56.68,223.75 56.77,225.25 56.86,226.11 56.95,226.29 57.04,225.77 57.13,224.57 57.22,222.79 57.31,220.53 57.40,217.93 57.49,215.15 57.58,212.37 57.67,209.77 57.76,207.51 57.85,205.73 57.94,204.53 58.03,204.01 58.12,204.19 58.21,205.05 58.30,206.55 58.39,208.59 58.48,211.04 58.57,213.75 58.66,216.55 58.75,219.26 58.84,221.71 58.93,223.75 59.02,225.25 59.11,226.11 59.20,226.29 59.29,225.77 59.38,224.57 59.47,222.79 59.56,220.53 59.65,217.93 59.74,215.15 59.83,212.37 59.92,209.77 60.01,207.51 60.10,205.73 60.19,204.53 60.28,204.01 60.37,204.19 60.46,205.05 60.55,206.55 60.64,208.59 60.73,211.04 60.82,213.75 60.91,216.55 61.00,219.26 61.09,221.71 61.18,223.75 61.27,225.25 61.36,226.11 61.45,226.29 61.54,225.77 61.63,224.57 61.72,222.79 61.81,220.53 61.90,217.93 61.99,215.15 62.08,212.37 62.17,209.77 62.26,207.51 62.35,205.73 62.44,204.53 62.53,204.01 62.62,204.19 62.71,205.05 62.80,206.55 62.89,208.59 62.98,211.04 63.07,213.75 63.16,216.55 63.25,219.26 63.34,221.71 63.43,223.75 63.52,225.25 63.61,226.11 63.70,226.29 63.78,225.77 63.87,224.57 63.96,222.79 64.05,220.53 64.14,217.93 64.23,215.15 64.32,212.37 64.41,209.77 64.50,207.51 64.59,205.73 64.68,204.53 64.77,204.01 64.86,204.19 64.95,205.05 65.04,206.55 65.13,208.59 65.22,211.04 65.31,213.75 65.40,216.55 65.49,219.26 65.58,221.71 65.67,223.75 65.76,225.25 65.85,226.11 65.94,226.29 66.03,225.77 66.12,224.57 66.21,222.79 66.30,220.53 66.39,217.93 66.48,215.15 66.57,212.37 66.66,209.77 66.75,207.51 66.84,205.73 66.93,204.53 67.02,204.01 67.11,204.19 67.20,205.05 67.29,206.55 67.38,208.59 67.47,211.04 67.56,213.75 67.65,216.55 67.74,219.26 67.83,221.71 67.92,223.75 68.01,225.25 68.10,226.11 68.19,226.29 68.28,225.77 68.37,224.57 68.46,222.79 68.55,220.53 68.64,217.93 68.73,215.15 68.82,212.37 68.91,209.77 69.00,207.51 69.09,205.73 69.18,204.53 69.27,204.01 69.36,204.19 69.45,205.05 69.54,206.55 69.63,208.59 69.72,211.04 69.81,213.75 69.90,216.55 69.99,219.26 70.08,221.71 70.17,223.75 70.26,225.25 70.35,226.11 70.44,226.29 70.53,225.77 70.62,224.57 70.71,222.79 70.80,220.53 70.89,217.93 70.97,215.15 71.06,212.37 71.15,209.77 71.24,207.51 71.33,205.73 71.42,204.53 71.51,204.01 71.60,204.19 71.69,205.05 71.78,206.55 71.87,208.59 71.96,211.04 72.05,213.75 72.14,216.55 72.23,219.26 72.32,221.71 72.41,223.75 72.50,225.25 72.59,226.11 72.68,226.29 72.77,225.77 72.86,224.57 72.95,222.79 73.04,220.53 73.13,217.93 73.22,215.15 73.31,212.37 73.40,209.77 73.49,207.51 73.58,205.73 73.67,204.53 73.76,204.01 73.85,204.19 73.94,205.05 74.03,206.55 74.12,208.59 74.21,211.04 74.30,213.75 74.39,216.55 74.48,219.26 74.57,221.71 74.66,223.75 74.75,225.25 74.84,226.11 74.93,226.29 75.02,225.77 75.11,224.57 75.20,222.79 75.29,220.53 75.38,217.93 75.47,215.15 75.56,212.37 75.65,209.77 75.74,207.51 75.83,205.73 75.92,204.53 76.01,204.01 76.10,204.19 76.19,205.05 76.28,206.55 76.37,208.59 76.46,211.04 76.55,213.75 76.64,216.55 76.73,219.26 76.82,221.71 76.91,223.75 77.00,225.25 77.09,226.11 77.18,226.29 77.27,225.77 77.36,224.57 77.45,222.79 77.54,220.53 77.63,217.93 77.72,215.15 77.81,212.37 77.90,209.77 77.99,207.51 78.08,205.73 78.16,204.53 78.25,204.01 78.34,204.19 78.43,205.05 78.52,206.55 78.61,208.59 78.70,211.04 78.79,213.75 78.88,216.55 78.97,219.26 79.06,221.71 79.15,223.75 79.24,225.25 79.33,226.11 79.42,226.29 79.51,225.77 79.60,224.57 79.69,222.79 79.78,220.53 79.87,217.93 79.96,215.15 80.05,212.37 80.14,209.77 80.23,207.51 80.32,205.73 80.41,204.53 80.50,204.01 80.59,204.19 80.68,205.05 80.77,206.55 80.86,208.59 80.95,211.04 81.04,213.75 81.13,216.55 81.22,219.26 81.31,221.71 81.40,223.75 81.49,225.25 81.58,226.11 81.67,226.29 81.76,225.77 81.85,224.57 81.94,222.79 82.03,220.53 82.12,217.93 82.21,215.15 82.30,212.37 82.39,209.77 82.48,207.51 82.57,205.73 82.66,204.53 82.75,204.01 82.84,204.19 82.93,205.05 83.02,206.55 83.11,208.59 83.20,211.04 83.29,213.75 83.38,216.55 83.47,219.26 83.56,221.71 83.65,223.75 83.74,225.25 83.83,226.11 83.92,226.29 84.01,225.77 84.10,224.57 84.19,222.79 84.28,220.53 84.37,217.93 84.46,215.15 84.55,212.37 84.64,209.77 84.73,207.51 84.82,205.73 84.91,204.53 85.00,204.01 85.09,204.19 85.18,205.05 85.27,206.55 85.36,208.59 85.44,211.04 85.53,213.75 85.62,216.55 85.71,219.26 85.80,221.71 85.89,223.75 85.98,225.25 86.07,226.11 86.16,226.29 86.25,225.77 86.34,224.57 86.43,222.79 86.52,220.53 86.61,217.93 86.70,215.15 86.79,212.37 86.88,209.77 86.97,207.51 87.06,205.73 87.15,204.53 87.24,204.01 87.33,204.19 87.42,205.05 87.51,206.55 87.60,208.59 87.69,211.04 87.78,213.75 87.87,216.55 87.96,219.26 88.05,221.71 88.14,223.75 88.23,225.25 88.32,226.11 88.41,226.29 88.50,225.77 88.59,224.57 88.68,222.79 88.77,220.53 88.86,217.93 88.95,215.15 89.04,212.37 89.13,209.77 89.22,207.51 89.31,205.73 89.40,204.53 89.49,204.01 89.58,204.19 89.67,205.05 89.76,206.55 89.85,208.59 89.94,211.04 90.03,213.75 90.12,216.55 90.21,219.26 90.30,221.71 90.39,223.75 90.48,225.25 90.57,226.11 90.66,226.29 90.75,225.77 90.84,224.57 90.93,222.79 91.02,220.53 91.11,217.93 91.20,215.15 91.29,212.37 91.38,209.77 91.47,207.51 91.56,205.73 91.65,204.53 91.74,204.01 91.83,204.19 91.92,205.05 92.01,206.55 92.10,208.59 92.19,211.04 92.28,213.75 92.37,216.55 92.46,219.26 92.55,221.71 92.63,223.75 92.72,225.25 92.81,226.11 92.90,226.29 92.99,225.77 93.08,224.57 93.17,222.79 93.26,220.53 93.35,217.93 93.44,215.15 93.53,212.37 93.62,209.77 93.71,207.51 93.80,205.73 93.89,204.53 93.98,204.01 94.07,204.19 94.16,205.05 94.25,206.55 94.34,208.59 94.43,211.04 94.52,213.75 94.61,216.55 94.70,219.26 94.79,221.71 94.88,223.75 94.97,225.25 95.06,226.11 95.15,226.29 95.24,225.77 95.33,224.57 95.42,222.79 95.51,220.53 95.60,217.93 95.69,215.15 95.78,212.37 95.87,209.77 95.96,207.51 96.05,205.73 96.14,204.53 96.23,204.01 96.32,204.19 96.41,205.05 96.50,206.55 96.59,208.59 96.68,211.04 96.77,213.75 96.86,216.55 96.95,219.26 97.04,221.71 97.13,223.75 97.22,225.25 97.31,226.11 97.40,226.29 97.49,225.77 97.58,224.57 97.67,222.79 97.76,220.53 97.85,217.93 97.94,215.15 98.03,212.37 98.12,209.77 98.21,207.51 98.30,205.73 98.39,204.53 98.48,204.01 98.57,204.19 98.66,205.05 98.75,206.55 98.84,208.59 98.93,211.04 99.02,213.75 99.11,216.55 99.20,219.26 99.29,221.71 99.38,223.75 99.47,225.25 99.56,226.11 99.65,226.29 99.74,225.77 99.82,224.57 99.91,222.79 100.00,220.53 100.09,217.93 100.18,215.15 100.27,212.37 100.36,209.77 100.45,207.51 100.54,205.73 100.63,204.53 100.72,204.01 100.81,204.19 100.90,205.05 100.99,206.55 101.08,208.59 101.17,211.04 101.26,213.75 101.35,216.55 101.44,219.26 101.53,221.71 101.62,223.75 101.71,225.25 101.80,226.11 101.89,226.29 101.98,225.77 102.07,224.57 102.16,222.79 102.25,220.53 102.34,217.93 102.43,215.15 102.52,212.37 102.61,209.77 102.70,207.51 102.79,205.73 102.88,204.53 102.97,204.01 103.06,204.19 103.15,205.05 103.24,206.55 103.33,208.59 103.42,211.04 103.51,213.75 103.60,216.55 103.69,219.26 103.78,221.71 103.87,223.75 103.96,225.25 104.05,226.11 104.14,226.29 104.23,225.77 104.32,224.57 104.41,222.79 104.50,220.53 104.59,217.93 104.68,215.15 104.77,212.37 104.86,209.77 104.95,207.51 105.04,205.73 105.13,204.53 105.22,204.01 105.31,204.19 105.40,205.05 105.49,206.55 105.58,208.59 105.67,211.04 105.76,213.75 105.85,216.55 105.94,219.26 106.03,221.71 106.12,223.75 106.21,225.25 106.30,226.11 106.39,226.29 106.48,225.77 106.57,224.57 106.66,222.79 106.75,220.53 106.84,217.93 106.93,215.15 107.01,212.37 107.10,209.77 107.19,207.51 107.28,205.73 107.37,204.53 107.46,204.01 107.55,204.19 107.64,205.05 107.73,206.55 107.82,208.59 107.91,211.04 108.00,213.75 108.09,216.55 108.18,219.26 108.27,221.71 108.36,223.75 108.45,225.25 108.54,226.11 108.63,226.29 108.72,225.77 108.81,224.57 108.90,222.79 108.99,220.53 109.08,217.93 109.17,215.15 109.26,212.37 109.35,209.77 109.44,207.51 109.53,205.73 109.62,204.53 109.71,204.01 109.80,204.19 109.89,205.05 109.98,206.55 110.07,208.59 110.16,211.04 110.25,213.75 110.34,216.55 110.43,219.26 110.52,221.71 110.61,223.75 110.70,225.25 110.79,226.11 110.88,226.29 110.97,225.77 111.06,224.57 111.15,222.79 111.24,220.53 111.33,217.93 111.42,215.15 111.51,212.37 111.60,209.77 111.69,207.51 111.78,205.73 111.87,204.53 111.96,204.01 112.05,204.19 112.14,205.05 112.23,206.55 112.32,208.59 112.41,211.04 112.50,213.75 112.59,216.55 112.68,219.26 112.77,221.71 112.86,223.75 112.95,225.25 113.04,226.11 113.13,226.29 113.22,225.77 113.31,224.57 113.40,222.79 113.49,220.53 113.58,217.93 113.67,215.15 113.76,212.37 113.85,209.77 113.94,207.51 114.03,205.73 114.12,204.53 114.20,204.01 114.29,204.19 114.38,205.05 114.47,206.55 114.56,208.59 114.65,211.04 114.74,213.75 114.83,216.55 114.92,219.26 115.01,221.71 115.10,223.75 115.19,225.25 115.28,226.11 115.37,226.29 115.46,225.77 115.55,224.57 115.64,222.79 115.73,220.53 115.82,217.93 115.91,215.15 116.00,212.37 116.09,209.77 116.18,207.51 116.27,205.73 116.36,204.53 116.45,204.01 116.54,204.19 116.63,205.05 116.72,206.55 116.81,208.59 116.90,211.04 116.99,213.75 117.08,216.55 117.17,219.26 117.26,221.71 117.35,223.75 117.44,225.25 117.53,226.11 117.62,226.29 117.71,225.77 117.80,224.57 117.89,222.79 117.98,220.53 118.07,217.93 118.16,215.15 118.25,212.37 118.34,209.77 118.43,207.51 118.52,205.73 118.61,204.53 118.70,204.01 118.79,204.19 118.88,205.05 118.97,206.55 119.06,208.59 119.15,211.04 119.24,213.75 119.33,216.55 119.42,219.26 119.51,221.71 119.60,223.75 119.69,225.25 119.78,226.11 119.87,226.29 119.96,225.77 120.05,224.57 120.14,222.79 120.23,220.53 120.32,217.93 120.41,215.15 120.50,212.37 120.59,209.77 120.68,207.51 120.77,205.73 120.86,204.53 120.95,204.01 121.04,204.19 121.13,205.05 121.22,206.55 121.31,208.59 121.39,211.04 121.48,213.75 121.57,216.55 121.66,219.26 121.75,221.71 121.84,223.75 121.93,225.25 122.02,226.11 122.11,226.29 122.20,225.77 122.29,224.57 122.38,222.79 122.47,220.53 122.56,217.93 122.65,215.15 122.74,212.37 122.83,209.77 122.92,207.51 123.01,205.73 123.10,204.53 123.19,204.01 123.28,204.19 123.37,205.05 123.46,206.55 123.55,208.59 123.64,211.04 123.73,213.75 123.82,216.55 123.91,219.26 124.00,221.71 124.09,223.75 124.18,225.25 124.27,226.11 124.36,226.29 124.45,225.77 124.54,224.57 124.63,222.79 124.72,220.53 124.81,217.93 124.90,215.15 124.99,212.37 125.08,209.77 125.17,207.51 125.26,205.73 125.35,204.53 125.44,204.01 125.53,204.19 125.62,205.05 125.71,206.55 125.80,208.59 125.89,211.04 125.98,213.75 126.07,216.55 126.16,219.26 126.25,221.71 126.34,223.75 126.43,225.25 126.52,226.11 126.61,226.29 126.70,225.77 126.79,224.57 126.88,222.79 126.97,220.53 127.06,217.93 127.15,215.15 127.24,212.37 127.33,209.77 127.42,207.51 127.51,205.73 127.60,204.53 127.69,204.01 127.78,204.19 127.87,205.05 127.96,206.55 128.05,208.59 128.14,211.04 128.23,213.75 128.32,216.55 128.41,219.26 128.50,221.71 128.58,223.75 128.67,225.25 128.76,226.11 128.85,226.29 128.94,225.77 129.03,224.57 129.12,222.79 129.21,220.53 129.30,217.93 129.39,215.15 129.48,212.37 129.57,209.77 129.66,207.51 129.75,205.73 129.84,204.53 129.93,204.01 130.02,204.19 130.11,205.05 130.20,206.55 130.29,208.59 130.38,211.04 130.47,213.75 130.56,216.55 130.65,219.26 130.74,221.71 130.83,223.75 130.92,225.25 131.01,226.11 131.10,226.29 131.19,225.77 131.28,224.57 131.37,222.79 131.46,220.53 131.55,217.93 131.64,215.15 131.73,212.37 131.82,209.77 131.91,207.51 132.00,205.73 132.09,204.53 132.18,204.01 132.27,204.19 132.36,205.05 132.45,206.55 132.54,208.59 132.63,211.04 132.72,213.75 132.81,216.55 132.90,219.26 132.99,221.71 133.08,223.75 133.17,225.25 133.26,226.11 133.35,226.29 133.44,225.77 133.53,224.57 133.62,222.79 133.71,220.53 133.80,217.93 133.89,215.15 133.98,212.37 134.07,209.77 134.16,207.51 134.25,205.73 134.34,204.53 134.43,204.01 134.52,204.19 134.61,205.05 134.70,206.55 134.79,208.59 134.88,211.04 134.97,213.75 135.06,216.55 135.15,219.26 135.24,221.71 135.33,223.75 135.42,225.25 135.51,226.11 135.60,226.29 135.69,225.77 135.77,224.57 135.86,222.79 135.95,220.53 136.04,217.93 136.13,215.15 136.22,212.37 136.31,209.77 136.40,207.51 136.49,205.73 136.58,204.53 136.67,204.01 136.76,204.19 136.85,205.05 136.94,206.55 137.03,208.59 137.12,211.04 137.21,213.75 137.30,216.55 137.39,219.26 137.48,221.71 137.57,223.75 137.66,225.25 137.75,226.11 137.84,226.29 137.93,225.77 138.02,224.57 138.11,222.79 138.20,220.53 138.29,217.93 138.38,215.15 138.47,212.37 138.56,209.77 138.65,207.51 138.74,205.73 138.83,204.53 138.92,204.01 139.01,204.19 139.10,205.05 139.19,206.55 139.28,208.59 139.37,211.04 139.46,213.75 139.55,216.55 139.64,219.26 139.73,221.71 139.82,223.75 139.91,225.25 140.00,226.11 140.09,226.29 140.18,225.77 140.27,224.57 140.36,222.79 140.45,220.53 140.54,217.93 140.63,215.15 140.72,212.37 140.81,209.77 140.90,207.51 140.99,205.73 141.08,204.53 141.17,204.01 141.26,204.19 141.35,205.05 141.44,206.55 141.53,208.59 141.62,211.04 141.71,213.75 141.80,216.55 141.89,219.26 141.98,221.71 142.07,223.75 142.16,225.25 142.25,226.11 142.34,226.29 142.43,225.77 142.52,224.57 142.61,222.79 142.70,220.53 142.79,217.93 142.88,215.15 142.96,212.37 143.05,209.77 143.14,207.51 143.23,205.73 143.32,204.53 143.41,204.01 143.50,204.19 143.59,205.05 143.68,206.55 143.77,208.59 143.86,211.04 143.95,213.75 144.04,216.55 144.13,219.26 144.22,221.71 144.31,223.75 144.40,225.25 144.49,226.11 144.58,226.29 144.67,225.77 144.76,224.57 144.85,222.79 144.94,220.53 145.03,217.93 145.12,215.15 145.21,212.37 145.30,209.77 145.39,207.51 145.48,205.73 145.57,204.53 145.66,204.01 145.75,204.19 145.84,205.05 145.93,206.55 146.02,208.59 146.11,211.04 146.20,213.75 146.29,216.55 146.38,219.26 146.47,221.71 146.56,223.75 146.65,225.25 146.74,226.11 146.83,226.29 146.92,225.77 147.01,224.57 147.10,222.79 147.19,220.53 147.28,217.93 147.37,215.15 147.46,212.37 147.55,209.77 147.64,207.51 147.73,205.73 147.82,204.53 147.91,204.01 148.00,204.19 148.09,205.05 148.18,206.55 148.27,208.59 148.36,211.04 148.45,213.75 148.54,216.55 148.63,219.26 148.72,221.71 148.81,223.75 148.90,225.25 148.99,226.11 149.08,226.29 149.17,225.77 149.26,224.57 149.35,222.79 149.44,220.53 149.53,217.93 149.62,215.15 149.71,212.37 149.80,209.77 149.89,207.51 149.98,205.73 150.06,204.53 150.15,204.01 150.24,204.19 150.33,205.05 150.42,206.55 150.51,208.59 150.60,211.04 150.69,213.75 150.78,216.55 150.87,219.26 150.96,221.71 151.05,223.75 151.14,225.25 151.23,226.11 151.32,226.29 151.41,225.77 151.50,224.57 151.59,222.79 151.68,220.53 151.77,217.93 151.86,215.15 151.95,212.37 152.04,209.77 152.13,207.51 152.22,205.73 152.31,204.53 152.40,204.01 152.49,204.19 152.58,205.05 152.67,206.55 152.76,208.59 152.85,211.04 152.94,213.75 153.03,216.55 153.12,219.26 153.21,221.71 153.30,223.75 153.39,225.25 153.48,226.11 153.57,226.29 153.66,225.77 153.75,224.57 153.84,222.79 153.93,220.53 154.02,217.93 154.11,215.15 154.20,212.37 154.29,209.77 154.38,207.51 154.47,205.73 154.56,204.53 154.65,204.01 154.74,204.19 154.83,205.05 154.92,206.55 155.01,208.59 155.10,211.04 155.19,213.75 155.28,216.55 155.37,219.26 155.46,221.71 155.55,223.75 155.64,225.25 155.73,226.11 155.82,226.29 155.91,225.77 156.00,224.57 156.09,222.79 156.18,220.53 156.27,217.93 156.36,215.15 156.45,212.37 156.54,209.77 156.63,207.51 156.72,205.73 156.81,204.53 156.90,204.01 156.99,204.19 157.08,205.05 157.17,206.55 157.25,208.59 157.34,211.04 157.43,213.75 157.52,216.55 157.61,219.26 157.70,221.71 157.79,223.75 157.88,225.25 157.97,226.11 158.06,226.29 158.15,225.77 158.24,224.57 158.33,222.79 158.42,220.53 158.51,217.93 158.60,215.15 158.69,212.37 158.78,209.77 158.87,207.51 158.96,205.73 159.05,204.53 159.14,204.01 159.23,204.19 159.32,205.05 159.41,206.55 159.50,208.59 159.59,211.04 159.68,213.75 159.77,216.55 159.86,219.26 159.95,221.71 160.04,223.75 160.13,225.25 160.22,226.11 160.31,226.29 160.40,225.77 160.49,224.57 160.58,222.79 160.67,220.53 160.76,217.93 160.85,215.15 160.94,212.37 161.03,209.77 161.12,207.51 161.21,205.73 161.30,204.53 161.39,204.01 161.48,204.19 161.57,205.05 161.66,206.55 161.75,208.59 161.84,211.04 161.93,213.75 162.02,216.55 162.11,219.26 162.20,221.71 162.29,223.75 162.38,225.25 162.47,226.11 162.56,226.29 162.65,225.77 162.74,224.57 162.83,222.79 162.92,220.53 163.01,217.93 163.10,215.15 163.19,212.37 163.28,209.77 163.37,207.51 163.46,205.73 163.55,204.53 163.64,204.01 163.73,204.19 163.82,205.05 163.91,206.55 164.00,208.59 164.09,211.04 164.18,213.75 164.27,216.55 164.36,219.26 164.44,221.71 164.53,223.75 164.62,225.25 164.71,226.11 164.80,226.29 164.89,225.77 164.98,224.57 165.07,222.79 165.16,220.53 165.25,217.93 165.34,215.15 165.43,212.37 165.52,209.77 165.61,207.51 165.70,205.73 165.79,204.53 165.88,204.01 165.97,204.19 166.06,205.05 166.15,206.55 166.24,208.59 166.33,211.04 166.42,213.75 166.51,216.55 166.60,219.26 166.69,221.71 166.78,223.75 166.87,225.25 166.96,226.11 167.05,226.29 167.14,225.77 167.23,224.57 167.32,222.79 167.41,220.53 167.50,217.93 167.59,215.15 167.68,212.37 167.77,209.77 167.86,207.51 167.95,205.73 168.04,204.53 168.13,204.01 168.22,204.19 168.31,205.05 168.40,206.55 168.49,208.59 168.58,211.04 168.67,213.75 168.76,216.55 168.85,219.26 168.94,221.71 169.03,223.75 169.12,225.25 169.21,226.11 169.30,226.29 169.39,225.77 169.48,224.57 169.57,222.79 169.66,220.53 169.75,217.93 169.84,215.15 169.93,212.37 170.02,209.77 170.11,207.51 170.20,205.73 170.29,204.53 170.38,204.01 170.47,204.19 170.56,205.05 170.65,206.55 170.74,208.59 170.83,211.04 170.92,213.75 171.01,216.55 171.10,219.26 171.19,221.71 171.28,223.75 171.37,225.25 171.46,226.11 171.55,226.29 171.63,225.77 171.72,224.57 171.81,222.79 171.90,220.53 171.99,217.93 172.08,215.15 172.17,212.37 172.26,209.77 172.35,207.51 172.44,205.73 172.53,204.53 172.62,204.01 172.71,204.19 172.80,205.05 172.89,206.55 172.98,208.59 173.07,211.04 173.16,213.75 173.25,216.55 173.34,219.26 173.43,221.71 173.52,223.75 173.61,225.25 173.70,226.11 173.79,226.29 173.88,225.77 173.97,224.57 174.06,222.79 174.15,220.53 174.24,217.93 174.33,215.15 174.42,212.37 174.51,209.77 174.60,207.51 174.69,205.73 174.78,204.53 174.87,204.01 174.96,204.19 175.05,205.05 175.14,206.55 175.23,208.59 175.32,211.04 175.41,213.75 175.50,216.55 175.59,219.26 175.68,221.71 175.77,223.75 175.86,225.25 175.95,226.11 176.04,226.29 176.13,225.77 176.22,224.57 176.31,222.79 176.40,220.53 176.49,217.93 176.58,215.15 176.67,212.37 176.76,209.77 176.85,207.51 176.94,205.73 177.03,204.53 177.12,204.01 177.21,204.19 177.30,205.05 177.39,206.55 177.48,208.59 177.57,211.04 177.66,213.75 177.75,216.55 177.84,219.26 177.93,221.71 178.02,223.75 178.11,225.25 178.20,226.11 178.29,226.29 178.38,225.77 178.47,224.57 178.56,222.79 178.65,220.53 178.74,217.93 178.83,215.15 178.91,212.37 179.00,209.77 179.09,207.51 179.18,205.73 179.27,204.53 179.36,204.01 179.45,204.19 179.54,205.05 179.63,206.55 179.72,208.59 179.81,211.04 179.90,213.75 179.99,216.55 180.08,219.26 180.17,221.71 180.26,223.75 180.35,225.25 180.44,226.11 180.53,226.29 180.62,225.77 180.71,224.57 180.80,222.79 180.89,220.53 180.98,217.93 181.07,215.15 181.16,212.37 181.25,209.77 181.34,207.51 181.43,205.73 181.52,204.53 181.61,204.01 181.70,204.19 181.79,205.05 181.88,206.55 181.97,208.59 182.06,211.04 182.15,213.75 182.24,216.55 182.33,219.26 182.42,221.71 182.51,223.75 182.60,225.25 182.69,226.11 182.78,226.29 182.87,225.77 182.96,224.57 183.05,222.79 183.14,220.53 183.23,217.93 183.32,215.15 183.41,212.37 183.50,209.77 183.59,207.51 183.68,205.73 183.77,204.53 183.86,204.01 183.95,204.19 184.04,205.05 184.13,206.55 184.22,208.59 184.31,211.04 184.40,213.75 184.49,216.55 184.58,219.26 184.67,221.71 184.76,223.75 184.85,225.25 184.94,226.11 185.03,226.29 185.12,225.77 185.21,224.57 185.30,222.79 185.39,220.53 185.48,217.93 185.57,215.15 185.66,212.37 185.75,209.77 185.84,207.51 185.93,205.73 186.02,204.53 186.10,204.01 186.19,204.19 186.28,205.05 186.37,206.55 186.46,208.59 186.55,211.04 186.64,213.75 186.73,216.55 186.82,219.26 186.91,221.71 187.00,223.75 187.09,225.25 187.18,226.11 187.27,226.29 187.36,225.77 187.45,224.57 187.54,222.79 187.63,220.53 187.72,217.93 187.81,215.15 187.90,212.37 187.99,209.77 188.08,207.51 188.17,205.73 188.26,204.53 188.35,204.01 188.44,204.19 188.53,205.05 188.62,206.55 188.71,208.59 188.80,211.04 188.89,213.75 188.98,216.55 189.07,219.26 189.16,221.71 189.25,223.75 189.34,225.25 189.43,226.11 189.52,226.29 189.61,225.77 189.70,224.57 189.79,222.79 189.88,220.53 189.97,217.93 190.06,215.15 190.15,212.37 190.24,209.77 190.33,207.51 190.42,205.73 190.51,204.53 190.60,204.01 190.69,204.19 190.78,205.05 190.87,206.55 190.96,208.59 191.05,211.04 191.14,213.75 191.23,216.55 191.32,219.26 191.41,221.71 191.50,223.75 191.59,225.25 191.68,226.11 191.77,226.29 191.86,225.77 191.95,224.57 192.04,222.79 192.13,220.53 192.22,217.93 192.31,215.15 192.40,212.37 192.49,209.77 192.58,207.51 192.67,205.73 192.76,204.53 192.85,204.01 192.94,204.19 193.03,205.05 193.12,206.55 193.21,208.59 193.29,211.04 193.38,213.75 193.47,216.55 193.56,219.26 193.65,221.71 193.74,223.75 193.83,225.25 193.92,226.11 194.01,226.29 194.10,225.77 194.19,224.57 194.28,222.79 194.37,220.53 194.46,217.93 194.55,215.15 194.64,212.37 194.73,209.77 194.82,207.51 194.91,205.73 195.00,204.53 195.09,204.01 195.18,204.19 195.27,205.05 195.36,206.55 195.45,208.59 195.54,211.04 195.63,213.75 195.72,216.55 195.81,219.26 195.90,221.71 195.99,223.75 196.08,225.25 196.17,226.11 196.26,226.29 196.35,225.77 196.44,224.57 196.53,222.79 196.62,220.53 196.71,217.93 196.80,215.15" fill="none" stroke="#0a6cb5" stroke-width="1.15" stroke-linejoin="round"/>
</g>
<clipPath id="c6"><rect x="53.00" y="274.30" width="143.80" height="49.60"/></clipPath>
<g clip-path="url(#c6)">
<polyline points="53.00,299.10 53.09,296.01 53.18,293.22 53.27,291.01 53.36,289.59 53.45,289.10 53.54,289.59 53.63,291.01 53.72,293.22 53.81,296.01 53.90,299.10 53.99,302.19 54.08,304.98 54.17,307.19 54.26,308.61 54.35,309.10 54.44,308.61 54.53,307.19 54.62,304.98 54.71,302.19 54.80,299.10 54.89,296.01 54.98,293.22 55.07,291.01 55.16,289.59 55.25,289.10 55.34,289.59 55.43,291.01 55.52,293.22 55.61,296.01 55.70,299.10 55.79,302.19 55.88,304.98 55.97,307.19 56.06,308.61 56.15,309.10 56.24,308.61 56.33,307.19 56.42,304.98 56.51,302.19 56.59,299.10 56.68,296.01 56.77,293.22 56.86,291.01 56.95,289.59 57.04,289.10 57.13,289.59 57.22,291.01 57.31,293.22 57.40,296.01 57.49,299.10 57.58,302.19 57.67,304.98 57.76,307.19 57.85,308.61 57.94,309.10 58.03,308.61 58.12,307.19 58.21,304.98 58.30,302.19 58.39,299.10 58.48,296.01 58.57,293.22 58.66,291.01 58.75,289.59 58.84,289.10 58.93,289.59 59.02,291.01 59.11,293.22 59.20,296.01 59.29,299.10 59.38,302.19 59.47,304.98 59.56,307.19 59.65,308.61 59.74,309.10 59.83,308.61 59.92,307.19 60.01,304.98 60.10,302.19 60.19,299.10 60.28,296.01 60.37,293.22 60.46,291.01 60.55,289.59 60.64,289.10 60.73,289.59 60.82,291.01 60.91,293.22 61.00,296.01 61.09,299.10 61.18,302.19 61.27,304.98 61.36,307.19 61.45,308.61 61.54,309.10 61.63,308.61 61.72,307.19 61.81,304.98 61.90,302.19 61.99,299.10 62.08,296.01 62.17,293.22 62.26,291.01 62.35,289.59 62.44,289.10 62.53,289.59 62.62,291.01 62.71,293.22 62.80,296.01 62.89,299.10 62.98,302.19 63.07,304.98 63.16,307.19 63.25,308.61 63.34,309.10 63.43,308.61 63.52,307.19 63.61,304.98 63.70,302.19 63.78,299.10 63.87,296.01 63.96,293.22 64.05,291.01 64.14,289.59 64.23,289.10 64.32,289.59 64.41,291.01 64.50,293.22 64.59,296.01 64.68,299.10 64.77,302.19 64.86,304.98 64.95,307.19 65.04,308.61 65.13,309.10 65.22,308.61 65.31,307.19 65.40,304.98 65.49,302.19 65.58,299.10 65.67,296.01 65.76,293.22 65.85,291.01 65.94,289.59 66.03,289.10 66.12,289.59 66.21,291.01 66.30,293.22 66.39,296.01 66.48,299.10 66.57,302.19 66.66,304.98 66.75,307.19 66.84,308.61 66.93,309.10 67.02,308.61 67.11,307.19 67.20,304.98 67.29,302.19 67.38,299.10 67.47,296.01 67.56,293.22 67.65,291.01 67.74,289.59 67.83,289.10 67.92,289.59 68.01,291.01 68.10,293.22 68.19,296.01 68.28,299.10 68.37,302.19 68.46,304.98 68.55,307.19 68.64,308.61 68.73,309.10 68.82,308.61 68.91,307.19 69.00,304.98 69.09,302.19 69.18,299.10 69.27,296.01 69.36,293.22 69.45,291.01 69.54,289.59 69.63,289.10 69.72,289.59 69.81,291.01 69.90,293.22 69.99,296.01 70.08,299.10 70.17,302.19 70.26,304.98 70.35,307.19 70.44,308.61 70.53,309.10 70.62,308.61 70.71,307.19 70.80,304.98 70.89,302.19 70.97,299.10 71.06,296.01 71.15,293.22 71.24,291.01 71.33,289.59 71.42,289.10 71.51,289.59 71.60,291.01 71.69,293.22 71.78,296.01 71.87,299.10 71.96,302.19 72.05,304.98 72.14,307.19 72.23,308.61 72.32,309.10 72.41,308.61 72.50,307.19 72.59,304.98 72.68,302.19 72.77,299.10 72.86,296.01 72.95,293.22 73.04,291.01 73.13,289.59 73.22,289.10 73.31,289.59 73.40,291.01 73.49,293.22 73.58,296.01 73.67,299.10 73.76,302.19 73.85,304.98 73.94,307.19 74.03,308.61 74.12,309.10 74.21,308.61 74.30,307.19 74.39,304.98 74.48,302.19 74.57,299.10 74.66,296.01 74.75,293.22 74.84,291.01 74.93,289.59 75.02,289.10 75.11,289.59 75.20,291.01 75.29,293.22 75.38,296.01 75.47,299.10 75.56,302.19 75.65,304.98 75.74,307.19 75.83,308.61 75.92,309.10 76.01,308.61 76.10,307.19 76.19,304.98 76.28,302.19 76.37,299.10 76.46,296.01 76.55,293.22 76.64,291.01 76.73,289.59 76.82,289.10 76.91,289.59 77.00,291.01 77.09,293.22 77.18,296.01 77.27,299.10 77.36,302.19 77.45,304.98 77.54,307.19 77.63,308.61 77.72,309.10 77.81,308.61 77.90,307.19 77.99,304.98 78.08,302.19 78.16,299.10 78.25,296.01 78.34,293.22 78.43,291.01 78.52,289.59 78.61,289.10 78.70,289.59 78.79,291.01 78.88,293.22 78.97,296.01 79.06,299.10 79.15,302.19 79.24,304.98 79.33,307.19 79.42,308.61 79.51,309.10 79.60,308.61 79.69,307.19 79.78,304.98 79.87,302.19 79.96,299.10 80.05,296.01 80.14,293.22 80.23,291.01 80.32,289.59 80.41,289.10 80.50,289.59 80.59,291.01 80.68,293.22 80.77,296.01 80.86,299.10 80.95,302.19 81.04,304.98 81.13,307.19 81.22,308.61 81.31,309.10 81.40,308.61 81.49,307.19 81.58,304.98 81.67,302.19 81.76,299.10 81.85,296.01 81.94,293.22 82.03,291.01 82.12,289.59 82.21,289.10 82.30,289.59 82.39,291.01 82.48,293.22 82.57,296.01 82.66,299.10 82.75,302.19 82.84,304.98 82.93,307.19 83.02,308.61 83.11,309.10 83.20,308.61 83.29,307.19 83.38,304.98 83.47,302.19 83.56,299.10 83.65,296.01 83.74,293.22 83.83,291.01 83.92,289.59 84.01,289.10 84.10,289.59 84.19,291.01 84.28,293.22 84.37,296.01 84.46,299.10 84.55,302.19 84.64,304.98 84.73,307.19 84.82,308.61 84.91,309.10 85.00,308.61 85.09,307.19 85.18,304.98 85.27,302.19 85.36,299.10 85.44,296.01 85.53,293.22 85.62,291.01 85.71,289.59 85.80,289.10 85.89,289.59 85.98,291.01 86.07,293.22 86.16,296.01 86.25,299.10 86.34,302.19 86.43,304.98 86.52,307.19 86.61,308.61 86.70,309.10 86.79,308.61 86.88,307.19 86.97,304.98 87.06,302.19 87.15,299.10 87.24,296.01 87.33,293.22 87.42,291.01 87.51,289.59 87.60,289.10 87.69,289.59 87.78,291.01 87.87,293.22 87.96,296.01 88.05,299.10 88.14,302.19 88.23,304.98 88.32,307.19 88.41,308.61 88.50,309.10 88.59,308.61 88.68,307.19 88.77,304.98 88.86,302.19 88.95,299.10 89.04,296.01 89.13,293.22 89.22,291.01 89.31,289.59 89.40,289.10 89.49,289.59 89.58,291.01 89.67,293.22 89.76,296.01 89.85,299.10 89.94,302.19 90.03,304.98 90.12,307.19 90.21,308.61 90.30,309.10 90.39,308.61 90.48,307.19 90.57,304.98 90.66,302.19 90.75,299.10 90.84,296.01 90.93,293.22 91.02,291.01 91.11,289.59 91.20,289.10 91.29,289.59 91.38,291.01 91.47,293.22 91.56,296.01 91.65,299.10 91.74,302.19 91.83,304.98 91.92,307.19 92.01,308.61 92.10,309.10 92.19,308.61 92.28,307.19 92.37,304.98 92.46,302.19 92.55,299.10 92.63,296.01 92.72,293.22 92.81,291.01 92.90,289.59 92.99,289.10 93.08,289.59 93.17,291.01 93.26,293.22 93.35,296.01 93.44,299.10 93.53,302.19 93.62,304.98 93.71,307.19 93.80,308.61 93.89,309.10 93.98,308.61 94.07,307.19 94.16,304.98 94.25,302.19 94.34,299.10 94.43,296.01 94.52,293.22 94.61,291.01 94.70,289.59 94.79,289.10 94.88,289.59 94.97,291.01 95.06,293.22 95.15,296.01 95.24,299.10 95.33,302.19 95.42,304.98 95.51,307.19 95.60,308.61 95.69,309.10 95.78,308.61 95.87,307.19 95.96,304.98 96.05,302.19 96.14,299.10 96.23,296.01 96.32,293.22 96.41,291.01 96.50,289.59 96.59,289.10 96.68,289.59 96.77,291.01 96.86,293.22 96.95,296.01 97.04,299.10 97.13,302.19 97.22,304.98 97.31,307.19 97.40,308.61 97.49,309.10 97.58,308.61 97.67,307.19 97.76,304.98 97.85,302.19 97.94,299.10 98.03,296.01 98.12,293.22 98.21,291.01 98.30,289.59 98.39,289.10 98.48,289.59 98.57,291.01 98.66,293.22 98.75,296.01 98.84,299.10 98.93,302.19 99.02,304.98 99.11,307.19 99.20,308.61 99.29,309.10 99.38,308.61 99.47,307.19 99.56,304.98 99.65,302.19 99.74,299.10 99.82,296.01 99.91,293.22 100.00,291.01 100.09,289.59 100.18,289.10 100.27,289.59 100.36,291.01 100.45,293.22 100.54,296.01 100.63,299.10 100.72,302.19 100.81,304.98 100.90,307.19 100.99,308.61 101.08,309.10 101.17,308.61 101.26,307.19 101.35,304.98 101.44,302.19 101.53,299.10 101.62,296.01 101.71,293.22 101.80,291.01 101.89,289.59 101.98,289.10 102.07,289.59 102.16,291.01 102.25,293.22 102.34,296.01 102.43,299.10 102.52,302.19 102.61,304.98 102.70,307.19 102.79,308.61 102.88,309.10 102.97,308.61 103.06,307.19 103.15,304.98 103.24,302.19 103.33,299.10 103.42,296.01 103.51,293.22 103.60,291.01 103.69,289.59 103.78,289.10 103.87,289.59 103.96,291.01 104.05,293.22 104.14,296.01 104.23,299.10 104.32,302.19 104.41,304.98 104.50,307.19 104.59,308.61 104.68,309.10 104.77,308.61 104.86,307.19 104.95,304.98 105.04,302.19 105.13,299.10 105.22,296.01 105.31,293.22 105.40,291.01 105.49,289.59 105.58,289.10 105.67,289.59 105.76,291.01 105.85,293.22 105.94,296.01 106.03,299.10 106.12,302.19 106.21,304.98 106.30,307.19 106.39,308.61 106.48,309.10 106.57,308.61 106.66,307.19 106.75,304.98 106.84,302.19 106.93,299.10 107.01,296.01 107.10,293.22 107.19,291.01 107.28,289.59 107.37,289.10 107.46,289.59 107.55,291.01 107.64,293.22 107.73,296.01 107.82,299.10 107.91,302.19 108.00,304.98 108.09,307.19 108.18,308.61 108.27,309.10 108.36,308.61 108.45,307.19 108.54,304.98 108.63,302.19 108.72,299.10 108.81,296.01 108.90,293.22 108.99,291.01 109.08,289.59 109.17,289.10 109.26,289.59 109.35,291.01 109.44,293.22 109.53,296.01 109.62,299.10 109.71,302.19 109.80,304.98 109.89,307.19 109.98,308.61 110.07,309.10 110.16,308.61 110.25,307.19 110.34,304.98 110.43,302.19 110.52,299.10 110.61,296.01 110.70,293.22 110.79,291.01 110.88,289.59 110.97,289.10 111.06,289.59 111.15,291.01 111.24,293.22 111.33,296.01 111.42,299.10 111.51,302.19 111.60,304.98 111.69,307.19 111.78,308.61 111.87,309.10 111.96,308.61 112.05,307.19 112.14,304.98 112.23,302.19 112.32,299.10 112.41,296.01 112.50,293.22 112.59,291.01 112.68,289.59 112.77,289.10 112.86,289.59 112.95,291.01 113.04,293.22 113.13,296.01 113.22,299.10 113.31,302.19 113.40,304.98 113.49,307.19 113.58,308.61 113.67,309.10 113.76,308.61 113.85,307.19 113.94,304.98 114.03,302.19 114.12,299.10 114.20,296.01 114.29,293.22 114.38,291.01 114.47,289.59 114.56,289.10 114.65,289.59 114.74,291.01 114.83,293.22 114.92,296.01 115.01,299.10 115.10,302.19 115.19,304.98 115.28,307.19 115.37,308.61 115.46,309.10 115.55,308.61 115.64,307.19 115.73,304.98 115.82,302.19 115.91,299.10 116.00,296.01 116.09,293.22 116.18,291.01 116.27,289.59 116.36,289.10 116.45,289.59 116.54,291.01 116.63,293.22 116.72,296.01 116.81,299.10 116.90,302.19 116.99,304.98 117.08,307.19 117.17,308.61 117.26,309.10 117.35,308.61 117.44,307.19 117.53,304.98 117.62,302.19 117.71,299.10 117.80,296.01 117.89,293.22 117.98,291.01 118.07,289.59 118.16,289.10 118.25,289.59 118.34,291.01 118.43,293.22 118.52,296.01 118.61,299.10 118.70,302.19 118.79,304.98 118.88,307.19 118.97,308.61 119.06,309.10 119.15,308.61 119.24,307.19 119.33,304.98 119.42,302.19 119.51,299.10 119.60,296.01 119.69,293.22 119.78,291.01 119.87,289.59 119.96,289.10 120.05,289.59 120.14,291.01 120.23,293.22 120.32,296.01 120.41,299.10 120.50,302.19 120.59,304.98 120.68,307.19 120.77,308.61 120.86,309.10 120.95,308.61 121.04,307.19 121.13,304.98 121.22,302.19 121.31,299.10 121.39,296.01 121.48,293.22 121.57,291.01 121.66,289.59 121.75,289.10 121.84,289.59 121.93,291.01 122.02,293.22 122.11,296.01 122.20,299.10 122.29,302.19 122.38,304.98 122.47,307.19 122.56,308.61 122.65,309.10 122.74,308.61 122.83,307.19 122.92,304.98 123.01,302.19 123.10,299.10 123.19,296.01 123.28,293.22 123.37,291.01 123.46,289.59 123.55,289.10 123.64,289.59 123.73,291.01 123.82,293.22 123.91,296.01 124.00,299.10 124.09,302.19 124.18,304.98 124.27,307.19 124.36,308.61 124.45,309.10 124.54,308.61 124.63,307.19 124.72,304.98 124.81,302.19 124.90,299.10 124.99,296.01 125.08,293.22 125.17,291.01 125.26,289.59 125.35,289.10 125.44,289.59 125.53,291.01 125.62,293.22 125.71,296.01 125.80,299.10 125.89,302.19 125.98,304.98 126.07,307.19 126.16,308.61 126.25,309.10 126.34,308.61 126.43,307.19 126.52,304.98 126.61,302.19 126.70,299.10 126.79,296.01 126.88,293.22 126.97,291.01 127.06,289.59 127.15,289.10 127.24,289.59 127.33,291.01 127.42,293.22 127.51,296.01 127.60,299.10 127.69,302.19 127.78,304.98 127.87,307.19 127.96,308.61 128.05,309.10 128.14,308.61 128.23,307.19 128.32,304.98 128.41,302.19 128.50,299.10 128.58,296.01 128.67,293.22 128.76,291.01 128.85,289.59 128.94,289.10 129.03,289.59 129.12,291.01 129.21,293.22 129.30,296.01 129.39,299.10 129.48,302.19 129.57,304.98 129.66,307.19 129.75,308.61 129.84,309.10 129.93,308.61 130.02,307.19 130.11,304.98 130.20,302.19 130.29,299.10 130.38,296.01 130.47,293.22 130.56,291.01 130.65,289.59 130.74,289.10 130.83,289.59 130.92,291.01 131.01,293.22 131.10,296.01 131.19,299.10 131.28,302.19 131.37,304.98 131.46,307.19 131.55,308.61 131.64,309.10 131.73,308.61 131.82,307.19 131.91,304.98 132.00,302.19 132.09,299.10 132.18,296.01 132.27,293.22 132.36,291.01 132.45,289.59 132.54,289.10 132.63,289.59 132.72,291.01 132.81,293.22 132.90,296.01 132.99,299.10 133.08,302.19 133.17,304.98 133.26,307.19 133.35,308.61 133.44,309.10 133.53,308.61 133.62,307.19 133.71,304.98 133.80,302.19 133.89,299.10 133.98,296.01 134.07,293.22 134.16,291.01 134.25,289.59 134.34,289.10 134.43,289.59 134.52,291.01 134.61,293.22 134.70,296.01 134.79,299.10 134.88,302.19 134.97,304.98 135.06,307.19 135.15,308.61 135.24,309.10 135.33,308.61 135.42,307.19 135.51,304.98 135.60,302.19 135.69,299.10 135.77,296.01 135.86,293.22 135.95,291.01 136.04,289.59 136.13,289.10 136.22,289.59 136.31,291.01 136.40,293.22 136.49,296.01 136.58,299.10 136.67,302.19 136.76,304.98 136.85,307.19 136.94,308.61 137.03,309.10 137.12,308.61 137.21,307.19 137.30,304.98 137.39,302.19 137.48,299.10 137.57,296.01 137.66,293.22 137.75,291.01 137.84,289.59 137.93,289.10 138.02,289.59 138.11,291.01 138.20,293.22 138.29,296.01 138.38,299.10 138.47,302.19 138.56,304.98 138.65,307.19 138.74,308.61 138.83,309.10 138.92,308.61 139.01,307.19 139.10,304.98 139.19,302.19 139.28,299.10 139.37,296.01 139.46,293.22 139.55,291.01 139.64,289.59 139.73,289.10 139.82,289.59 139.91,291.01 140.00,293.22 140.09,296.01 140.18,299.10 140.27,302.19 140.36,304.98 140.45,307.19 140.54,308.61 140.63,309.10 140.72,308.61 140.81,307.19 140.90,304.98 140.99,302.19 141.08,299.10 141.17,296.01 141.26,293.22 141.35,291.01 141.44,289.59 141.53,289.10 141.62,289.59 141.71,291.01 141.80,293.22 141.89,296.01 141.98,299.10 142.07,302.19 142.16,304.98 142.25,307.19 142.34,308.61 142.43,309.10 142.52,308.61 142.61,307.19 142.70,304.98 142.79,302.19 142.88,299.10 142.96,296.01 143.05,293.22 143.14,291.01 143.23,289.59 143.32,289.10 143.41,289.59 143.50,291.01 143.59,293.22 143.68,296.01 143.77,299.10 143.86,302.19 143.95,304.98 144.04,307.19 144.13,308.61 144.22,309.10 144.31,308.61 144.40,307.19 144.49,304.98 144.58,302.19 144.67,299.10 144.76,296.01 144.85,293.22 144.94,291.01 145.03,289.59 145.12,289.10 145.21,289.59 145.30,291.01 145.39,293.22 145.48,296.01 145.57,299.10 145.66,302.19 145.75,304.98 145.84,307.19 145.93,308.61 146.02,309.10 146.11,308.61 146.20,307.19 146.29,304.98 146.38,302.19 146.47,299.10 146.56,296.01 146.65,293.22 146.74,291.01 146.83,289.59 146.92,289.10 147.01,289.59 147.10,291.01 147.19,293.22 147.28,296.01 147.37,299.10 147.46,302.19 147.55,304.98 147.64,307.19 147.73,308.61 147.82,309.10 147.91,308.61 148.00,307.19 148.09,304.98 148.18,302.19 148.27,299.10 148.36,296.01 148.45,293.22 148.54,291.01 148.63,289.59 148.72,289.10 148.81,289.59 148.90,291.01 148.99,293.22 149.08,296.01 149.17,299.10 149.26,302.19 149.35,304.98 149.44,307.19 149.53,308.61 149.62,309.10 149.71,308.61 149.80,307.19 149.89,304.98 149.98,302.19 150.06,299.10 150.15,296.01 150.24,293.22 150.33,291.01 150.42,289.59 150.51,289.10 150.60,289.59 150.69,291.01 150.78,293.22 150.87,296.01 150.96,299.10 151.05,302.19 151.14,304.98 151.23,307.19 151.32,308.61 151.41,309.10 151.50,308.61 151.59,307.19 151.68,304.98 151.77,302.19 151.86,299.10 151.95,296.01 152.04,293.22 152.13,291.01 152.22,289.59 152.31,289.10 152.40,289.59 152.49,291.01 152.58,293.22 152.67,296.01 152.76,299.10 152.85,302.19 152.94,304.98 153.03,307.19 153.12,308.61 153.21,309.10 153.30,308.61 153.39,307.19 153.48,304.98 153.57,302.19 153.66,299.10 153.75,296.01 153.84,293.22 153.93,291.01 154.02,289.59 154.11,289.10 154.20,289.59 154.29,291.01 154.38,293.22 154.47,296.01 154.56,299.10 154.65,302.19 154.74,304.98 154.83,307.19 154.92,308.61 155.01,309.10 155.10,308.61 155.19,307.19 155.28,304.98 155.37,302.19 155.46,299.10 155.55,296.01 155.64,293.22 155.73,291.01 155.82,289.59 155.91,289.10 156.00,289.59 156.09,291.01 156.18,293.22 156.27,296.01 156.36,299.10 156.45,302.19 156.54,304.98 156.63,307.19 156.72,308.61 156.81,309.10 156.90,308.61 156.99,307.19 157.08,304.98 157.17,302.19 157.25,299.10 157.34,296.01 157.43,293.22 157.52,291.01 157.61,289.59 157.70,289.10 157.79,289.59 157.88,291.01 157.97,293.22 158.06,296.01 158.15,299.10 158.24,302.19 158.33,304.98 158.42,307.19 158.51,308.61 158.60,309.10 158.69,308.61 158.78,307.19 158.87,304.98 158.96,302.19 159.05,299.10 159.14,296.01 159.23,293.22 159.32,291.01 159.41,289.59 159.50,289.10 159.59,289.59 159.68,291.01 159.77,293.22 159.86,296.01 159.95,299.10 160.04,302.19 160.13,304.98 160.22,307.19 160.31,308.61 160.40,309.10 160.49,308.61 160.58,307.19 160.67,304.98 160.76,302.19 160.85,299.10 160.94,296.01 161.03,293.22 161.12,291.01 161.21,289.59 161.30,289.10 161.39,289.59 161.48,291.01 161.57,293.22 161.66,296.01 161.75,299.10 161.84,302.19 161.93,304.98 162.02,307.19 162.11,308.61 162.20,309.10 162.29,308.61 162.38,307.19 162.47,304.98 162.56,302.19 162.65,299.10 162.74,296.01 162.83,293.22 162.92,291.01 163.01,289.59 163.10,289.10 163.19,289.59 163.28,291.01 163.37,293.22 163.46,296.01 163.55,299.10 163.64,302.19 163.73,304.98 163.82,307.19 163.91,308.61 164.00,309.10 164.09,308.61 164.18,307.19 164.27,304.98 164.36,302.19 164.44,299.10 164.53,296.01 164.62,293.22 164.71,291.01 164.80,289.59 164.89,289.10 164.98,289.59 165.07,291.01 165.16,293.22 165.25,296.01 165.34,299.10 165.43,302.19 165.52,304.98 165.61,307.19 165.70,308.61 165.79,309.10 165.88,308.61 165.97,307.19 166.06,304.98 166.15,302.19 166.24,299.10 166.33,296.01 166.42,293.22 166.51,291.01 166.60,289.59 166.69,289.10 166.78,289.59 166.87,291.01 166.96,293.22 167.05,296.01 167.14,299.10 167.23,302.19 167.32,304.98 167.41,307.19 167.50,308.61 167.59,309.10 167.68,308.61 167.77,307.19 167.86,304.98 167.95,302.19 168.04,299.10 168.13,296.01 168.22,293.22 168.31,291.01 168.40,289.59 168.49,289.10 168.58,289.59 168.67,291.01 168.76,293.22 168.85,296.01 168.94,299.10 169.03,302.19 169.12,304.98 169.21,307.19 169.30,308.61 169.39,309.10 169.48,308.61 169.57,307.19 169.66,304.98 169.75,302.19 169.84,299.10 169.93,296.01 170.02,293.22 170.11,291.01 170.20,289.59 170.29,289.10 170.38,289.59 170.47,291.01 170.56,293.22 170.65,296.01 170.74,299.10 170.83,302.19 170.92,304.98 171.01,307.19 171.10,308.61 171.19,309.10 171.28,308.61 171.37,307.19 171.46,304.98 171.55,302.19 171.63,299.10 171.72,296.01 171.81,293.22 171.90,291.01 171.99,289.59 172.08,289.10 172.17,289.59 172.26,291.01 172.35,293.22 172.44,296.01 172.53,299.10 172.62,302.19 172.71,304.98 172.80,307.19 172.89,308.61 172.98,309.10 173.07,308.61 173.16,307.19 173.25,304.98 173.34,302.19 173.43,299.10 173.52,296.01 173.61,293.22 173.70,291.01 173.79,289.59 173.88,289.10 173.97,289.59 174.06,291.01 174.15,293.22 174.24,296.01 174.33,299.10 174.42,302.19 174.51,304.98 174.60,307.19 174.69,308.61 174.78,309.10 174.87,308.61 174.96,307.19 175.05,304.98 175.14,302.19 175.23,299.10 175.32,296.01 175.41,293.22 175.50,291.01 175.59,289.59 175.68,289.10 175.77,289.59 175.86,291.01 175.95,293.22 176.04,296.01 176.13,299.10 176.22,302.19 176.31,304.98 176.40,307.19 176.49,308.61 176.58,309.10 176.67,308.61 176.76,307.19 176.85,304.98 176.94,302.19 177.03,299.10 177.12,296.01 177.21,293.22 177.30,291.01 177.39,289.59 177.48,289.10 177.57,289.59 177.66,291.01 177.75,293.22 177.84,296.01 177.93,299.10 178.02,302.19 178.11,304.98 178.20,307.19 178.29,308.61 178.38,309.10 178.47,308.61 178.56,307.19 178.65,304.98 178.74,302.19 178.83,299.10 178.91,296.01 179.00,293.22 179.09,291.01 179.18,289.59 179.27,289.10 179.36,289.59 179.45,291.01 179.54,293.22 179.63,296.01 179.72,299.10 179.81,302.19 179.90,304.98 179.99,307.19 180.08,308.61 180.17,309.10 180.26,308.61 180.35,307.19 180.44,304.98 180.53,302.19 180.62,299.10 180.71,296.01 180.80,293.22 180.89,291.01 180.98,289.59 181.07,289.10 181.16,289.59 181.25,291.01 181.34,293.22 181.43,296.01 181.52,299.10 181.61,302.19 181.70,304.98 181.79,307.19 181.88,308.61 181.97,309.10 182.06,308.61 182.15,307.19 182.24,304.98 182.33,302.19 182.42,299.10 182.51,296.01 182.60,293.22 182.69,291.01 182.78,289.59 182.87,289.10 182.96,289.59 183.05,291.01 183.14,293.22 183.23,296.01 183.32,299.10 183.41,302.19 183.50,304.98 183.59,307.19 183.68,308.61 183.77,309.10 183.86,308.61 183.95,307.19 184.04,304.98 184.13,302.19 184.22,299.10 184.31,296.01 184.40,293.22 184.49,291.01 184.58,289.59 184.67,289.10 184.76,289.59 184.85,291.01 184.94,293.22 185.03,296.01 185.12,299.10 185.21,302.19 185.30,304.98 185.39,307.19 185.48,308.61 185.57,309.10 185.66,308.61 185.75,307.19 185.84,304.98 185.93,302.19 186.02,299.10 186.10,296.01 186.19,293.22 186.28,291.01 186.37,289.59 186.46,289.10 186.55,289.59 186.64,291.01 186.73,293.22 186.82,296.01 186.91,299.10 187.00,302.19 187.09,304.98 187.18,307.19 187.27,308.61 187.36,309.10 187.45,308.61 187.54,307.19 187.63,304.98 187.72,302.19 187.81,299.10 187.90,296.01 187.99,293.22 188.08,291.01 188.17,289.59 188.26,289.10 188.35,289.59 188.44,291.01 188.53,293.22 188.62,296.01 188.71,299.10 188.80,302.19 188.89,304.98 188.98,307.19 189.07,308.61 189.16,309.10 189.25,308.61 189.34,307.19 189.43,304.98 189.52,302.19 189.61,299.10 189.70,296.01 189.79,293.22 189.88,291.01 189.97,289.59 190.06,289.10 190.15,289.59 190.24,291.01 190.33,293.22 190.42,296.01 190.51,299.10 190.60,302.19 190.69,304.98 190.78,307.19 190.87,308.61 190.96,309.10 191.05,308.61 191.14,307.19 191.23,304.98 191.32,302.19 191.41,299.10 191.50,296.01 191.59,293.22 191.68,291.01 191.77,289.59 191.86,289.10 191.95,289.59 192.04,291.01 192.13,293.22 192.22,296.01 192.31,299.10 192.40,302.19 192.49,304.98 192.58,307.19 192.67,308.61 192.76,309.10 192.85,308.61 192.94,307.19 193.03,304.98 193.12,302.19 193.21,299.10 193.29,296.01 193.38,293.22 193.47,291.01 193.56,289.59 193.65,289.10 193.74,289.59 193.83,291.01 193.92,293.22 194.01,296.01 194.10,299.10 194.19,302.19 194.28,304.98 194.37,307.19 194.46,308.61 194.55,309.10 194.64,308.61 194.73,307.19 194.82,304.98 194.91,302.19 195.00,299.10 195.09,296.01 195.18,293.22 195.27,291.01 195.36,289.59 195.45,289.10 195.54,289.59 195.63,291.01 195.72,293.22 195.81,296.01 195.90,299.10 195.99,302.19 196.08,304.98 196.17,307.19 196.26,308.61 196.35,309.10 196.44,308.61 196.53,307.19 196.62,304.98 196.71,302.19 196.80,299.10" fill="none" stroke="#0a6cb5" stroke-width="1.15" stroke-linejoin="round"/>
</g>
<clipPath id="c7"><rect x="277.50" y="188.30" width="156.00" height="51.70"/></clipPath>
<g clip-path="url(#c7)">
<polyline points="277.50,214.15 277.60,211.22 277.69,208.48 277.79,206.10 277.89,204.22 277.99,202.96 278.08,202.40 278.18,202.59 278.28,203.50 278.38,205.08 278.48,207.23 278.57,209.82 278.67,212.67 278.77,215.63 278.87,218.49 278.96,221.07 279.06,223.23 279.16,224.81 279.25,225.72 279.35,225.91 279.45,225.36 279.55,224.10 279.64,222.22 279.74,219.83 279.84,217.08 279.94,214.15 280.04,211.22 280.13,208.47 280.23,206.08 280.33,204.19 280.43,202.93 280.52,202.38 280.62,202.56 280.72,203.48 280.81,205.06 280.91,207.21 281.01,209.81 281.11,212.67 281.20,215.63 281.30,218.50 281.40,221.09 281.50,223.25 281.60,224.83 281.69,225.75 281.79,225.94 281.89,225.38 281.99,224.12 282.08,222.24 282.18,219.84 282.28,217.09 282.38,214.15 282.47,211.21 282.57,208.46 282.67,206.06 282.76,204.17 282.86,202.91 282.96,202.35 283.06,202.54 283.15,203.45 283.25,205.04 283.35,207.20 283.45,209.80 283.55,212.67 283.64,215.63 283.74,218.50 283.84,221.10 283.94,223.27 284.03,224.86 284.13,225.77 284.23,225.96 284.32,225.41 284.42,224.14 284.52,222.25 284.62,219.85 284.71,217.09 284.81,214.15 284.91,211.21 285.01,208.44 285.11,206.04 285.20,204.15 285.30,202.88 285.40,202.33 285.50,202.51 285.59,203.43 285.69,205.02 285.79,207.18 285.88,209.79 285.98,212.66 286.08,215.64 286.18,218.51 286.27,221.12 286.37,223.29 286.47,224.88 286.57,225.80 286.67,225.99 286.76,225.43 286.86,224.16 286.96,222.27 287.06,219.86 287.15,217.10 287.25,214.15 287.35,211.20 287.44,208.43 287.54,206.03 287.64,204.13 287.74,202.86 287.83,202.30 287.93,202.49 288.03,203.41 288.13,205.00 288.23,207.17 288.32,209.78 288.42,212.66 288.52,215.64 288.62,218.52 288.71,221.13 288.81,223.30 288.91,224.90 289.00,225.82 289.10,226.01 289.20,225.45 289.30,224.18 289.39,222.29 289.49,219.88 289.59,217.11 289.69,214.15 289.79,211.19 289.88,208.42 289.98,206.01 290.08,204.11 290.18,202.84 290.27,202.28 290.37,202.47 290.47,203.39 290.56,204.98 290.66,207.16 290.76,209.77 290.86,212.66 290.95,215.64 291.05,218.53 291.15,221.15 291.25,223.32 291.35,224.92 291.44,225.84 291.54,226.03 291.64,225.47 291.74,224.20 291.83,222.30 291.93,219.89 292.03,217.11 292.12,214.15 292.22,211.19 292.32,208.41 292.42,206.00 292.51,204.09 292.61,202.82 292.71,202.26 292.81,202.45 292.90,203.37 293.00,204.97 293.10,207.15 293.20,209.76 293.30,212.66 293.39,215.64 293.49,218.54 293.59,221.16 293.69,223.34 293.78,224.94 293.88,225.86 293.98,226.05 294.07,225.49 294.17,224.22 294.27,222.31 294.37,219.90 294.46,217.12 294.56,214.15 294.66,211.18 294.76,208.40 294.86,205.98 294.95,204.08 295.05,202.80 295.15,202.24 295.25,202.43 295.34,203.35 295.44,204.95 295.54,207.13 295.63,209.76 295.73,212.65 295.83,215.65 295.93,218.55 296.02,221.17 296.12,223.35 296.22,224.95 296.32,225.88 296.42,226.07 296.51,225.51 296.61,224.23 296.71,222.33 296.81,219.90 296.90,217.12 297.00,214.15 297.10,211.18 297.19,208.39 297.29,205.97 297.39,204.06 297.49,202.79 297.58,202.22 297.68,202.41 297.78,203.34 297.88,204.94 297.98,207.12 298.07,209.75 298.17,212.65 298.27,215.65 298.37,218.55 298.46,221.18 298.56,223.36 298.66,224.97 298.75,225.90 298.85,226.08 298.95,225.52 299.05,224.25 299.14,222.34 299.24,219.91 299.34,217.12 299.44,214.15 299.53,211.18 299.63,208.39 299.73,205.96 299.83,204.05 299.93,202.77 300.02,202.21 300.12,202.40 300.22,203.32 300.31,204.93 300.41,207.12 300.51,209.74 300.61,212.65 300.70,215.65 300.80,218.56 300.90,221.19 301.00,223.37 301.10,224.98 301.19,225.91 301.29,226.10 301.39,225.54 301.49,224.26 301.58,222.35 301.68,219.92 301.78,217.13 301.88,214.15 301.97,211.17 302.07,208.38 302.17,205.95 302.26,204.04 302.36,202.76 302.46,202.20 302.56,202.38 302.65,203.31 302.75,204.92 302.85,207.11 302.95,209.74 303.05,212.65 303.14,215.65 303.24,218.56 303.34,221.19 303.44,223.38 303.53,224.99 303.63,225.92 303.73,226.11 303.82,225.55 303.92,224.27 304.02,222.35 304.12,219.92 304.22,217.13 304.31,214.15 304.41,211.17 304.51,208.38 304.61,205.95 304.70,204.03 304.80,202.75 304.90,202.19 305.00,202.38 305.09,203.30 305.19,204.91 305.29,207.10 305.38,209.74 305.48,212.65 305.58,215.65 305.68,218.56 305.77,221.20 305.87,223.39 305.97,225.00 306.07,225.93 306.17,226.12 306.26,225.55 306.36,224.27 306.46,222.36 306.56,219.93 306.65,217.13 306.75,214.15 306.85,211.17 306.94,208.37 307.04,205.94 307.14,204.02 307.24,202.74 307.33,202.18 307.43,202.37 307.53,203.30 307.63,204.91 307.73,207.10 307.82,209.73 307.92,212.65 308.02,215.65 308.12,218.57 308.21,221.20 308.31,223.39 308.41,225.00 308.50,225.93 308.60,226.12 308.70,225.56 308.80,224.28 308.89,222.36 308.99,219.93 309.09,217.13 309.19,214.15 309.28,211.17 309.38,208.37 309.48,205.94 309.58,204.02 309.68,202.74 309.77,202.18 309.87,202.37 309.97,203.29 310.06,204.91 310.16,207.10 310.26,209.73 310.36,212.65 310.45,215.65 310.55,218.57 310.65,221.20 310.75,223.39 310.85,225.01 310.94,225.93 311.04,226.12 311.14,225.56 311.24,224.28 311.33,222.36 311.43,219.93 311.53,217.13 311.62,214.15 311.72,211.17 311.82,208.37 311.92,205.94 312.01,204.02 312.11,202.74 312.21,202.18 312.31,202.37 312.40,203.29 312.50,204.91 312.60,207.10 312.70,209.73 312.80,212.65 312.89,215.65 312.99,218.57 313.09,221.20 313.19,223.39 313.28,225.01 313.38,225.93 313.48,226.12 313.57,225.56 313.67,224.28 313.77,222.36 313.87,219.93 313.97,217.13 314.06,214.15 314.16,211.17 314.26,208.37 314.36,205.94 314.45,204.02 314.55,202.74 314.65,202.18 314.75,202.37 314.84,203.30 314.94,204.91 315.04,207.10 315.13,209.73 315.23,212.65 315.33,215.65 315.43,218.57 315.52,221.20 315.62,223.39 315.72,225.00 315.82,225.93 315.92,226.12 316.01,225.56 316.11,224.28 316.21,222.36 316.31,219.93 316.40,217.13 316.50,214.15 316.60,211.17 316.69,208.37 316.79,205.94 316.89,204.03 316.99,202.75 317.08,202.18 317.18,202.37 317.28,203.30 317.38,204.91 317.48,207.10 317.57,209.74 317.67,212.65 317.77,215.65 317.87,218.56 317.96,221.20 318.06,223.39 318.16,225.00 318.25,225.92 318.35,226.11 318.45,225.55 318.55,224.27 318.64,222.35 318.74,219.92 318.84,217.13 318.94,214.15 319.03,211.17 319.13,208.38 319.23,205.95 319.33,204.03 319.43,202.75 319.52,202.19 319.62,202.38 319.72,203.31 319.81,204.92 319.91,207.11 320.01,209.74 320.11,212.65 320.20,215.65 320.30,218.56 320.40,221.19 320.50,223.38 320.60,224.99 320.69,225.91 320.79,226.10 320.89,225.54 320.99,224.26 321.08,222.35 321.18,219.92 321.28,217.13 321.38,214.15 321.47,211.17 321.57,208.38 321.67,205.95 321.76,204.04 321.86,202.76 321.96,202.20 322.06,202.39 322.15,203.32 322.25,204.93 322.35,207.11 322.45,209.74 322.55,212.65 322.64,215.65 322.74,218.56 322.84,221.18 322.94,223.37 323.03,224.98 323.13,225.90 323.23,226.09 323.32,225.53 323.42,224.25 323.52,222.34 323.62,219.91 323.72,217.12 323.81,214.15 323.91,211.18 324.01,208.39 324.11,205.96 324.20,204.05 324.30,202.78 324.40,202.22 324.50,202.41 324.59,203.33 324.69,204.94 324.79,207.12 324.88,209.75 324.98,212.65 325.08,215.65 325.18,218.55 325.27,221.18 325.37,223.36 325.47,224.96 325.57,225.89 325.67,226.08 325.76,225.51 325.86,224.24 325.96,222.33 326.06,219.91 326.15,217.12 326.25,214.15 326.35,211.18 326.44,208.40 326.54,205.97 326.64,204.07 326.74,202.79 326.83,202.23 326.93,202.42 327.03,203.35 327.13,204.95 327.23,207.13 327.32,209.76 327.42,212.65 327.52,215.65 327.62,218.54 327.71,221.17 327.81,223.35 327.91,224.95 328.00,225.87 328.10,226.06 328.20,225.50 328.30,224.22 328.39,222.32 328.49,219.90 328.59,217.12 328.69,214.15 328.78,211.18 328.88,208.40 328.98,205.99 329.08,204.08 329.18,202.81 329.27,202.25 329.37,202.44 329.47,203.36 329.56,204.96 329.66,207.14 329.76,209.76 329.86,212.66 329.95,215.64 330.05,218.54 330.15,221.15 330.25,223.33 330.35,224.93 330.44,225.85 330.54,226.04 330.64,225.48 330.74,224.21 330.83,222.30 330.93,219.89 331.03,217.11 331.12,214.15 331.22,211.19 331.32,208.41 331.42,206.00 331.51,204.10 331.61,202.83 331.71,202.27 331.81,202.46 331.90,203.38 332.00,204.98 332.10,207.16 332.20,209.77 332.30,212.66 332.39,215.64 332.49,218.53 332.59,221.14 332.69,223.31 332.78,224.91 332.88,225.83 332.98,226.02 333.07,225.46 333.17,224.19 333.27,222.29 333.37,219.88 333.47,217.11 333.56,214.15 333.66,211.19 333.76,208.42 333.86,206.02 333.95,204.12 334.05,202.85 334.15,202.29 334.25,202.48 334.34,203.40 334.44,205.00 334.54,207.17 334.63,209.78 334.73,212.66 334.83,215.64 334.93,218.52 335.02,221.13 335.12,223.30 335.22,224.89 335.32,225.81 335.42,226.00 335.51,225.44 335.61,224.17 335.71,222.27 335.81,219.87 335.90,217.10 336.00,214.15 336.10,211.20 336.19,208.44 336.29,206.03 336.39,204.14 336.49,202.87 336.58,202.32 336.68,202.50 336.78,203.42 336.88,205.02 336.98,207.18 337.07,209.79 337.17,212.66 337.27,215.64 337.37,218.51 337.46,221.11 337.56,223.28 337.66,224.87 337.75,225.79 337.85,225.97 337.95,225.41 338.05,224.15 338.14,222.26 338.24,219.85 338.34,217.09 338.44,214.15 338.53,211.21 338.63,208.45 338.73,206.05 338.83,204.16 338.93,202.90 339.02,202.34 339.12,202.53 339.22,203.45 339.31,205.04 339.41,207.20 339.51,209.80 339.61,212.67 339.70,215.63 339.80,218.50 339.90,221.10 340.00,223.26 340.10,224.85 340.19,225.76 340.29,225.95 340.39,225.39 340.49,224.13 340.58,222.24 340.68,219.84 340.78,217.09 340.88,214.15 340.97,211.21 341.07,208.46 341.17,206.07 341.26,204.18 341.36,202.92 341.46,202.37 341.56,202.55 341.65,203.47 341.75,205.06 341.85,207.21 341.95,209.81 342.05,212.67 342.14,215.63 342.24,218.49 342.34,221.08 342.44,223.24 342.53,224.82 342.63,225.74 342.73,225.92 342.82,225.36 342.92,224.11 343.02,222.22 343.12,219.83 343.22,217.08 343.31,214.15 343.41,211.22 343.51,208.47 343.61,206.08 343.70,204.20 343.80,202.95 343.90,202.39 344.00,202.58 344.09,203.49 344.19,205.08 344.29,207.23 344.38,209.82 344.48,212.67 344.58,215.63 344.68,218.48 344.77,221.07 344.87,223.22 344.97,224.80 345.07,225.71 345.17,225.89 345.26,225.34 345.36,224.08 345.46,222.20 345.56,219.82 345.65,217.07 345.75,214.15 345.85,211.23 345.94,208.49 346.04,206.10 346.14,204.22 346.24,202.97 346.33,202.42 346.43,202.61 346.53,203.52 346.63,205.10 346.73,207.24 346.82,209.83 346.92,212.68 347.02,215.62 347.12,218.47 347.21,221.05 347.31,223.20 347.41,224.77 347.50,225.68 347.60,225.87 347.70,225.31 347.80,224.06 347.89,222.18 347.99,219.80 348.09,217.07 348.19,214.15 348.28,211.23 348.38,208.50 348.48,206.12 348.58,204.25 348.68,203.00 348.77,202.45 348.87,202.63 348.97,203.54 349.06,205.12 349.16,207.26 349.26,209.83 349.36,212.68 349.45,215.62 349.55,218.46 349.65,221.04 349.75,223.18 349.85,224.75 349.94,225.66 350.04,225.84 350.14,225.29 350.24,224.04 350.33,222.17 350.43,219.79 350.53,217.06 350.62,214.15 350.72,211.24 350.82,208.51 350.92,206.14 351.01,204.27 351.11,203.02 351.21,202.47 351.31,202.66 351.40,203.56 351.50,205.14 351.60,207.27 351.70,209.84 351.80,212.68 351.89,215.62 351.99,218.45 352.09,221.02 352.19,223.16 352.28,224.73 352.38,225.63 352.48,225.82 352.57,225.27 352.67,224.02 352.77,222.15 352.87,219.78 352.97,217.06 353.06,214.15 353.16,211.24 353.26,208.52 353.36,206.15 353.45,204.29 353.55,203.04 353.65,202.50 353.75,202.68 353.84,203.59 353.94,205.16 354.04,207.29 354.13,209.85 354.23,212.69 354.33,215.61 354.43,218.45 354.52,221.01 354.62,223.14 354.72,224.71 354.82,225.61 354.92,225.79 355.01,225.24 355.11,224.00 355.21,222.13 355.31,219.77 355.40,217.05 355.50,214.15 355.60,211.25 355.69,208.53 355.79,206.17 355.89,204.31 355.99,203.07 356.09,202.52 356.18,202.70 356.28,203.61 356.38,205.17 356.48,207.30 356.57,209.86 356.67,212.69 356.77,215.61 356.87,218.44 356.96,220.99 357.06,223.12 357.16,224.68 357.25,225.59 357.35,225.77 357.45,225.22 357.55,223.98 357.64,222.12 357.74,219.76 357.84,217.04 357.94,214.15 358.03,211.26 358.13,208.55 358.23,206.19 358.33,204.33 358.43,203.09 358.52,202.54 358.62,202.73 358.72,203.63 358.81,205.19 358.91,207.32 359.01,209.87 359.11,212.69 359.21,215.61 359.30,218.43 359.40,220.98 359.50,223.10 359.60,224.66 359.69,225.56 359.79,225.75 359.89,225.20 359.99,223.96 360.08,222.10 360.18,219.75 360.28,217.04 360.38,214.15 360.47,211.26 360.57,208.56 360.67,206.20 360.76,204.35 360.86,203.11 360.96,202.56 361.06,202.75 361.15,203.65 361.25,205.21 361.35,207.33 361.45,209.88 361.54,212.70 361.64,215.60 361.74,218.42 361.84,220.97 361.94,223.09 362.03,224.65 362.13,225.54 362.23,225.73 362.32,225.18 362.42,223.94 362.52,222.09 362.62,219.74 362.72,217.03 362.81,214.15 362.91,211.27 363.01,208.57 363.11,206.21 363.20,204.36 363.30,203.13 363.40,202.58 363.50,202.77 363.59,203.66 363.69,205.22 363.79,207.34 363.88,209.88 363.98,212.70 364.08,215.60 364.18,218.41 364.27,220.96 364.37,223.07 364.47,224.63 364.57,225.53 364.66,225.71 364.76,225.16 364.86,223.93 364.96,222.08 365.06,219.73 365.15,217.03 365.25,214.15 365.35,211.27 365.44,208.57 365.54,206.23 365.64,204.38 365.74,203.14 365.84,202.60 365.93,202.78 366.03,203.68 366.13,205.23 366.23,207.35 366.32,209.89 366.42,212.70 366.52,215.60 366.62,218.41 366.71,220.95 366.81,223.06 366.91,224.62 367.00,225.51 367.10,225.69 367.20,225.15 367.30,223.91 367.39,222.07 367.49,219.72 367.59,217.03 367.69,214.15 367.78,211.27 367.88,208.58 367.98,206.24 368.08,204.39 368.18,203.16 368.27,202.61 368.37,202.80 368.47,203.69 368.56,205.25 368.66,207.36 368.76,209.90 368.86,212.70 368.96,215.60 369.05,218.40 369.15,220.94 369.25,223.05 369.35,224.60 369.44,225.50 369.54,225.68 369.64,225.14 369.74,223.90 369.83,222.06 369.93,219.71 370.03,217.02 370.12,214.15 370.22,211.28 370.32,208.59 370.42,206.24 370.51,204.40 370.61,203.17 370.71,202.63 370.81,202.81 370.90,203.70 371.00,205.25 371.10,207.36 371.20,209.90 371.29,212.70 371.39,215.60 371.49,218.40 371.59,220.93 371.69,223.04 371.78,224.59 371.88,225.49 371.98,225.67 372.07,225.13 372.17,223.89 372.27,222.05 372.37,219.71 372.47,217.02 372.56,214.15 372.66,211.28 372.76,208.59 372.86,206.25 372.95,204.41 373.05,203.18 373.15,202.64 373.25,202.82 373.34,203.71 373.44,205.26 373.54,207.37 373.63,209.90 373.73,212.70 373.83,215.60 373.93,218.40 374.02,220.93 374.12,223.04 374.22,224.59 374.32,225.48 374.41,225.66 374.51,225.12 374.61,223.89 374.71,222.04 374.81,219.71 374.90,217.02 375.00,214.15 375.10,211.28 375.19,208.59 375.29,206.26 375.39,204.41 375.49,203.18 375.59,202.64 375.68,202.82 375.78,203.72 375.88,205.27 375.98,207.37 376.07,209.91 376.17,212.70 376.27,215.60 376.37,218.39 376.46,220.93 376.56,223.03 376.66,224.58 376.75,225.47 376.85,225.66 376.95,225.11 377.05,223.88 377.14,222.04 377.24,219.70 377.34,217.02 377.44,214.15 377.53,211.28 377.63,208.60 377.73,206.26 377.83,204.42 377.93,203.19 378.02,202.65 378.12,202.83 378.22,203.72 378.31,205.27 378.41,207.37 378.51,209.91 378.61,212.71 378.71,215.59 378.80,218.39 378.90,220.93 379.00,223.03 379.10,224.58 379.19,225.47 379.29,225.65 379.39,225.11 379.49,223.88 379.58,222.04 379.68,219.70 379.78,217.02 379.88,214.15 379.97,211.28 380.07,208.60 380.17,206.26 380.26,204.42 380.36,203.19 380.46,202.65 380.56,202.83 380.65,203.72 380.75,205.27 380.85,207.37 380.95,209.91 381.04,212.71 381.14,215.59 381.24,218.39 381.34,220.93 381.44,223.03 381.53,224.58 381.63,225.47 381.73,225.66 381.82,225.11 381.92,223.88 382.02,222.04 382.12,219.70 382.22,217.02 382.31,214.15 382.41,211.28 382.51,208.60 382.61,206.26 382.70,204.42 382.80,203.18 382.90,202.64 383.00,202.82 383.09,203.72 383.19,205.27 383.29,207.37 383.38,209.91 383.48,212.70 383.58,215.60 383.68,218.39 383.77,220.93 383.87,223.04 383.97,224.58 384.07,225.48 384.16,225.66 384.26,225.12 384.36,223.89 384.46,222.04 384.56,219.71 384.65,217.02 384.75,214.15 384.85,211.28 384.94,208.59 385.04,206.25 385.14,204.41 385.24,203.18 385.34,202.64 385.43,202.82 385.53,203.71 385.63,205.26 385.73,207.37 385.82,209.90 385.92,212.70 386.02,215.60 386.12,218.40 386.21,220.93 386.31,223.04 386.41,224.59 386.50,225.48 386.60,225.67 386.70,225.12 386.80,223.89 386.89,222.05 386.99,219.71 387.09,217.02 387.19,214.15 387.28,211.28 387.38,208.59 387.48,206.25 387.58,204.40 387.68,203.17 387.77,202.63 387.87,202.81 387.97,203.70 388.06,205.25 388.16,207.36 388.26,209.90 388.36,212.70 388.46,215.60 388.55,218.40 388.65,220.94 388.75,223.05 388.85,224.60 388.94,225.49 389.04,225.68 389.14,225.13 389.24,223.90 389.33,222.06 389.43,219.71 389.53,217.02 389.62,214.15 389.72,211.28 389.82,208.58 389.92,206.24 390.01,204.39 390.11,203.16 390.21,202.62 390.31,202.80 390.40,203.69 390.50,205.25 390.60,207.36 390.70,209.90 390.79,212.70 390.89,215.60 390.99,218.41 391.09,220.94 391.19,223.06 391.28,224.61 391.38,225.51 391.48,225.69 391.57,225.15 391.67,223.91 391.77,222.07 391.87,219.72 391.97,217.03 392.06,214.15 392.16,211.27 392.26,208.58 392.36,206.23 392.45,204.38 392.55,203.15 392.65,202.60 392.75,202.79 392.84,203.68 392.94,205.23 393.04,207.35 393.13,209.89 393.23,212.70 393.33,215.60 393.43,218.41 393.52,220.95 393.62,223.07 393.72,224.62 393.82,225.52 393.91,225.70 394.01,225.16 394.11,223.93 394.21,222.08 394.31,219.73 394.40,217.03 394.50,214.15 394.60,211.27 394.69,208.57 394.79,206.22 394.89,204.37 394.99,203.13 395.09,202.59 395.18,202.77 395.28,203.67 395.38,205.22 395.48,207.34 395.57,209.88 395.67,212.70 395.77,215.60 395.87,218.42 395.96,220.96 396.06,223.08 396.16,224.64 396.25,225.54 396.35,225.72 396.45,225.18 396.55,223.94 396.64,222.09 396.74,219.74 396.84,217.03 396.94,214.15 397.03,211.27 397.13,208.56 397.23,206.21 397.33,204.35 397.43,203.12 397.52,202.57 397.62,202.75 397.72,203.65 397.81,205.21 397.91,207.33 398.01,209.88 398.11,212.70 398.21,215.60 398.30,218.42 398.40,220.97 398.50,223.10 398.60,224.66 398.69,225.56 398.79,225.74 398.89,225.20 398.99,223.96 399.08,222.10 399.18,219.75 399.28,217.04 399.38,214.15 399.47,211.26 399.57,208.55 399.67,206.19 399.76,204.34 399.86,203.10 399.96,202.55 400.06,202.73 400.15,203.63 400.25,205.19 400.35,207.32 400.45,209.87 400.54,212.69 400.64,215.61 400.74,218.43 400.84,220.99 400.94,223.11 401.03,224.68 401.13,225.58 401.23,225.76 401.32,225.22 401.42,223.98 401.52,222.12 401.62,219.76 401.72,217.04 401.81,214.15 401.91,211.25 402.01,208.54 402.11,206.18 402.20,204.32 402.30,203.08 402.40,202.53 402.50,202.71 402.59,203.61 402.69,205.17 402.79,207.30 402.88,209.86 402.98,212.69 403.08,215.61 403.18,218.44 403.27,221.00 403.37,223.13 403.47,224.70 403.57,225.60 403.66,225.78 403.76,225.24 403.86,223.99 403.96,222.13 404.06,219.77 404.15,217.05 404.25,214.15 404.35,211.25 404.44,208.53 404.54,206.16 404.64,204.30 404.74,203.05 404.84,202.50 404.93,202.69 405.03,203.59 405.13,205.16 405.23,207.29 405.32,209.85 405.42,212.69 405.52,215.61 405.62,218.45 405.71,221.01 405.81,223.15 405.91,224.72 406.00,225.62 406.10,225.81 406.20,225.26 406.30,224.02 406.39,222.15 406.49,219.78 406.59,217.06 406.69,214.15 406.78,211.24 406.88,208.52 406.98,206.15 407.08,204.28 407.18,203.03 407.27,202.48 407.37,202.66 407.47,203.57 407.56,205.14 407.66,207.27 407.76,209.84 407.86,212.68 407.96,215.62 408.05,218.46 408.15,221.03 408.25,223.17 408.35,224.74 408.44,225.65 408.54,225.83 408.64,225.29 408.74,224.04 408.83,222.17 408.93,219.79 409.03,217.06 409.12,214.15 409.22,211.24 409.32,208.51 409.42,206.13 409.51,204.26 409.61,203.00 409.71,202.45 409.81,202.64 409.90,203.54 410.00,205.12 410.10,207.26 410.20,209.83 410.29,212.68 410.39,215.62 410.49,218.47 410.59,221.04 410.69,223.19 410.78,224.76 410.88,225.67 410.98,225.86 411.07,225.31 411.17,224.06 411.27,222.18 411.37,219.80 411.47,217.07 411.56,214.15 411.66,211.23 411.76,208.49 411.86,206.11 411.95,204.23 412.05,202.98 412.15,202.43 412.25,202.61 412.34,203.52 412.44,205.10 412.54,207.24 412.63,209.82 412.73,212.68 412.83,215.62 412.93,218.48 413.02,221.06 413.12,223.21 413.22,224.79 413.32,225.70 413.41,225.89 413.51,225.34 413.61,224.08 413.71,222.20 413.81,219.82 413.90,217.08 414.00,214.15 414.10,211.22 414.19,208.48 414.29,206.09 414.39,204.21 414.49,202.95 414.59,202.40 414.68,202.58 414.78,203.50 414.88,205.08 414.98,207.23 415.07,209.81 415.17,212.67 415.27,215.63 415.37,218.49 415.46,221.08 415.56,223.23 415.66,224.81 415.75,225.73 415.85,225.91 415.95,225.36 416.05,224.10 416.14,222.22 416.24,219.83 416.34,217.08 416.44,214.15 416.53,211.22 416.63,208.47 416.73,206.08 416.83,204.19 416.93,202.93 417.02,202.37 417.12,202.56 417.22,203.47 417.31,205.06 417.41,207.21 417.51,209.80 417.61,212.67 417.71,215.63 417.80,218.50 417.90,221.09 418.00,223.25 418.10,224.84 418.19,225.75 418.29,225.94 418.39,225.39 418.49,224.13 418.58,222.24 418.68,219.84 418.78,217.09 418.88,214.15 418.97,211.21 419.07,208.46 419.17,206.06 419.26,204.17 419.36,202.90 419.46,202.35 419.56,202.53 419.65,203.45 419.75,205.04 419.85,207.20 419.95,209.80 420.04,212.67 420.14,215.63 420.24,218.51 420.34,221.11 420.44,223.27 420.53,224.86 420.63,225.78 420.73,225.96 420.82,225.41 420.92,224.15 421.02,222.26 421.12,219.85 421.22,217.10 421.31,214.15 421.41,211.20 421.51,208.44 421.61,206.04 421.70,204.15 421.80,202.88 421.90,202.32 422.00,202.51 422.09,203.43 422.19,205.02 422.29,207.18 422.38,209.79 422.48,212.66 422.58,215.64 422.68,218.52 422.77,221.12 422.87,223.29 422.97,224.88 423.07,225.80 423.16,225.99 423.26,225.43 423.36,224.17 423.46,222.27 423.56,219.87 423.65,217.10 423.75,214.15 423.85,211.20 423.94,208.43 424.04,206.02 424.14,204.13 424.24,202.86 424.34,202.30 424.43,202.49 424.53,203.40 424.63,205.00 424.73,207.17 424.82,209.78 424.92,212.66 425.02,215.64 425.12,218.52 425.21,221.13 425.31,223.31 425.41,224.90 425.50,225.82 425.60,226.01 425.70,225.45 425.80,224.19 425.89,222.29 425.99,219.88 426.09,217.11 426.19,214.15 426.28,211.19 426.38,208.42 426.48,206.01 426.58,204.11 426.68,202.84 426.77,202.28 426.87,202.46 426.97,203.38 427.06,204.98 427.16,207.16 427.26,209.77 427.36,212.66 427.46,215.64 427.55,218.53 427.65,221.15 427.75,223.32 427.85,224.92 427.94,225.85 428.04,226.03 428.14,225.48 428.24,224.21 428.33,222.30 428.43,219.89 428.53,217.11 428.62,214.15 428.72,211.19 428.82,208.41 428.92,205.99 429.01,204.09 429.11,202.82 429.21,202.26 429.31,202.44 429.40,203.37 429.50,204.97 429.60,207.14 429.70,209.76 429.79,212.66 429.89,215.64 429.99,218.54 430.09,221.16 430.19,223.34 430.28,224.94 430.38,225.87 430.48,226.05 430.57,225.49 430.67,224.22 430.77,222.32 430.87,219.90 430.97,217.12 431.06,214.15 431.16,211.18 431.26,208.40 431.36,205.98 431.45,204.07 431.55,202.80 431.65,202.24 431.75,202.42 431.84,203.35 431.94,204.95 432.04,207.13 432.13,209.75 432.23,212.65 432.33,215.65 432.43,218.55 432.52,221.17 432.62,223.35 432.72,224.96 432.82,225.88 432.91,226.07 433.01,225.51 433.11,224.24 433.21,222.33 433.31,219.91 433.40,217.12 433.50,214.15" fill="none" stroke="#0a6cb5" stroke-width="1.15" stroke-linejoin="round"/>
</g>
<clipPath id="c8"><rect x="277.50" y="274.10" width="156.00" height="49.90"/></clipPath>
<g clip-path="url(#c8)">
<polyline points="277.50,299.05 277.60,295.28 277.69,291.87 277.79,289.16 277.89,287.43 277.99,286.83 278.08,287.42 278.18,289.16 278.28,291.86 278.38,295.27 278.48,299.05 278.57,302.83 278.67,306.24 278.77,308.95 278.87,310.69 278.96,311.29 279.06,310.69 279.16,308.95 279.25,306.25 279.35,302.83 279.45,299.05 279.55,295.26 279.64,291.85 279.74,289.14 279.84,287.40 279.94,286.79 280.04,287.39 280.13,289.13 280.23,291.84 280.33,295.26 280.43,299.05 280.52,302.84 280.62,306.26 280.72,308.98 280.81,310.72 280.91,311.32 281.01,310.72 281.11,308.98 281.20,306.27 281.30,302.84 281.40,299.05 281.50,295.25 281.60,291.83 281.69,289.11 281.79,287.36 281.89,286.76 281.99,287.36 282.08,289.11 282.18,291.82 282.28,295.25 282.38,299.05 282.47,302.85 282.57,306.28 282.67,309.00 282.76,310.75 282.86,311.35 282.96,310.75 283.06,309.01 283.15,306.29 283.25,302.85 283.35,299.05 283.45,295.24 283.55,291.81 283.64,289.09 283.74,287.33 283.84,286.73 283.94,287.33 284.03,289.08 284.13,291.81 284.23,295.24 284.32,299.05 284.42,302.86 284.52,306.30 284.62,309.03 284.71,310.78 284.81,311.39 284.91,310.78 285.01,309.03 285.11,306.30 285.20,302.86 285.30,299.05 285.40,295.24 285.50,291.79 285.59,289.06 285.69,287.30 285.79,286.70 285.88,287.30 285.98,289.06 286.08,291.79 286.18,295.23 286.27,299.05 286.37,302.87 286.47,306.32 286.57,309.05 286.67,310.81 286.76,311.42 286.86,310.81 286.96,309.06 287.06,306.32 287.15,302.87 287.25,299.05 287.35,295.23 287.44,291.78 287.54,289.04 287.64,287.28 287.74,286.67 287.83,287.27 287.93,289.03 288.03,291.77 288.13,295.22 288.23,299.05 288.32,302.88 288.42,306.33 288.52,309.08 288.62,310.84 288.71,311.45 288.81,310.84 288.91,309.08 289.00,306.34 289.10,302.88 289.20,299.05 289.30,295.22 289.39,291.76 289.49,289.01 289.59,287.25 289.69,286.64 289.79,287.25 289.88,289.01 289.98,291.75 290.08,295.21 290.18,299.05 290.27,302.89 290.37,306.35 290.47,309.10 290.56,310.86 290.66,311.47 290.76,310.87 290.86,309.10 290.95,306.35 291.05,302.89 291.15,299.05 291.25,295.21 291.35,291.74 291.44,288.99 291.54,287.22 291.64,286.61 291.74,287.22 291.83,288.99 291.93,291.74 292.03,295.21 292.12,299.05 292.22,302.90 292.32,306.37 292.42,309.12 292.51,310.89 292.61,311.50 292.71,310.89 292.81,309.12 292.90,306.37 293.00,302.90 293.10,299.05 293.20,295.20 293.30,291.73 293.39,288.97 293.49,287.20 293.59,286.59 293.69,287.20 293.78,288.97 293.88,291.72 293.98,295.20 294.07,299.05 294.17,302.90 294.27,306.38 294.37,309.14 294.46,310.91 294.56,311.52 294.66,310.91 294.76,309.14 294.86,306.38 294.95,302.91 295.05,299.05 295.15,295.19 295.25,291.71 295.34,288.95 295.44,287.18 295.54,286.56 295.63,287.17 295.73,288.95 295.83,291.71 295.93,295.19 296.02,299.05 296.12,302.91 296.22,306.39 296.32,309.16 296.42,310.93 296.51,311.55 296.61,310.94 296.71,309.16 296.81,306.40 296.90,302.91 297.00,299.05 297.10,295.19 297.19,291.70 297.29,288.93 297.39,287.16 297.49,286.54 297.58,287.15 297.68,288.93 297.78,291.70 297.88,295.18 297.98,299.05 298.07,302.92 298.17,306.41 298.27,309.17 298.37,310.95 298.46,311.57 298.56,310.95 298.66,309.18 298.75,306.41 298.85,302.92 298.95,299.05 299.05,295.18 299.14,291.69 299.24,288.92 299.34,287.14 299.44,286.52 299.53,287.14 299.63,288.92 299.73,291.69 299.83,295.18 299.93,299.05 300.02,302.92 300.12,306.42 300.22,309.19 300.31,310.97 300.41,311.58 300.51,310.97 300.61,309.19 300.70,306.42 300.80,302.92 300.90,299.05 301.00,295.18 301.10,291.68 301.19,288.90 301.29,287.12 301.39,286.51 301.49,287.12 301.58,288.90 301.68,291.68 301.78,295.17 301.88,299.05 301.97,302.93 302.07,306.42 302.17,309.20 302.26,310.98 302.36,311.60 302.46,310.99 302.56,309.20 302.65,306.43 302.75,302.93 302.85,299.05 302.95,295.17 303.05,291.67 303.14,288.89 303.24,287.11 303.34,286.49 303.44,287.11 303.53,288.89 303.63,291.67 303.73,295.17 303.82,299.05 303.92,302.93 304.02,306.43 304.12,309.21 304.22,311.00 304.31,311.61 304.41,311.00 304.51,309.21 304.61,306.43 304.70,302.93 304.80,299.05 304.90,295.17 305.00,291.66 305.09,288.88 305.19,287.10 305.29,286.48 305.38,287.10 305.48,288.88 305.58,291.66 305.68,295.17 305.77,299.05 305.87,302.93 305.97,306.44 306.07,309.22 306.17,311.00 306.26,311.62 306.36,311.01 306.46,309.22 306.56,306.44 306.65,302.93 306.75,299.05 306.85,295.16 306.94,291.66 307.04,288.88 307.14,287.09 307.24,286.48 307.33,287.09 307.43,288.88 307.53,291.66 307.63,295.16 307.73,299.05 307.82,302.94 307.92,306.44 308.02,309.22 308.12,311.01 308.21,311.63 308.31,311.01 308.41,309.23 308.50,306.44 308.60,302.94 308.70,299.05 308.80,295.16 308.89,291.66 308.99,288.87 309.09,287.09 309.19,286.47 309.28,287.09 309.38,288.87 309.48,291.66 309.58,295.16 309.68,299.05 309.77,302.94 309.87,306.44 309.97,309.23 310.06,311.01 310.16,311.63 310.26,311.01 310.36,309.23 310.45,306.44 310.55,302.94 310.65,299.05 310.75,295.16 310.85,291.66 310.94,288.87 311.04,287.08 311.14,286.47 311.24,287.08 311.33,288.87 311.43,291.66 311.53,295.16 311.62,299.05 311.72,302.94 311.82,306.44 311.92,309.23 312.01,311.02 312.11,311.63 312.21,311.02 312.31,309.23 312.40,306.44 312.50,302.94 312.60,299.05 312.70,295.16 312.80,291.66 312.89,288.87 312.99,287.09 313.09,286.47 313.19,287.09 313.28,288.87 313.38,291.66 313.48,295.16 313.57,299.05 313.67,302.94 313.77,306.44 313.87,309.23 313.97,311.01 314.06,311.63 314.16,311.01 314.26,309.23 314.36,306.44 314.45,302.94 314.55,299.05 314.65,295.16 314.75,291.66 314.84,288.88 314.94,287.09 315.04,286.47 315.13,287.09 315.23,288.88 315.33,291.66 315.43,295.16 315.52,299.05 315.62,302.94 315.72,306.44 315.82,309.22 315.92,311.01 316.01,311.62 316.11,311.01 316.21,309.22 316.31,306.44 316.40,302.93 316.50,299.05 316.60,295.17 316.69,291.66 316.79,288.88 316.89,287.10 316.99,286.48 317.08,287.10 317.18,288.88 317.28,291.66 317.38,295.17 317.48,299.05 317.57,302.93 317.67,306.44 317.77,309.22 317.87,311.00 317.96,311.61 318.06,311.00 318.16,309.21 318.25,306.43 318.35,302.93 318.45,299.05 318.55,295.17 318.64,291.67 318.74,288.89 318.84,287.10 318.94,286.49 319.03,287.11 319.13,288.89 319.23,291.67 319.33,295.17 319.43,299.05 319.52,302.93 319.62,306.43 319.72,309.21 319.81,310.99 319.91,311.60 320.01,310.99 320.11,309.21 320.20,306.43 320.30,302.93 320.40,299.05 320.50,295.17 320.60,291.67 320.69,288.90 320.79,287.12 320.89,286.50 320.99,287.12 321.08,288.90 321.18,291.68 321.28,295.17 321.38,299.05 321.47,302.93 321.57,306.42 321.67,309.20 321.76,310.98 321.86,311.59 321.96,310.98 322.06,309.19 322.15,306.42 322.25,302.92 322.35,299.05 322.45,295.18 322.55,291.68 322.64,288.91 322.74,287.13 322.84,286.52 322.94,287.13 323.03,288.91 323.13,291.69 323.23,295.18 323.32,299.05 323.42,302.92 323.52,306.41 323.62,309.18 323.72,310.96 323.81,311.57 323.91,310.96 324.01,309.18 324.11,306.41 324.20,302.92 324.30,299.05 324.40,295.18 324.50,291.69 324.59,288.92 324.69,287.15 324.79,286.54 324.88,287.15 324.98,288.93 325.08,291.70 325.18,295.18 325.27,299.05 325.37,302.92 325.47,306.40 325.57,309.17 325.67,310.94 325.76,311.55 325.86,310.94 325.96,309.16 326.06,306.40 326.15,302.91 326.25,299.05 326.35,295.19 326.44,291.70 326.54,288.94 326.64,287.17 326.74,286.56 326.83,287.17 326.93,288.94 327.03,291.71 327.13,295.19 327.23,299.05 327.32,302.91 327.42,306.39 327.52,309.15 327.62,310.92 327.71,311.53 327.81,310.92 327.91,309.15 328.00,306.39 328.10,302.91 328.20,299.05 328.30,295.19 328.39,291.72 328.49,288.96 328.59,287.19 328.69,286.58 328.78,287.19 328.88,288.96 328.98,291.72 329.08,295.20 329.18,299.05 329.27,302.90 329.37,306.38 329.47,309.13 329.56,310.90 329.66,311.51 329.76,310.90 329.86,309.13 329.95,306.37 330.05,302.90 330.15,299.05 330.25,295.20 330.35,291.73 330.44,288.98 330.54,287.21 330.64,286.60 330.74,287.21 330.83,288.98 330.93,291.74 331.03,295.21 331.12,299.05 331.22,302.89 331.32,306.36 331.42,309.11 331.51,310.88 331.61,311.48 331.71,310.87 331.81,309.11 331.90,306.36 332.00,302.89 332.10,299.05 332.20,295.21 332.30,291.75 332.39,289.00 332.49,287.24 332.59,286.63 332.69,287.24 332.78,289.00 332.88,291.75 332.98,295.21 333.07,299.05 333.17,302.89 333.27,306.35 333.37,309.09 333.47,310.85 333.56,311.46 333.66,310.85 333.76,309.09 333.86,306.34 333.95,302.88 334.05,299.05 334.15,295.22 334.25,291.76 334.34,289.02 334.44,287.26 334.54,286.66 334.63,287.26 334.73,289.03 334.83,291.77 334.93,295.22 335.02,299.05 335.12,302.88 335.22,306.33 335.32,309.07 335.42,310.82 335.51,311.43 335.61,310.82 335.71,309.06 335.81,306.32 335.90,302.87 336.00,299.05 336.10,295.23 336.19,291.78 336.29,289.05 336.39,287.29 336.49,286.69 336.58,287.29 336.68,289.05 336.78,291.79 336.88,295.23 336.98,299.05 337.07,302.87 337.17,306.31 337.27,309.04 337.37,310.80 337.46,311.40 337.56,310.79 337.66,309.04 337.75,306.31 337.85,302.86 337.95,299.05 338.05,295.24 338.14,291.80 338.24,289.07 338.34,287.32 338.44,286.72 338.53,287.32 338.63,289.07 338.73,291.80 338.83,295.24 338.93,299.05 339.02,302.86 339.12,306.29 339.22,309.02 339.31,310.77 339.41,311.37 339.51,310.76 339.61,309.01 339.70,306.29 339.80,302.85 339.90,299.05 340.00,295.25 340.10,291.82 340.19,289.10 340.29,287.35 340.39,286.75 340.49,287.35 340.58,289.10 340.68,291.82 340.78,295.25 340.88,299.05 340.97,302.85 341.07,306.27 341.17,308.99 341.26,310.74 341.36,311.34 341.46,310.73 341.56,308.99 341.65,306.27 341.75,302.84 341.85,299.05 341.95,295.26 342.05,291.84 342.14,289.12 342.24,287.38 342.34,286.78 342.44,287.38 342.53,289.13 342.63,291.84 342.73,295.26 342.82,299.05 342.92,302.84 343.02,306.25 343.12,308.97 343.22,310.70 343.31,311.30 343.41,310.70 343.51,308.96 343.61,306.25 343.70,302.83 343.80,299.05 343.90,295.27 344.00,291.85 344.09,289.15 344.19,287.41 344.29,286.81 344.38,287.41 344.48,289.15 344.58,291.86 344.68,295.27 344.77,299.05 344.87,302.83 344.97,306.24 345.07,308.94 345.17,310.67 345.26,311.27 345.36,310.67 345.46,308.93 345.56,306.23 345.65,302.82 345.75,299.05 345.85,295.28 345.94,291.87 346.04,289.17 346.14,287.44 346.24,286.85 346.33,287.45 346.43,289.18 346.53,291.88 346.63,295.28 346.73,299.05 346.82,302.82 346.92,306.22 347.02,308.91 347.12,310.64 347.21,311.24 347.31,310.64 347.41,308.91 347.50,306.21 347.60,302.81 347.70,299.05 347.80,295.29 347.89,291.89 347.99,289.20 348.09,287.47 348.19,286.88 348.28,287.48 348.38,289.21 348.48,291.90 348.58,295.29 348.68,299.05 348.77,302.81 348.87,306.20 348.97,308.89 349.06,310.61 349.16,311.20 349.26,310.61 349.36,308.88 349.45,306.19 349.55,302.80 349.65,299.05 349.75,295.30 349.85,291.91 349.94,289.23 350.04,287.50 350.14,286.91 350.24,287.51 350.33,289.23 350.43,291.92 350.53,295.30 350.62,299.05 350.72,302.80 350.82,306.18 350.92,308.86 351.01,310.58 351.11,311.17 351.21,310.58 351.31,308.85 351.40,306.17 351.50,302.79 351.60,299.05 351.70,295.31 351.80,291.93 351.89,289.25 351.99,287.54 352.09,286.94 352.19,287.54 352.28,289.26 352.38,291.94 352.48,295.31 352.57,299.05 352.67,302.79 352.77,306.16 352.87,308.83 352.97,310.55 353.06,311.14 353.16,310.55 353.26,308.83 353.36,306.15 353.45,302.78 353.55,299.05 353.65,295.32 353.75,291.95 353.84,289.28 353.94,287.56 354.04,286.98 354.13,287.57 354.23,289.28 354.33,291.96 354.43,295.32 354.52,299.05 354.62,302.78 354.72,306.14 354.82,308.81 354.92,310.52 355.01,311.11 355.11,310.52 355.21,308.80 355.31,306.14 355.40,302.77 355.50,299.05 355.60,295.33 355.69,291.97 355.79,289.30 355.89,287.59 355.99,287.01 356.09,287.60 356.18,289.31 356.28,291.97 356.38,295.33 356.48,299.05 356.57,302.77 356.67,306.12 356.77,308.79 356.87,310.49 356.96,311.08 357.06,310.49 357.16,308.78 357.25,306.12 357.35,302.77 357.45,299.05 357.55,295.33 357.64,291.98 357.74,289.33 357.84,287.62 357.94,287.03 358.03,287.62 358.13,289.33 358.23,291.99 358.33,295.34 358.43,299.05 358.52,302.76 358.62,306.11 358.72,308.76 358.81,310.47 358.91,311.05 359.01,310.46 359.11,308.76 359.21,306.10 359.30,302.76 359.40,299.05 359.50,295.34 359.60,292.00 359.69,289.35 359.79,287.65 359.89,287.06 359.99,287.65 360.08,289.35 360.18,292.00 360.28,295.35 360.38,299.05 360.47,302.75 360.57,306.09 360.67,308.74 360.76,310.44 360.86,311.03 360.96,310.44 361.06,308.74 361.15,306.09 361.25,302.75 361.35,299.05 361.45,295.35 361.54,292.02 361.64,289.37 361.74,287.67 361.84,287.09 361.94,287.67 362.03,289.37 362.13,292.02 362.23,295.35 362.32,299.05 362.42,302.75 362.52,306.08 362.62,308.72 362.72,310.42 362.81,311.00 362.91,310.42 363.01,308.72 363.11,306.07 363.20,302.74 363.30,299.05 363.40,295.36 363.50,292.03 363.59,289.39 363.69,287.69 363.79,287.11 363.88,287.69 363.98,289.39 364.08,292.03 364.18,295.36 364.27,299.05 364.37,302.74 364.47,306.06 364.57,308.70 364.66,310.40 364.76,310.98 364.86,310.40 364.96,308.70 365.06,306.06 365.15,302.74 365.25,299.05 365.35,295.37 365.44,292.04 365.54,289.40 365.64,287.71 365.74,287.13 365.84,287.71 365.93,289.41 366.03,292.04 366.13,295.37 366.23,299.05 366.32,302.73 366.42,306.05 366.52,308.69 366.62,310.38 366.71,310.96 366.81,310.38 366.91,308.68 367.00,306.05 367.10,302.73 367.20,299.05 367.30,295.37 367.39,292.05 367.49,289.42 367.59,287.73 367.69,287.15 367.78,287.73 367.88,289.42 367.98,292.06 368.08,295.37 368.18,299.05 368.27,302.73 368.37,306.04 368.47,308.67 368.56,310.36 368.66,310.94 368.76,310.36 368.86,308.67 368.96,306.04 369.05,302.72 369.15,299.05 369.25,295.38 369.35,292.06 369.44,289.43 369.54,287.74 369.64,287.16 369.74,287.75 369.83,289.44 369.93,292.06 370.03,295.38 370.12,299.05 370.22,302.72 370.32,306.03 370.42,308.66 370.51,310.35 370.61,310.93 370.71,310.35 370.81,308.66 370.90,306.03 371.00,302.72 371.10,299.05 371.20,295.38 371.29,292.07 371.39,289.44 371.49,287.76 371.59,287.18 371.69,287.76 371.78,289.45 371.88,292.07 371.98,295.38 372.07,299.05 372.17,302.72 372.27,306.03 372.37,308.65 372.47,310.34 372.56,310.92 372.66,310.34 372.76,308.65 372.86,306.02 372.95,302.72 373.05,299.05 373.15,295.38 373.25,292.08 373.34,289.45 373.44,287.77 373.54,287.19 373.63,287.77 373.73,289.45 373.83,292.08 373.93,295.38 374.02,299.05 374.12,302.71 374.22,306.02 374.32,308.64 374.41,310.33 374.51,310.91 374.61,310.33 374.71,308.64 374.81,306.02 374.90,302.71 375.00,299.05 375.10,295.39 375.19,292.08 375.29,289.46 375.39,287.78 375.49,287.20 375.59,287.78 375.68,289.46 375.78,292.08 375.88,295.39 375.98,299.05 376.07,302.71 376.17,306.02 376.27,308.64 376.37,310.32 376.46,310.90 376.56,310.32 376.66,308.64 376.75,306.02 376.85,302.71 376.95,299.05 377.05,295.39 377.14,292.08 377.24,289.46 377.34,287.78 377.44,287.20 377.53,287.78 377.63,289.46 377.73,292.09 377.83,295.39 377.93,299.05 378.02,302.71 378.12,306.01 378.22,308.64 378.31,310.32 378.41,310.90 378.51,310.32 378.61,308.64 378.71,306.01 378.80,302.71 378.90,299.05 379.00,295.39 379.10,292.09 379.19,289.46 379.29,287.78 379.39,287.20 379.49,287.78 379.58,289.46 379.68,292.09 379.78,295.39 379.88,299.05 379.97,302.71 380.07,306.01 380.17,308.64 380.26,310.32 380.36,310.90 380.46,310.32 380.56,308.64 380.65,306.01 380.75,302.71 380.85,299.05 380.95,295.39 381.04,292.09 381.14,289.46 381.24,287.78 381.34,287.20 381.44,287.78 381.53,289.46 381.63,292.08 381.73,295.39 381.82,299.05 381.92,302.71 382.02,306.02 382.12,308.64 382.22,310.32 382.31,310.90 382.41,310.32 382.51,308.64 382.61,306.02 382.70,302.71 382.80,299.05 382.90,295.39 383.00,292.08 383.09,289.46 383.19,287.78 383.29,287.20 383.38,287.78 383.48,289.46 383.58,292.08 383.68,295.39 383.77,299.05 383.87,302.71 383.97,306.02 384.07,308.64 384.16,310.33 384.26,310.91 384.36,310.33 384.46,308.64 384.56,306.02 384.65,302.71 384.75,299.05 384.85,295.39 384.94,292.08 385.04,289.46 385.14,287.77 385.24,287.19 385.34,287.77 385.43,289.45 385.53,292.08 385.63,295.38 385.73,299.05 385.82,302.72 385.92,306.02 386.02,308.65 386.12,310.33 386.21,310.91 386.31,310.33 386.41,308.65 386.50,306.02 386.60,302.72 386.70,299.05 386.80,295.38 386.89,292.07 386.99,289.45 387.09,287.76 387.19,287.18 387.28,287.76 387.38,289.45 387.48,292.07 387.58,295.38 387.68,299.05 387.77,302.72 387.87,306.03 387.97,308.66 388.06,310.34 388.16,310.93 388.26,310.35 388.36,308.66 388.46,306.03 388.55,302.72 388.65,299.05 388.75,295.38 388.85,292.07 388.94,289.44 389.04,287.75 389.14,287.17 389.24,287.75 389.33,289.44 389.43,292.06 389.53,295.38 389.62,299.05 389.72,302.72 389.82,306.04 389.92,308.67 390.01,310.36 390.11,310.94 390.21,310.36 390.31,308.67 390.40,306.04 390.50,302.73 390.60,299.05 390.70,295.37 390.79,292.06 390.89,289.43 390.99,287.73 391.09,287.15 391.19,287.73 391.28,289.42 391.38,292.05 391.48,295.37 391.57,299.05 391.67,302.73 391.77,306.05 391.87,308.68 391.97,310.37 392.06,310.96 392.16,310.38 392.26,308.68 392.36,306.05 392.45,302.73 392.55,299.05 392.65,295.37 392.75,292.05 392.84,289.41 392.94,287.72 393.04,287.13 393.13,287.72 393.23,289.41 393.33,292.04 393.43,295.37 393.52,299.05 393.62,302.73 393.72,306.06 393.82,308.70 393.91,310.39 394.01,310.98 394.11,310.39 394.21,308.70 394.31,306.06 394.40,302.74 394.50,299.05 394.60,295.36 394.69,292.04 394.79,289.39 394.89,287.70 394.99,287.11 395.09,287.70 395.18,289.39 395.28,292.03 395.38,295.36 395.48,299.05 395.57,302.74 395.67,306.07 395.77,308.71 395.87,310.41 395.96,311.00 396.06,310.41 396.16,308.72 396.25,306.07 396.35,302.74 396.45,299.05 396.55,295.36 396.64,292.02 396.74,289.38 396.84,287.68 396.94,287.09 397.03,287.67 397.13,289.37 397.23,292.02 397.33,295.35 397.43,299.05 397.52,302.75 397.62,306.08 397.72,308.73 397.81,310.43 397.91,311.02 398.01,310.44 398.11,308.74 398.21,306.09 398.30,302.75 398.40,299.05 398.50,295.35 398.60,292.01 398.69,289.36 398.79,287.65 398.89,287.07 398.99,287.65 399.08,289.35 399.18,292.00 399.28,295.35 399.38,299.05 399.47,302.76 399.57,306.10 399.67,308.75 399.76,310.46 399.86,311.05 399.96,310.46 400.06,308.76 400.15,306.10 400.25,302.76 400.35,299.05 400.45,295.34 400.54,291.99 400.64,289.34 400.74,287.63 400.84,287.04 400.94,287.63 401.03,289.33 401.13,291.99 401.23,295.34 401.32,299.05 401.42,302.76 401.52,306.12 401.62,308.78 401.72,310.48 401.81,311.07 401.91,310.49 402.01,308.78 402.11,306.12 402.20,302.77 402.30,299.05 402.40,295.33 402.50,291.98 402.59,289.31 402.69,287.60 402.79,287.01 402.88,287.60 402.98,289.31 403.08,291.97 403.18,295.33 403.27,299.05 403.37,302.77 403.47,306.13 403.57,308.80 403.66,310.51 403.76,311.10 403.86,310.51 403.96,308.80 404.06,306.14 404.15,302.78 404.25,299.05 404.35,295.32 404.44,291.96 404.54,289.29 404.64,287.57 404.74,286.98 404.84,287.57 404.93,289.28 405.03,291.95 405.13,295.32 405.23,299.05 405.32,302.78 405.42,306.15 405.52,308.82 405.62,310.54 405.71,311.13 405.81,310.54 405.91,308.83 406.00,306.16 406.10,302.79 406.20,299.05 406.30,295.31 406.39,291.94 406.49,289.26 406.59,287.54 406.69,286.95 406.78,287.54 406.88,289.26 406.98,291.94 407.08,295.31 407.18,299.05 407.27,302.79 407.37,306.17 407.47,308.85 407.56,310.57 407.66,311.16 407.76,310.57 407.86,308.85 407.96,306.17 408.05,302.80 408.15,299.05 408.25,295.30 408.35,291.92 408.44,289.24 408.54,287.51 408.64,286.92 408.74,287.51 408.83,289.23 408.93,291.92 409.03,295.30 409.12,299.05 409.22,302.80 409.32,306.19 409.42,308.87 409.51,310.60 409.61,311.20 409.71,310.60 409.81,308.88 409.90,306.19 410.00,302.81 410.10,299.05 410.20,295.29 410.29,291.90 410.39,289.21 410.49,287.48 410.59,286.89 410.69,287.48 410.78,289.21 410.88,291.90 410.98,295.29 411.07,299.05 411.17,302.81 411.27,306.21 411.37,308.90 411.47,310.63 411.56,311.23 411.66,310.63 411.76,308.91 411.86,306.21 411.95,302.82 412.05,299.05 412.15,295.28 412.25,291.88 412.34,289.19 412.44,287.45 412.54,286.85 412.63,287.45 412.73,289.18 412.83,291.88 412.93,295.28 413.02,299.05 413.12,302.82 413.22,306.23 413.32,308.93 413.41,310.66 413.51,311.26 413.61,310.67 413.71,308.93 413.81,306.23 413.90,302.83 414.00,299.05 414.10,295.27 414.19,291.86 414.29,289.16 414.39,287.42 414.49,286.82 414.59,287.42 414.68,289.15 414.78,291.86 414.88,295.27 414.98,299.05 415.07,302.83 415.17,306.24 415.27,308.95 415.37,310.69 415.46,311.30 415.56,310.70 415.66,308.96 415.75,306.25 415.85,302.84 415.95,299.05 416.05,295.26 416.14,291.85 416.24,289.13 416.34,287.39 416.44,286.79 416.53,287.39 416.63,289.13 416.73,291.84 416.83,295.26 416.93,299.05 417.02,302.84 417.12,306.26 417.22,308.98 417.31,310.73 417.41,311.33 417.51,310.73 417.61,308.99 417.71,306.27 417.80,302.85 417.90,299.05 418.00,295.25 418.10,291.83 418.19,289.11 418.29,287.36 418.39,286.76 418.49,287.36 418.58,289.10 418.68,291.82 418.78,295.25 418.88,299.05 418.97,302.85 419.07,306.28 419.17,309.01 419.26,310.76 419.36,311.36 419.46,310.76 419.56,309.01 419.65,306.29 419.75,302.86 419.85,299.05 419.95,295.24 420.04,291.81 420.14,289.08 420.24,287.33 420.34,286.72 420.44,287.33 420.53,289.08 420.63,291.80 420.73,295.24 420.82,299.05 420.92,302.86 421.02,306.30 421.12,309.03 421.22,310.79 421.31,311.39 421.41,310.79 421.51,309.04 421.61,306.31 421.70,302.87 421.80,299.05 421.90,295.23 422.00,291.79 422.09,289.06 422.19,287.30 422.29,286.69 422.38,287.30 422.48,289.05 422.58,291.78 422.68,295.23 422.77,299.05 422.87,302.87 422.97,306.32 423.07,309.06 423.16,310.82 423.26,311.42 423.36,310.82 423.46,309.06 423.56,306.32 423.65,302.87 423.75,299.05 423.85,295.22 423.94,291.77 424.04,289.03 424.14,287.27 424.24,286.66 424.34,287.27 424.43,289.03 424.53,291.77 424.63,295.22 424.73,299.05 424.82,302.88 424.92,306.34 425.02,309.08 425.12,310.84 425.21,311.45 425.31,310.85 425.41,309.08 425.50,306.34 425.60,302.88 425.70,299.05 425.80,295.22 425.89,291.76 425.99,289.01 426.09,287.24 426.19,286.63 426.28,287.24 426.38,289.00 426.48,291.75 426.58,295.21 426.68,299.05 426.77,302.89 426.87,306.35 426.97,309.10 427.06,310.87 427.16,311.48 427.26,310.87 427.36,309.11 427.46,306.36 427.55,302.89 427.65,299.05 427.75,295.21 427.85,291.74 427.94,288.99 428.04,287.22 428.14,286.61 428.24,287.22 428.33,288.98 428.43,291.73 428.53,295.20 428.62,299.05 428.72,302.90 428.82,306.37 428.92,309.12 429.01,310.89 429.11,311.50 429.21,310.90 429.31,309.13 429.40,306.37 429.50,302.90 429.60,299.05 429.70,295.20 429.79,291.72 429.89,288.97 429.99,287.19 430.09,286.58 430.19,287.19 430.28,288.96 430.38,291.72 430.48,295.20 430.57,299.05 430.67,302.90 430.77,306.38 430.87,309.14 430.97,310.92 431.06,311.53 431.16,310.92 431.26,309.15 431.36,306.39 431.45,302.91 431.55,299.05 431.65,295.19 431.75,291.71 431.84,288.95 431.94,287.17 432.04,286.56 432.13,287.17 432.23,288.94 432.33,291.71 432.43,295.19 432.52,299.05 432.62,302.91 432.72,306.40 432.82,309.16 432.91,310.94 433.01,311.55 433.11,310.94 433.21,309.16 433.31,306.40 433.40,302.91 433.50,299.05" fill="none" stroke="#0a6cb5" stroke-width="1.15" stroke-linejoin="round"/>
</g>
<path d="M196.80 71.50h-2.5M196.80 46.50h-2.5M196.80 21.50h-2.5" stroke="#d11f43" stroke-width="1"/>
<path d="M433.50 71.50h-2.5M433.50 46.50h-2.5M433.50 21.50h-2.5" stroke="#d11f43" stroke-width="1"/>
<path d="M53.00 71.50v-2.50M53.00 21.50v2.50M100.93 71.50v-2.50M100.93 21.50v2.50M148.87 71.50v-2.50M148.87 21.50v2.50M196.80 71.50v-2.50M196.80 21.50v2.50M53.00 71.50h2.50M196.80 71.50h-2.50M53.00 46.50h2.50M196.80 46.50h-2.50M53.00 21.50h2.50M196.80 21.50h-2.50" stroke="#231815" stroke-width="1" fill="none"/>
<rect x="53.00" y="21.50" width="143.80" height="50.00" stroke="#231815" stroke-width="1" fill="none"/>
<path d="M277.50 71.50v-2.50M277.50 21.50v2.50M329.50 71.50v-2.50M329.50 21.50v2.50M381.50 71.50v-2.50M381.50 21.50v2.50M433.50 71.50v-2.50M433.50 21.50v2.50M277.50 71.50h2.50M433.50 71.50h-2.50M277.50 40.25h2.50M433.50 40.25h-2.50" stroke="#231815" stroke-width="1" fill="none"/>
<rect x="277.50" y="21.50" width="156.00" height="50.00" stroke="#231815" stroke-width="1" fill="none"/>
<path d="M53.00 155.50v-2.50M53.00 107.40v2.50M100.93 155.50v-2.50M100.93 107.40v2.50M148.87 155.50v-2.50M148.87 107.40v2.50M196.80 155.50v-2.50M196.80 107.40v2.50M53.00 155.50h2.50M196.80 155.50h-2.50M53.00 131.45h2.50M196.80 131.45h-2.50M53.00 107.40h2.50M196.80 107.40h-2.50" stroke="#231815" stroke-width="1" fill="none"/>
<rect x="53.00" y="107.40" width="143.80" height="48.10" stroke="#231815" stroke-width="1" fill="none"/>
<path d="M277.50 155.50v-2.50M277.50 105.50v2.50M329.50 155.50v-2.50M329.50 105.50v2.50M381.50 155.50v-2.50M381.50 105.50v2.50M433.50 155.50v-2.50M433.50 105.50v2.50M277.50 155.50h2.50M433.50 155.50h-2.50M277.50 135.50h2.50M433.50 135.50h-2.50M277.50 115.50h2.50M433.50 115.50h-2.50" stroke="#231815" stroke-width="1" fill="none"/>
<rect x="277.50" y="105.50" width="156.00" height="50.00" stroke="#231815" stroke-width="1" fill="none"/>
<path d="M53.00 238.90v-2.50M53.00 191.40v2.50M88.95 238.90v-2.50M88.95 191.40v2.50M124.90 238.90v-2.50M124.90 191.40v2.50M160.85 238.90v-2.50M160.85 191.40v2.50M196.80 238.90v-2.50M196.80 191.40v2.50M53.00 238.90h2.50M196.80 238.90h-2.50M53.00 215.15h2.50M196.80 215.15h-2.50M53.00 191.40h2.50M196.80 191.40h-2.50" stroke="#231815" stroke-width="1" fill="none"/>
<rect x="53.00" y="191.40" width="143.80" height="47.50" stroke="#231815" stroke-width="1" fill="none"/>
<path d="M277.50 239.00v-2.50M277.50 189.30v2.50M316.50 239.00v-2.50M316.50 189.30v2.50M355.50 239.00v-2.50M355.50 189.30v2.50M394.50 239.00v-2.50M394.50 189.30v2.50M433.50 239.00v-2.50M433.50 189.30v2.50M277.50 230.72h2.50M433.50 230.72h-2.50M277.50 214.15h2.50M433.50 214.15h-2.50M277.50 197.58h2.50M433.50 197.58h-2.50" stroke="#231815" stroke-width="1" fill="none"/>
<rect x="277.50" y="189.30" width="156.00" height="49.70" stroke="#231815" stroke-width="1" fill="none"/>
<path d="M53.00 322.90v-2.50M53.00 275.30v2.50M88.95 322.90v-2.50M88.95 275.30v2.50M124.90 322.90v-2.50M124.90 275.30v2.50M160.85 322.90v-2.50M160.85 275.30v2.50M196.80 322.90v-2.50M196.80 275.30v2.50M53.00 322.90h2.50M196.80 322.90h-2.50M53.00 299.10h2.50M196.80 299.10h-2.50M53.00 275.30h2.50M196.80 275.30h-2.50" stroke="#231815" stroke-width="1" fill="none"/>
<rect x="53.00" y="275.30" width="143.80" height="47.60" stroke="#231815" stroke-width="1" fill="none"/>
<path d="M277.50 323.00v-2.50M277.50 275.10v2.50M316.50 323.00v-2.50M316.50 275.10v2.50M355.50 323.00v-2.50M355.50 275.10v2.50M394.50 323.00v-2.50M394.50 275.10v2.50M433.50 323.00v-2.50M433.50 275.10v2.50M277.50 323.00h2.50M433.50 323.00h-2.50M277.50 299.05h2.50M433.50 299.05h-2.50M277.50 275.10h2.50M433.50 275.10h-2.50" stroke="#231815" stroke-width="1" fill="none"/>
<rect x="277.50" y="275.10" width="156.00" height="47.90" stroke="#231815" stroke-width="1" fill="none"/>
<rect x="145.50" y="25.00" width="49.10" height="13.90" fill="#fff" stroke="#231815" stroke-width="1"/>
<text x="170.45" y="38.00" font-size="16.3" text-anchor="middle" fill="#231815" font-weight="normal">0.1 Hz</text>
<rect x="145.40" y="109.20" width="49.30" height="14.60" fill="#fff" stroke="#231815" stroke-width="1"/>
<text x="170.45" y="122.90" font-size="16.3" text-anchor="middle" fill="#231815" font-weight="normal">1 Hz</text>
<rect x="145.40" y="193.30" width="49.60" height="14.90" fill="#fff" stroke="#231815" stroke-width="1"/>
<text x="170.60" y="206.50" font-size="16.3" text-anchor="middle" fill="#231815" font-weight="normal">8 Hz</text>
<rect x="146.30" y="276.80" width="49.30" height="14.80" fill="#fff" stroke="#231815" stroke-width="1"/>
<text x="171.35" y="290.30" font-size="16.3" text-anchor="middle" fill="#231815" font-weight="normal">10 Hz</text>
<rect x="382.40" y="24.60" width="49.40" height="14.60" fill="#fff" stroke="#231815" stroke-width="1"/>
<text x="407.50" y="38.10" font-size="16.3" text-anchor="middle" fill="#231815" font-weight="normal">0.1 Hz</text>
<rect x="382.10" y="108.30" width="49.40" height="14.70" fill="#fff" stroke="#231815" stroke-width="1"/>
<text x="407.20" y="121.60" font-size="16.3" text-anchor="middle" fill="#231815" font-weight="normal">1 Hz</text>
<rect x="382.10" y="191.50" width="49.60" height="14.50" fill="#fff" stroke="#231815" stroke-width="1"/>
<text x="407.30" y="204.30" font-size="16.3" text-anchor="middle" fill="#231815" font-weight="normal">8 Hz</text>
<rect x="382.60" y="277.30" width="49.80" height="13.90" fill="#fff" stroke="#231815" stroke-width="1"/>
<text x="407.90" y="290.30" font-size="16.3" text-anchor="middle" fill="#231815" font-weight="normal">10 Hz</text>
<text x="48.00" y="78.70" font-size="16" text-anchor="end" fill="#231815" font-weight="normal">0</text>
<text x="46.70" y="53.70" font-size="16" text-anchor="end" fill="#231815" font-weight="normal">1</text>
<text x="48.00" y="28.70" font-size="16" text-anchor="end" fill="#231815" font-weight="normal">2</text>
<text x="53.00" y="93.50" font-size="16" text-anchor="middle" fill="#231815" font-weight="normal">0</text>
<text x="100.93" y="93.50" font-size="16" text-anchor="middle" fill="#231815" font-weight="normal">10</text>
<text x="148.87" y="93.50" font-size="16" text-anchor="middle" fill="#231815" font-weight="normal">20</text>
<text x="196.80" y="93.50" font-size="16" text-anchor="middle" fill="#231815" font-weight="normal">30</text>
<text x="48.00" y="162.70" font-size="16" text-anchor="end" fill="#231815" font-weight="normal">0</text>
<text x="48.00" y="138.65" font-size="16" text-anchor="end" fill="#231815" font-weight="normal">0.5</text>
<text x="46.70" y="114.60" font-size="16" text-anchor="end" fill="#231815" font-weight="normal">1</text>
<text x="53.00" y="177.50" font-size="16" text-anchor="middle" fill="#231815" font-weight="normal">0</text>
<text x="100.93" y="177.50" font-size="16" text-anchor="middle" fill="#231815" font-weight="normal">10</text>
<text x="148.87" y="177.50" font-size="16" text-anchor="middle" fill="#231815" font-weight="normal">20</text>
<text x="196.80" y="177.50" font-size="16" text-anchor="middle" fill="#231815" font-weight="normal">30</text>
<text x="46.70" y="246.10" font-size="16" text-anchor="end" fill="#231815" font-weight="normal">-1</text>
<text x="48.00" y="222.35" font-size="16" text-anchor="end" fill="#231815" font-weight="normal">0</text>
<text x="46.70" y="198.60" font-size="16" text-anchor="end" fill="#231815" font-weight="normal">1</text>
<text x="53.00" y="260.90" font-size="16" text-anchor="middle" fill="#231815" font-weight="normal">0</text>
<text x="88.95" y="260.90" font-size="16" text-anchor="middle" fill="#231815" font-weight="normal">2</text>
<text x="124.90" y="260.90" font-size="16" text-anchor="middle" fill="#231815" font-weight="normal">4</text>
<text x="160.85" y="260.90" font-size="16" text-anchor="middle" fill="#231815" font-weight="normal">6</text>
<text x="196.80" y="260.90" font-size="16" text-anchor="middle" fill="#231815" font-weight="normal">8</text>
<text x="48.00" y="330.10" font-size="16" text-anchor="end" fill="#231815" font-weight="normal">-0.5</text>
<text x="48.00" y="306.30" font-size="16" text-anchor="end" fill="#231815" font-weight="normal">0</text>
<text x="48.00" y="282.50" font-size="16" text-anchor="end" fill="#231815" font-weight="normal">0.5</text>
<text x="53.00" y="344.90" font-size="16" text-anchor="middle" fill="#231815" font-weight="normal">0</text>
<text x="88.95" y="344.90" font-size="16" text-anchor="middle" fill="#231815" font-weight="normal">2</text>
<text x="124.90" y="344.90" font-size="16" text-anchor="middle" fill="#231815" font-weight="normal">4</text>
<text x="160.85" y="344.90" font-size="16" text-anchor="middle" fill="#231815" font-weight="normal">6</text>
<text x="196.80" y="344.90" font-size="16" text-anchor="middle" fill="#231815" font-weight="normal">8</text>
<text x="272.50" y="78.70" font-size="16" text-anchor="end" fill="#231815" font-weight="normal">0</text>
<text x="272.50" y="47.45" font-size="16" text-anchor="end" fill="#231815" font-weight="normal">5</text>
<text x="277.50" y="93.50" font-size="16" text-anchor="middle" fill="#231815" font-weight="normal">0</text>
<text x="329.50" y="93.50" font-size="16" text-anchor="middle" fill="#231815" font-weight="normal">10</text>
<text x="381.50" y="93.50" font-size="16" text-anchor="middle" fill="#231815" font-weight="normal">20</text>
<text x="433.50" y="93.50" font-size="16" text-anchor="middle" fill="#231815" font-weight="normal">30</text>
<text x="272.50" y="162.70" font-size="16" text-anchor="end" fill="#231815" font-weight="normal">0</text>
<text x="271.20" y="142.70" font-size="16" text-anchor="end" fill="#231815" font-weight="normal">1</text>
<text x="272.50" y="122.70" font-size="16" text-anchor="end" fill="#231815" font-weight="normal">2</text>
<text x="277.50" y="177.50" font-size="16" text-anchor="middle" fill="#231815" font-weight="normal">0</text>
<text x="329.50" y="177.50" font-size="16" text-anchor="middle" fill="#231815" font-weight="normal">10</text>
<text x="381.50" y="177.50" font-size="16" text-anchor="middle" fill="#231815" font-weight="normal">20</text>
<text x="433.50" y="177.50" font-size="16" text-anchor="middle" fill="#231815" font-weight="normal">30</text>
<text x="271.20" y="237.92" font-size="16" text-anchor="end" fill="#231815" font-weight="normal">-1</text>
<text x="272.50" y="221.35" font-size="16" text-anchor="end" fill="#231815" font-weight="normal">0</text>
<text x="271.20" y="204.78" font-size="16" text-anchor="end" fill="#231815" font-weight="normal">1</text>
<text x="277.50" y="261.00" font-size="16" text-anchor="middle" fill="#231815" font-weight="normal">0</text>
<text x="316.50" y="261.00" font-size="16" text-anchor="middle" fill="#231815" font-weight="normal">2</text>
<text x="355.50" y="261.00" font-size="16" text-anchor="middle" fill="#231815" font-weight="normal">4</text>
<text x="394.50" y="261.00" font-size="16" text-anchor="middle" fill="#231815" font-weight="normal">6</text>
<text x="433.50" y="261.00" font-size="16" text-anchor="middle" fill="#231815" font-weight="normal">8</text>
<text x="272.50" y="330.20" font-size="16" text-anchor="end" fill="#231815" font-weight="normal">-2</text>
<text x="272.50" y="306.25" font-size="16" text-anchor="end" fill="#231815" font-weight="normal">0</text>
<text x="272.50" y="282.30" font-size="16" text-anchor="end" fill="#231815" font-weight="normal">2</text>
<text x="277.50" y="345.00" font-size="16" text-anchor="middle" fill="#231815" font-weight="normal">0</text>
<text x="316.50" y="345.00" font-size="16" text-anchor="middle" fill="#231815" font-weight="normal">2</text>
<text x="355.50" y="345.00" font-size="16" text-anchor="middle" fill="#231815" font-weight="normal">4</text>
<text x="394.50" y="345.00" font-size="16" text-anchor="middle" fill="#231815" font-weight="normal">6</text>
<text x="433.50" y="345.00" font-size="16" text-anchor="middle" fill="#231815" font-weight="normal">8</text>
<text x="206.60" y="78.80" font-size="16" text-anchor="middle" fill="#d11f43" font-weight="normal">0</text>
<text x="206.60" y="53.80" font-size="16" text-anchor="middle" fill="#d11f43" font-weight="normal">5</text>
<text x="206.60" y="28.80" font-size="16" text-anchor="middle" fill="#d11f43" font-weight="normal">10</text>
<text x="443.00" y="78.80" font-size="16" text-anchor="middle" fill="#d11f43" font-weight="normal">0</text>
<text x="443.00" y="53.80" font-size="16" text-anchor="middle" fill="#d11f43" font-weight="normal">5</text>
<text x="443.00" y="28.80" font-size="16" text-anchor="middle" fill="#d11f43" font-weight="normal">10</text>
<text x="230.90" y="46.70" font-size="16.1" text-anchor="middle" fill="#d11f43" font-weight="normal" transform="rotate(-90 230.90 46.70)">Voltage (kV)</text>
<text x="467.90" y="47.20" font-size="16.1" text-anchor="middle" fill="#d11f43" font-weight="normal" transform="rotate(-90 467.90 47.20)">Voltage (kV)</text>
<text x="13.30" y="174.50" font-size="16.4" text-anchor="middle" fill="#231815" font-weight="normal" transform="rotate(-90 13.30 174.50)">Longitudinal displacement (mm)</text>
<text x="250.50" y="174.85" font-size="16.4" text-anchor="middle" fill="#231815" font-weight="normal" transform="rotate(-90 250.50 174.85)">Lateral displacement (mm)</text>
<text x="124.50" y="366.50" font-size="16.2" text-anchor="middle" fill="#231815" font-weight="normal">Time (s)</text>
<text x="355.50" y="366.50" font-size="16.2" text-anchor="middle" fill="#231815" font-weight="normal">Time (s)</text>
<rect x="558.50" y="22.50" width="122.00" height="116.50" fill="#fff"/>
<rect x="546.50" y="201.50" width="134.00" height="120.00" fill="#fff"/>
<line x1="609.33" y1="22.50" x2="609.33" y2="139.00" stroke="#e3e3e3" stroke-width="1"/>
<line x1="660.17" y1="22.50" x2="660.17" y2="139.00" stroke="#e3e3e3" stroke-width="1"/>
<line x1="558.50" y1="100.17" x2="680.50" y2="100.17" stroke="#e3e3e3" stroke-width="1"/>
<line x1="558.50" y1="61.33" x2="680.50" y2="61.33" stroke="#e3e3e3" stroke-width="1"/>
<line x1="602.33" y1="201.50" x2="602.33" y2="321.50" stroke="#e3e3e3" stroke-width="1"/>
<line x1="658.17" y1="201.50" x2="658.17" y2="321.50" stroke="#e3e3e3" stroke-width="1"/>
<line x1="546.50" y1="281.50" x2="680.50" y2="281.50" stroke="#e3e3e3" stroke-width="1"/>
<line x1="546.50" y1="241.50" x2="680.50" y2="241.50" stroke="#e3e3e3" stroke-width="1"/>
<polyline points="559.52,22.50 563.58,84.63 568.67,84.63 589.00,92.40 609.33,100.17 639.83,69.10 660.17,100.17 680.50,123.47" fill="none" stroke="#0a6cb5" stroke-width="1.3" stroke-linejoin="round"/>
<circle cx="559.52" cy="22.50" r="2.6" fill="#0a6cb5"/>
<circle cx="563.58" cy="84.63" r="2.6" fill="#0a6cb5"/>
<circle cx="568.67" cy="84.63" r="2.6" fill="#0a6cb5"/>
<circle cx="589.00" cy="92.40" r="2.6" fill="#0a6cb5"/>
<circle cx="609.33" cy="100.17" r="2.6" fill="#0a6cb5"/>
<circle cx="639.83" cy="69.10" r="2.6" fill="#0a6cb5"/>
<circle cx="660.17" cy="100.17" r="2.6" fill="#0a6cb5"/>
<circle cx="680.50" cy="123.47" r="2.6" fill="#0a6cb5"/>
<polyline points="547.62,209.50 552.08,263.50 557.67,289.50 580.00,297.50 602.33,301.50 635.83,293.50 658.17,281.50 680.50,303.50" fill="none" stroke="#0a6cb5" stroke-width="1.3" stroke-linejoin="round"/>
<circle cx="547.62" cy="209.50" r="2.6" fill="#0a6cb5"/>
<circle cx="552.08" cy="263.50" r="2.6" fill="#0a6cb5"/>
<circle cx="557.67" cy="289.50" r="2.6" fill="#0a6cb5"/>
<circle cx="580.00" cy="297.50" r="2.6" fill="#0a6cb5"/>
<circle cx="602.33" cy="301.50" r="2.6" fill="#0a6cb5"/>
<circle cx="635.83" cy="293.50" r="2.6" fill="#0a6cb5"/>
<circle cx="658.17" cy="281.50" r="2.6" fill="#0a6cb5"/>
<circle cx="680.50" cy="303.50" r="2.6" fill="#0a6cb5"/>
<path d="M558.50 139.00v-2.50M558.50 22.50v2.50M609.33 139.00v-2.50M609.33 22.50v2.50M660.17 139.00v-2.50M660.17 22.50v2.50M558.50 139.00h2.50M680.50 139.00h-2.50M558.50 100.17h2.50M680.50 100.17h-2.50M558.50 61.33h2.50M680.50 61.33h-2.50M558.50 22.50h2.50M680.50 22.50h-2.50" stroke="#231815" stroke-width="1" fill="none"/>
<rect x="558.50" y="22.50" width="122.00" height="116.50" stroke="#231815" stroke-width="1" fill="none"/>
<path d="M546.50 321.50v-2.50M546.50 201.50v2.50M602.33 321.50v-2.50M602.33 201.50v2.50M658.17 321.50v-2.50M658.17 201.50v2.50M546.50 321.50h2.50M680.50 321.50h-2.50M546.50 281.50h2.50M680.50 281.50h-2.50M546.50 241.50h2.50M680.50 241.50h-2.50M546.50 201.50h2.50M680.50 201.50h-2.50" stroke="#231815" stroke-width="1" fill="none"/>
<rect x="546.50" y="201.50" width="134.00" height="120.00" stroke="#231815" stroke-width="1" fill="none"/>
<text x="553.50" y="146.20" font-size="16" text-anchor="end" fill="#231815" font-weight="normal">0</text>
<text x="553.50" y="107.37" font-size="16" text-anchor="end" fill="#231815" font-weight="normal">0.5</text>
<text x="552.20" y="68.53" font-size="16" text-anchor="end" fill="#231815" font-weight="normal">1</text>
<text x="553.50" y="29.70" font-size="16" text-anchor="end" fill="#231815" font-weight="normal">1.5</text>
<text x="558.50" y="161.00" font-size="16" text-anchor="middle" fill="#231815" font-weight="normal">0</text>
<text x="609.33" y="161.00" font-size="16" text-anchor="middle" fill="#231815" font-weight="normal">5</text>
<text x="660.17" y="161.00" font-size="16" text-anchor="middle" fill="#231815" font-weight="normal">10</text>
<text x="541.50" y="328.70" font-size="16" text-anchor="end" fill="#231815" font-weight="normal">0</text>
<text x="541.50" y="288.70" font-size="16" text-anchor="end" fill="#231815" font-weight="normal">2</text>
<text x="541.50" y="248.70" font-size="16" text-anchor="end" fill="#231815" font-weight="normal">4</text>
<text x="541.50" y="208.70" font-size="16" text-anchor="end" fill="#231815" font-weight="normal">6</text>
<text x="546.50" y="343.50" font-size="16" text-anchor="middle" fill="#231815" font-weight="normal">0</text>
<text x="602.33" y="343.50" font-size="16" text-anchor="middle" fill="#231815" font-weight="normal">5</text>
<text x="658.17" y="343.50" font-size="16" text-anchor="middle" fill="#231815" font-weight="normal">10</text>
<text x="500.90" y="81.10" font-size="16.6" text-anchor="middle" fill="#231815" font-weight="normal" transform="rotate(-90 500.90 81.10)">Longitudinal</text>
<text x="524.20" y="81.70" font-size="16.6" text-anchor="middle" fill="#231815" font-weight="normal" transform="rotate(-90 524.20 81.70)">amplitude (mm)</text>
<text x="500.20" y="262.70" font-size="16.6" text-anchor="middle" fill="#231815" font-weight="normal" transform="rotate(-90 500.20 262.70)">Lateral</text>
<text x="523.90" y="262.70" font-size="16.6" text-anchor="middle" fill="#231815" font-weight="normal" transform="rotate(-90 523.90 262.70)">amplitude (mm)</text>
<text x="619.00" y="183.30" font-size="16.6" text-anchor="middle" fill="#231815" font-weight="normal">Frequency (Hz)</text>
<text x="618.00" y="366.00" font-size="16.6" text-anchor="middle" fill="#231815" font-weight="normal">Frequency (Hz)</text>
<rect x="77.50" y="417.50" width="41.00" height="113.00" fill="#fff"/>
<rect x="166.50" y="417.50" width="42.00" height="113.00" fill="#fff"/>
<rect x="293.50" y="417.50" width="52.00" height="113.00" fill="#fff"/>
<rect x="393.50" y="417.50" width="51.00" height="113.00" fill="#fff"/>
<line x1="111.67" y1="417.50" x2="111.67" y2="530.50" stroke="#e3e3e3" stroke-width="1"/>
<line x1="77.50" y1="474.00" x2="118.50" y2="474.00" stroke="#e3e3e3" stroke-width="1"/>
<line x1="201.50" y1="417.50" x2="201.50" y2="530.50" stroke="#e3e3e3" stroke-width="1"/>
<line x1="166.50" y1="498.21" x2="208.50" y2="498.21" stroke="#e3e3e3" stroke-width="1"/>
<line x1="166.50" y1="465.93" x2="208.50" y2="465.93" stroke="#e3e3e3" stroke-width="1"/>
<line x1="166.50" y1="433.64" x2="208.50" y2="433.64" stroke="#e3e3e3" stroke-width="1"/>
<line x1="336.83" y1="417.50" x2="336.83" y2="530.50" stroke="#e3e3e3" stroke-width="1"/>
<line x1="293.50" y1="511.67" x2="345.50" y2="511.67" stroke="#e3e3e3" stroke-width="1"/>
<line x1="293.50" y1="474.00" x2="345.50" y2="474.00" stroke="#e3e3e3" stroke-width="1"/>
<line x1="293.50" y1="436.33" x2="345.50" y2="436.33" stroke="#e3e3e3" stroke-width="1"/>
<line x1="436.00" y1="417.50" x2="436.00" y2="530.50" stroke="#e3e3e3" stroke-width="1"/>
<line x1="393.50" y1="511.67" x2="444.50" y2="511.67" stroke="#e3e3e3" stroke-width="1"/>
<line x1="393.50" y1="474.00" x2="444.50" y2="474.00" stroke="#e3e3e3" stroke-width="1"/>
<line x1="393.50" y1="436.33" x2="444.50" y2="436.33" stroke="#e3e3e3" stroke-width="1"/>
<polyline points="77.50,519.20 77.83,518.21 78.17,517.24 78.50,516.27 78.84,515.31 79.17,514.35 79.51,513.39 79.84,512.43 80.18,511.48 80.51,510.52 80.85,509.55 81.18,508.58 81.52,507.61 81.85,506.62 82.19,505.62 82.52,504.61 82.86,503.59 83.19,502.55 83.53,501.49 83.86,500.41 84.20,499.31 84.53,498.19 84.87,497.05 85.20,495.88 85.54,494.69 85.87,493.49 86.21,492.28 86.54,491.05 86.88,489.81 87.21,488.56 87.55,487.31 87.88,486.05 88.21,484.79 88.55,483.53 88.88,482.27 89.22,481.01 89.55,479.74 89.89,478.46 90.22,477.17 90.56,475.86 90.89,474.54 91.23,473.21 91.56,471.85 91.90,470.48 92.23,469.09 92.57,467.69 92.90,466.28 93.24,464.88 93.57,463.48 93.91,462.09 94.24,460.70 94.58,459.34 94.91,457.96 95.25,456.56 95.58,455.15 95.92,453.73 96.25,452.33 96.59,450.95 96.92,449.62 97.26,448.33 97.59,447.12 97.92,445.99 98.26,444.94 98.59,443.93 98.93,442.96 99.26,442.03 99.60,441.13 99.93,440.26 100.27,439.42 100.60,438.61 100.94,437.81 101.27,437.04 101.61,436.28 101.94,435.55 102.28,434.84 102.61,434.14 102.95,433.47 103.28,432.82 103.62,432.17 103.95,431.54 104.29,430.92 104.62,430.31 104.96,429.71 105.29,429.11 105.63,428.51 105.96,427.93 106.30,427.35 106.63,426.79 106.97,426.24 107.30,425.70 107.63,425.18 107.97,424.68 108.30,424.20 108.64,423.75 108.97,423.32 109.31,422.90 109.64,422.49 109.98,422.10 110.31,421.70 110.65,421.30 110.98,420.89" fill="none" stroke="#0a6cb5" stroke-width="1.2" stroke-linejoin="round"/>
<polyline points="166.50,494.34 166.84,490.35 167.19,486.18 167.53,481.96 167.87,477.81 168.22,473.84 168.56,470.18 168.90,466.93 169.24,464.13 169.59,461.50 169.93,459.02 170.27,456.67 170.62,454.47 170.96,452.41 171.30,450.49 171.65,448.71 171.99,447.06 172.33,445.54 172.67,444.05 173.02,442.61 173.36,441.24 173.70,439.93 174.05,438.72 174.39,437.60 174.73,436.59 175.07,435.70 175.42,434.95 175.76,434.33 176.10,433.74 176.45,433.16 176.79,432.60 177.13,432.07 177.48,431.57 177.82,431.12 178.16,430.72 178.50,430.38 178.85,430.11 179.19,429.91 179.53,429.80 179.88,429.77 180.22,429.88 180.56,430.12 180.91,430.49 181.25,430.96 181.59,431.52 181.94,432.15 182.28,432.84 182.62,433.56 182.96,434.32 183.31,435.26 183.65,436.51 183.99,438.01 184.34,439.70 184.68,441.56 185.02,443.51 185.37,445.52 185.71,447.54 186.05,449.51 186.39,451.55 186.74,453.83 187.08,456.25 187.42,458.70 187.77,461.08 188.11,463.26 188.45,465.15 188.80,466.67 189.14,468.03 189.48,469.29 189.82,470.45 190.17,471.54 190.51,472.57 190.85,473.56 191.20,474.51 191.54,475.46 191.88,476.41 192.22,477.37 192.57,478.36 192.91,479.30 193.25,480.19 193.60,481.07 193.94,481.93 194.28,482.80 194.63,483.70 194.97,484.63 195.31,485.63 195.66,486.70 196.00,487.80 196.34,488.89 196.68,490.02 197.03,491.21 197.37,492.49 197.71,493.89 198.06,495.44 198.40,497.17 198.74,499.12 199.09,501.70 199.43,504.99 199.77,508.76 200.11,512.76 200.46,516.75 200.80,520.49" fill="none" stroke="#0a6cb5" stroke-width="1.2" stroke-linejoin="round"/>
<polyline points="293.50,511.29 293.93,511.08 294.36,510.89 294.79,510.70 295.22,510.52 295.65,510.35 296.08,510.17 296.52,509.99 296.95,509.80 297.38,509.60 297.81,509.38 298.24,509.15 298.67,508.89 299.10,508.61 299.53,508.30 299.96,507.95 300.39,507.53 300.82,507.05 301.25,506.51 301.68,505.91 302.11,505.27 302.55,504.58 302.98,503.85 303.41,503.08 303.84,502.27 304.27,501.44 304.70,500.58 305.13,499.69 305.56,498.79 305.99,497.88 306.42,496.95 306.85,496.02 307.28,495.03 307.71,493.95 308.14,492.80 308.58,491.59 309.01,490.32 309.44,489.01 309.87,487.65 310.30,486.26 310.73,484.84 311.16,483.41 311.59,481.97 312.02,480.53 312.45,479.09 312.88,477.67 313.31,476.28 313.74,474.91 314.18,473.58 314.61,472.23 315.04,470.85 315.47,469.45 315.90,468.03 316.33,466.60 316.76,465.19 317.19,463.78 317.62,462.40 318.05,461.05 318.48,459.75 318.91,458.49 319.34,457.30 319.77,456.18 320.21,455.14 320.64,454.15 321.07,453.18 321.50,452.23 321.93,451.30 322.36,450.40 322.79,449.52 323.22,448.66 323.65,447.83 324.08,447.03 324.51,446.25 324.94,445.51 325.37,444.79 325.81,444.11 326.24,443.45 326.67,442.83 327.10,442.25 327.53,441.69 327.96,441.15 328.39,440.63 328.82,440.12 329.25,439.62 329.68,439.15 330.11,438.69 330.54,438.25 330.97,437.84 331.40,437.44 331.84,437.07 332.27,436.72 332.70,436.40 333.13,436.11 333.56,435.84 333.99,435.61 334.42,435.39 334.85,435.20 335.28,435.01 335.71,434.83 336.14,434.65 336.57,434.45" fill="none" stroke="#0a6cb5" stroke-width="1.2" stroke-linejoin="round"/>
<polyline points="393.50,522.78 393.91,515.51 394.33,507.90 394.74,500.63 395.16,494.42 395.57,489.78 395.99,485.91 396.40,482.52 396.82,479.47 397.23,476.65 397.65,473.92 398.06,471.17 398.48,468.46 398.89,465.83 399.31,463.30 399.72,460.84 400.14,458.48 400.55,456.20 400.97,454.02 401.38,451.93 401.80,449.91 402.21,447.88 402.63,445.87 403.04,443.89 403.46,441.96 403.87,440.10 404.28,438.32 404.70,436.65 405.11,435.10 405.53,433.70 405.94,432.45 406.36,431.38 406.77,430.38 407.19,429.38 407.60,428.41 408.02,427.50 408.43,426.69 408.85,426.01 409.26,425.48 409.68,425.15 410.09,425.03 410.51,425.15 410.92,425.45 411.34,425.92 411.75,426.53 412.17,427.25 412.58,428.05 413.00,428.91 413.41,429.80 413.83,430.73 414.24,431.92 414.65,433.38 415.07,435.07 415.48,436.94 415.90,438.93 416.31,441.01 416.73,443.11 417.14,445.19 417.56,447.20 417.97,449.09 418.39,450.82 418.80,452.38 419.22,453.90 419.63,455.38 420.05,456.82 420.46,458.23 420.88,459.61 421.29,460.96 421.71,462.28 422.12,463.57 422.54,464.81 422.95,465.99 423.37,467.12 423.78,468.22 424.20,469.29 424.61,470.36 425.02,471.44 425.44,472.55 425.85,473.71 426.27,474.92 426.68,476.20 427.10,477.57 427.51,479.06 427.93,480.65 428.34,482.33 428.76,484.07 429.17,485.85 429.59,487.66 430.00,489.48 430.42,491.28 430.83,493.06 431.25,494.87 431.66,496.70 432.08,498.55 432.49,500.41 432.91,502.29 433.32,504.17 433.74,506.05 434.15,507.93 434.57,509.80 434.98,511.67" fill="none" stroke="#0a6cb5" stroke-width="1.2" stroke-linejoin="round"/>
<path d="M77.50 530.50v-2.50M77.50 417.50v2.50M111.67 530.50v-2.50M111.67 417.50v2.50M77.50 530.50h2.50M118.50 530.50h-2.50M77.50 474.00h2.50M118.50 474.00h-2.50M77.50 417.50h2.50M118.50 417.50h-2.50" stroke="#231815" stroke-width="1" fill="none"/>
<rect x="77.50" y="417.50" width="41.00" height="113.00" stroke="#231815" stroke-width="1" fill="none"/>
<path d="M166.50 530.50v-2.50M166.50 417.50v2.50M201.50 530.50v-2.50M201.50 417.50v2.50M166.50 530.50h2.50M208.50 530.50h-2.50M166.50 498.21h2.50M208.50 498.21h-2.50M166.50 465.93h2.50M208.50 465.93h-2.50M166.50 433.64h2.50M208.50 433.64h-2.50" stroke="#231815" stroke-width="1" fill="none"/>
<rect x="166.50" y="417.50" width="42.00" height="113.00" stroke="#231815" stroke-width="1" fill="none"/>
<path d="M293.50 530.50v-2.50M293.50 417.50v2.50M336.83 530.50v-2.50M336.83 417.50v2.50M293.50 511.67h2.50M345.50 511.67h-2.50M293.50 474.00h2.50M345.50 474.00h-2.50M293.50 436.33h2.50M345.50 436.33h-2.50" stroke="#231815" stroke-width="1" fill="none"/>
<rect x="293.50" y="417.50" width="52.00" height="113.00" stroke="#231815" stroke-width="1" fill="none"/>
<path d="M393.50 530.50v-2.50M393.50 417.50v2.50M436.00 530.50v-2.50M436.00 417.50v2.50M393.50 511.67h2.50M444.50 511.67h-2.50M393.50 474.00h2.50M444.50 474.00h-2.50M393.50 436.33h2.50M444.50 436.33h-2.50" stroke="#231815" stroke-width="1" fill="none"/>
<rect x="393.50" y="417.50" width="51.00" height="113.00" stroke="#231815" stroke-width="1" fill="none"/>
<text x="72.50" y="537.70" font-size="16" text-anchor="end" fill="#231815" font-weight="normal">-0.5</text>
<text x="72.50" y="481.20" font-size="16" text-anchor="end" fill="#231815" font-weight="normal">0</text>
<text x="72.50" y="424.70" font-size="16" text-anchor="end" fill="#231815" font-weight="normal">0.5</text>
<text x="77.50" y="552.50" font-size="16" text-anchor="middle" fill="#231815" font-weight="normal">0</text>
<text x="111.67" y="552.50" font-size="16" text-anchor="middle" fill="#231815" font-weight="normal">0.05</text>
<text x="97.70" y="572.30" font-size="16.6" text-anchor="middle" fill="#231815" font-weight="normal">Time (s)</text>
<text x="161.50" y="537.70" font-size="16" text-anchor="end" fill="#231815" font-weight="normal">0</text>
<text x="160.20" y="505.41" font-size="16" text-anchor="end" fill="#231815" font-weight="normal">1</text>
<text x="161.50" y="473.13" font-size="16" text-anchor="end" fill="#231815" font-weight="normal">2</text>
<text x="161.50" y="440.84" font-size="16" text-anchor="end" fill="#231815" font-weight="normal">3</text>
<text x="166.50" y="552.50" font-size="16" text-anchor="middle" fill="#231815" font-weight="normal">0</text>
<text x="201.50" y="552.50" font-size="16" text-anchor="middle" fill="#231815" font-weight="normal">0.05</text>
<text x="187.20" y="572.30" font-size="16.6" text-anchor="middle" fill="#231815" font-weight="normal">Time (s)</text>
<text x="287.20" y="518.87" font-size="16" text-anchor="end" fill="#231815" font-weight="normal">-1</text>
<text x="288.50" y="481.20" font-size="16" text-anchor="end" fill="#231815" font-weight="normal">0</text>
<text x="287.20" y="443.53" font-size="16" text-anchor="end" fill="#231815" font-weight="normal">1</text>
<text x="293.50" y="552.50" font-size="16" text-anchor="middle" fill="#231815" font-weight="normal">0</text>
<text x="336.83" y="552.50" font-size="16" text-anchor="middle" fill="#231815" font-weight="normal">0.05</text>
<text x="319.20" y="572.30" font-size="16.6" text-anchor="middle" fill="#231815" font-weight="normal">Time (s)</text>
<text x="388.50" y="518.87" font-size="16" text-anchor="end" fill="#231815" font-weight="normal">0</text>
<text x="388.50" y="481.20" font-size="16" text-anchor="end" fill="#231815" font-weight="normal">2</text>
<text x="388.50" y="443.53" font-size="16" text-anchor="end" fill="#231815" font-weight="normal">4</text>
<text x="393.50" y="552.50" font-size="16" text-anchor="middle" fill="#231815" font-weight="normal">0</text>
<text x="436.00" y="552.50" font-size="16" text-anchor="middle" fill="#231815" font-weight="normal">0.05</text>
<text x="418.70" y="572.30" font-size="16.6" text-anchor="middle" fill="#231815" font-weight="normal">Time (s)</text>
<text x="18.20" y="474.40" font-size="16.6" text-anchor="middle" fill="#231815" font-weight="normal" transform="rotate(-90 18.20 474.40)">Longitudinal</text>
<text x="40.70" y="474.45" font-size="16.6" text-anchor="middle" fill="#231815" font-weight="normal" transform="rotate(-90 40.70 474.45)">displacement (mm)</text>
<text x="247.90" y="474.60" font-size="16.6" text-anchor="middle" fill="#231815" font-weight="normal" transform="rotate(-90 247.90 474.60)">Lateral</text>
<text x="270.70" y="474.60" font-size="16.6" text-anchor="middle" fill="#231815" font-weight="normal" transform="rotate(-90 270.70 474.60)">displacement (mm)</text>
<text transform="translate(149.10 568.40) rotate(-90)" font-size="16.4" text-anchor="start" fill="#231815">Specific power (W kg<tspan dx="1.3" dy="-8">-1</tspan><tspan dx="-1.5" dy="8">)</tspan></text>
<text transform="translate(374.30 568.40) rotate(-90)" font-size="16.4" text-anchor="start" fill="#231815">Specific power (W kg<tspan dx="1.3" dy="-8">-1</tspan><tspan dx="-1.5" dy="8">)</tspan></text>
<rect x="563.50" y="410.50" width="97.00" height="41.00" fill="#fff"/>
<rect x="563.50" y="498.50" width="97.00" height="41.00" fill="#fff"/>
<line x1="595.83" y1="410.50" x2="595.83" y2="451.50" stroke="#e3e3e3" stroke-width="1"/>
<line x1="628.17" y1="410.50" x2="628.17" y2="451.50" stroke="#e3e3e3" stroke-width="1"/>
<line x1="563.50" y1="434.42" x2="660.50" y2="434.42" stroke="#e3e3e3" stroke-width="1"/>
<line x1="563.50" y1="417.33" x2="660.50" y2="417.33" stroke="#e3e3e3" stroke-width="1"/>
<line x1="563.50" y1="523.10" x2="660.50" y2="523.10" stroke="#e3e3e3" stroke-width="1"/>
<line x1="563.50" y1="506.70" x2="660.50" y2="506.70" stroke="#e3e3e3" stroke-width="1"/>
<polyline points="563.50,427.24 660.50,427.24" fill="none" stroke="#0a6cb5" stroke-width="1.5" stroke-linejoin="round"/>
<clipPath id="c9"><rect x="563.50" y="497.50" width="97.00" height="43.00"/></clipPath>
<g clip-path="url(#c9)">
<polyline points="563.50,526.38 572.88,526.38 573.52,502.60 574.17,513.26 574.82,514.08 576.76,512.44 586.46,510.80 587.10,509.16 587.75,511.62 588.40,526.38 589.04,529.99 589.69,523.10 590.34,526.38 605.21,526.38 605.86,502.60 606.50,513.26 607.15,514.08 609.09,512.44 618.79,510.80 619.44,509.16 620.08,511.62 620.73,526.38 621.38,529.99 622.02,523.10 622.67,526.38 637.54,526.38 638.19,502.60 638.84,513.26 639.48,514.08 641.42,512.44 651.12,510.80 651.77,509.16 652.42,511.62 653.06,526.38 653.71,529.99 654.36,523.10 655.00,526.38 660.50,526.38" fill="none" stroke="#0a6cb5" stroke-width="1.2" stroke-linejoin="round"/>
</g>
<path d="M563.50 451.50v-2.50M563.50 410.50v2.50M595.83 451.50v-2.50M595.83 410.50v2.50M628.17 451.50v-2.50M628.17 410.50v2.50M660.50 451.50v-2.50M660.50 410.50v2.50M563.50 451.50h2.50M660.50 451.50h-2.50M563.50 434.42h2.50M660.50 434.42h-2.50M563.50 417.33h2.50M660.50 417.33h-2.50" stroke="#231815" stroke-width="1" fill="none"/>
<rect x="563.50" y="410.50" width="97.00" height="41.00" stroke="#231815" stroke-width="1" fill="none"/>
<path d="M563.50 539.50v-2.50M563.50 498.50v2.50M660.50 539.50v-2.50M660.50 498.50v2.50M563.50 539.50h2.50M660.50 539.50h-2.50M563.50 523.10h2.50M660.50 523.10h-2.50M563.50 506.70h2.50M660.50 506.70h-2.50" stroke="#231815" stroke-width="1" fill="none"/>
<rect x="563.50" y="498.50" width="97.00" height="41.00" stroke="#231815" stroke-width="1" fill="none"/>
<text x="558.50" y="458.70" font-size="16" text-anchor="end" fill="#231815" font-weight="normal">0</text>
<text x="558.50" y="441.62" font-size="16" text-anchor="end" fill="#231815" font-weight="normal">5</text>
<text x="558.50" y="424.53" font-size="16" text-anchor="end" fill="#231815" font-weight="normal">10</text>
<text x="561.00" y="472.40" font-size="16" text-anchor="middle" fill="#231815" font-weight="normal">0</text>
<text x="594.63" y="472.40" font-size="16" text-anchor="middle" fill="#231815" font-weight="normal">20</text>
<text x="627.17" y="472.40" font-size="16" text-anchor="middle" fill="#231815" font-weight="normal">40</text>
<text x="659.70" y="472.40" font-size="16" text-anchor="middle" fill="#231815" font-weight="normal">60</text>
<text x="558.50" y="546.70" font-size="16" text-anchor="end" fill="#231815" font-weight="normal">7</text>
<text x="557.20" y="530.30" font-size="16" text-anchor="end" fill="#231815" font-weight="normal">7.1</text>
<text x="558.50" y="513.90" font-size="16" text-anchor="end" fill="#231815" font-weight="normal">7.2</text>
<text x="563.50" y="561.50" font-size="16" text-anchor="middle" fill="#231815" font-weight="normal">3000</text>
<text x="660.50" y="561.50" font-size="16" text-anchor="middle" fill="#231815" font-weight="normal">3000.3</text>
<path d="M563.50 498.50L612.00 427.24L660.50 498.50" fill="none" stroke="#d11f43" stroke-width="1.5" stroke-dasharray="3 2.2"/>
<text x="611.00" y="487.50" font-size="16.2" text-anchor="middle" fill="#231815" font-weight="normal">Thousands of cycles</text>
<text x="611.50" y="574.00" font-size="16.2" text-anchor="middle" fill="#231815" font-weight="normal">Time (s)</text>
<text x="490.80" y="440.60" font-size="16.4" text-anchor="middle" fill="#231815" font-weight="normal" transform="rotate(-90 490.80 440.60)">Average</text>
<text x="514.00" y="440.20" font-size="16.4" text-anchor="middle" fill="#231815" font-weight="normal" transform="rotate(-90 514.00 440.20)">tensile</text>
<text x="536.80" y="437.50" font-size="16.4" text-anchor="middle" fill="#231815" font-weight="normal" transform="rotate(-90 536.80 437.50)">force (N)</text>
<text x="510.20" y="526.60" font-size="16.4" text-anchor="middle" fill="#231815" font-weight="normal" transform="rotate(-90 510.20 526.60)">Tensile</text>
<text x="532.40" y="524.50" font-size="16.4" text-anchor="middle" fill="#231815" font-weight="normal" transform="rotate(-90 532.40 524.50)">force (N)</text>
<text x="-0.90" y="10.40" font-size="18.5" text-anchor="start" fill="#231815" font-weight="bold">a</text>
<text x="484.50" y="14.20" font-size="19" text-anchor="start" fill="#231815" font-weight="bold">b</text>
<text x="-0.60" y="396.30" font-size="18.5" text-anchor="start" fill="#231815" font-weight="bold">c</text>
<text x="484.00" y="395.90" font-size="19" text-anchor="start" fill="#231815" font-weight="bold">d</text></svg>
</body></html>
